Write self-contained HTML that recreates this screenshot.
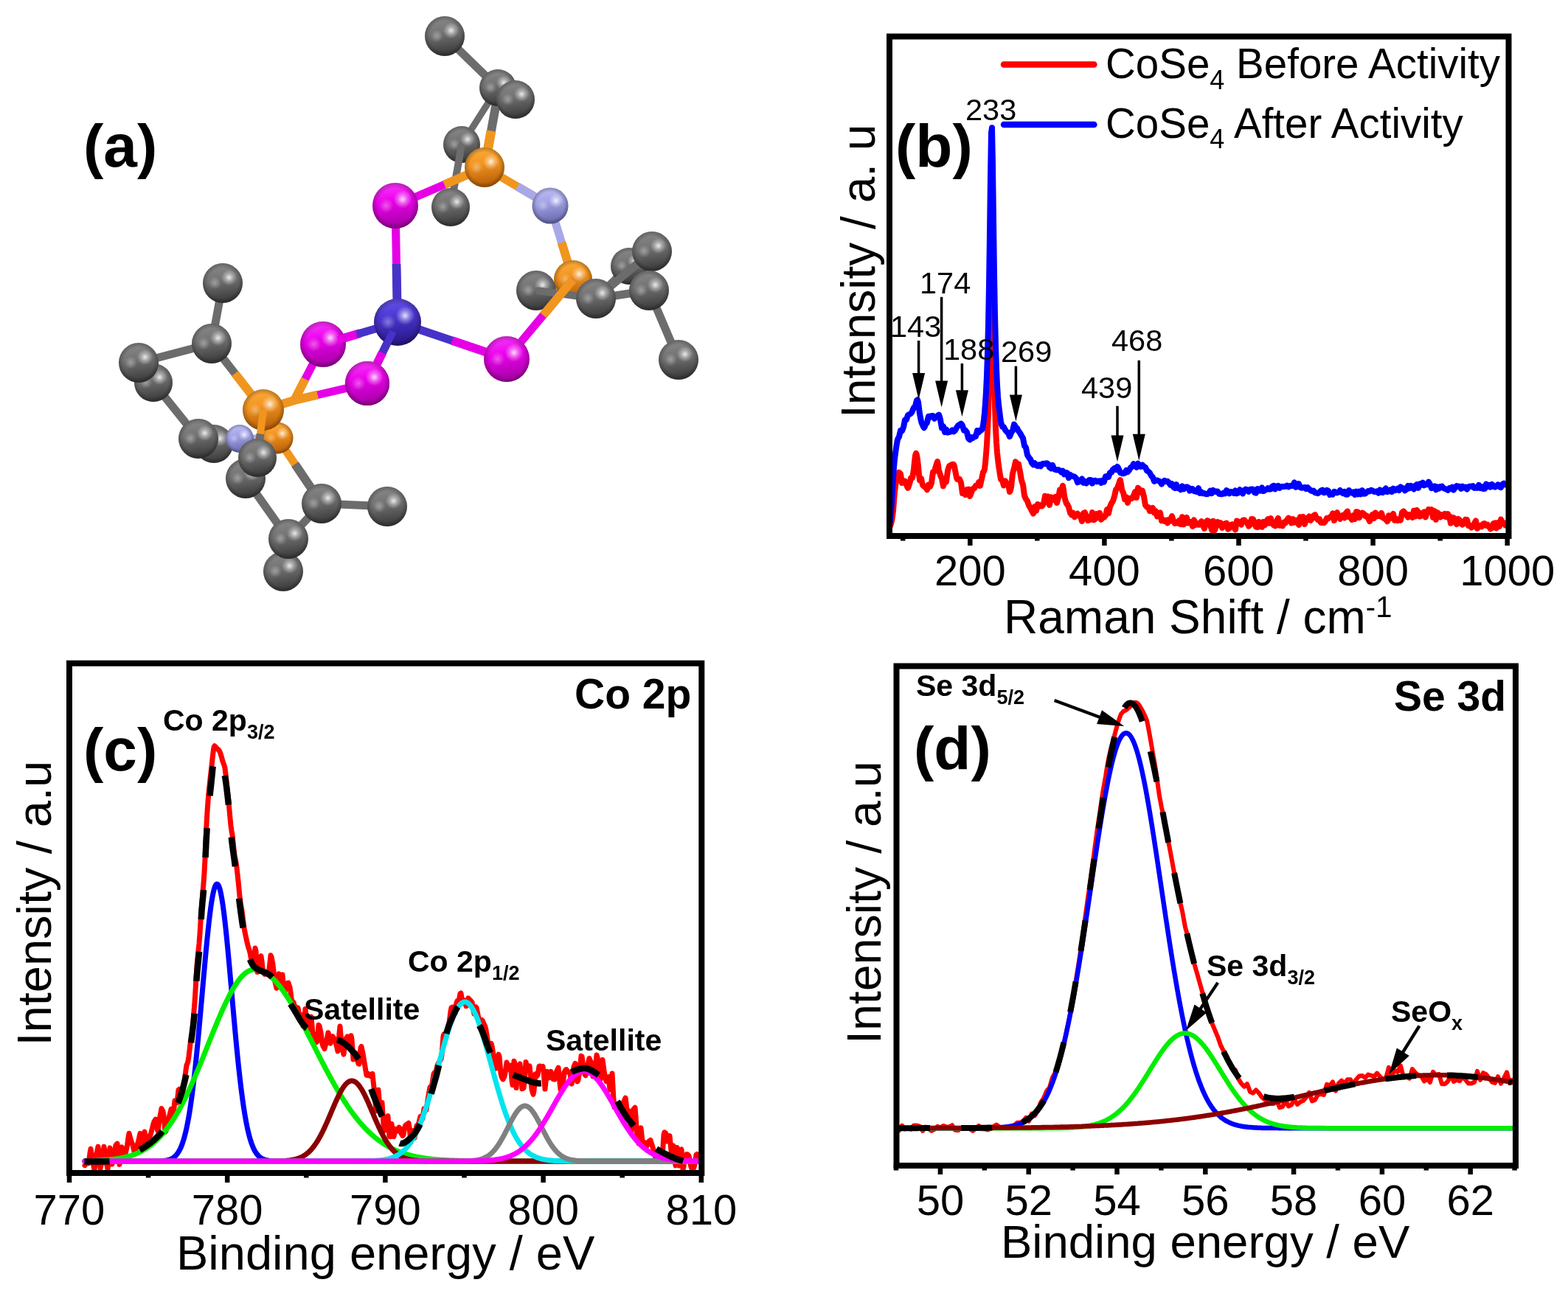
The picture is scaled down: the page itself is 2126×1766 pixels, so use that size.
<!DOCTYPE html><html><head><meta charset="utf-8"><title>Figure</title><style>html,body{margin:0;padding:0;background:#fff;}svg{display:block;}</style></head><body><svg width="2126" height="1766" viewBox="0 0 2126 1766" font-family="'Liberation Sans', Arial, Helvetica, sans-serif"><defs><linearGradient id="gC" x1="0" y1="0" x2="0.15" y2="1"><stop offset="0" stop-color="#8c8c8c"/><stop offset="0.45" stop-color="#747474"/><stop offset="1" stop-color="#3c3c3c"/></linearGradient><linearGradient id="gSe" x1="0" y1="0" x2="0.15" y2="1"><stop offset="0" stop-color="#ff40ff"/><stop offset="0.45" stop-color="#ea00ea"/><stop offset="1" stop-color="#a800a8"/></linearGradient><linearGradient id="gP" x1="0" y1="0" x2="0.15" y2="1"><stop offset="0" stop-color="#ffb040"/><stop offset="0.45" stop-color="#f29420"/><stop offset="1" stop-color="#b86008"/></linearGradient><linearGradient id="gCo" x1="0" y1="0" x2="0.15" y2="1"><stop offset="0" stop-color="#6a56f0"/><stop offset="0.45" stop-color="#4a36d0"/><stop offset="1" stop-color="#281888"/></linearGradient><linearGradient id="gN" x1="0" y1="0" x2="0.15" y2="1"><stop offset="0" stop-color="#c4c4f8"/><stop offset="0.45" stop-color="#a2a2e6"/><stop offset="1" stop-color="#6c6cb0"/></linearGradient><radialGradient id="gHL" cx="0.66" cy="0.36" r="0.2"><stop offset="0" stop-color="#fff" stop-opacity="0.85"/><stop offset="0.5" stop-color="#fff" stop-opacity="0.35"/><stop offset="1" stop-color="#fff" stop-opacity="0"/></radialGradient><radialGradient id="gHL2" cx="0.3" cy="0.5" r="0.16"><stop offset="0" stop-color="#fff" stop-opacity="0.35"/><stop offset="1" stop-color="#fff" stop-opacity="0"/></radialGradient><radialGradient id="gRim" cx="0.5" cy="0.5" r="0.5"><stop offset="0.75" stop-color="#000" stop-opacity="0"/><stop offset="1" stop-color="#000" stop-opacity="0.28"/></radialGradient></defs><rect width="100%" height="100%" fill="#fff"/><g id="pb">
<path d="M1207,713.5L1208,710.4L1209,706.7L1210,700.7L1211,693.3L1212,680.3L1213,667.1L1214,659.6L1215,652.3L1216,649.8L1217,651.6L1218,646.1L1219,640.9L1220,641.8L1221,642.8L1222,648.9L1223,655L1224,653.7L1225,652.6L1226,652.4L1227,652.4L1228,655L1229,657.5L1230,659.9L1231,661.8L1232,659.6L1233,656.2L1234,653L1235,648.6L1236,648.6L1237,648.3L1238,643L1239,636L1240,626.8L1241,618L1242,614.9L1243,617.3L1244,623.5L1245,632.4L1246,643.4L1247,651.3L1248,650.7L1249,649.2L1250,653.9L1251,657.9L1252,659L1253,660L1254,660.3L1255,660.3L1256,662.5L1257,664.2L1258,661.3L1259,657.5L1260,659L1261,660L1262,657.5L1263,655L1264,647.4L1265,640.2L1266,640L1267,639.6L1268,635.8L1269,632.1L1270,628.8L1271,626.1L1272,630.9L1273,638.5L1274,641.1L1275,644.4L1276,647.3L1277,648.6L1278,654.7L1279,659.3L1280,655.4L1281,650.4L1282,652.2L1283,653.5L1284,645.8L1285,638.5L1286,635.1L1287,632.2L1288,631.6L1289,631L1290,630.4L1291,630.1L1292,629.8L1293,629.9L1294,632.4L1295,637.9L1296,642.5L1297,647.9L1298,650.2L1299,650.4L1300,650.3L1301,649.9L1302,652.3L1303,654.8L1304,661.9L1305,669.1L1306,667.3L1307,665.4L1308,668.3L1309,671L1310,667.8L1311,664.1L1312,664.1L1313,663.6L1314,668.4L1315,673L1316,670.6L1317,668.1L1318,665.5L1319,663L1320,662.6L1321,662.3L1322,660.5L1323,658.7L1324,658.8L1325,658.8L1326,657L1327,654.1L1328,656.5L1329,658.8L1330,653.9L1331,649.5L1332,645.1L1333,640.3L1334,639.3L1335,636.6L1336,627.4L1337,616.2L1338,603L1339,584.4L1340,558.8L1341,519.7L1342,462L1343,387.3L1344,320.9L1345,313.3L1346,371.5L1347,448.4L1348,509.7L1349,551.9L1350,580.8L1351,600.3L1352,613.8L1353,623.2L1354,631.4L1355,638L1356,644.3L1357,650.1L1358,651.3L1359,651.6L1360,655.2L1361,658.5L1362,655.5L1363,652.4L1364,654.1L1365,655.7L1366,656.2L1367,656.6L1368,661.9L1369,667L1370,665L1371,660.7L1372,651.5L1373,642.2L1374,638.5L1375,635.3L1376,630.5L1377,626.4L1378,627.5L1379,631L1380,629.6L1381,629.6L1382,634.8L1383,639.4L1384,645.5L1385,651.6L1386,654.6L1387,657.5L1388,665.1L1389,672.4L1390,674.7L1391,676.9L1392,678.4L1393,679.7L1394,682.7L1395,685.5L1396,687.3L1397,688.9L1398,690.8L1399,692.7L1400,694.8L1401,696.6L1402,692.2L1403,687.4L1404,690.4L1405,692.8L1406,688.6L1407,684L1408,684.5L1409,684.8L1410,685.6L1411,686.6L1412,686.4L1413,686.5L1414,684.9L1415,683.4L1416,678.1L1417,672.8L1418,674.5L1419,676.3L1420,674.9L1421,673.6L1422,679.2L1423,684.9L1424,679.6L1425,674.3L1426,675.3L1427,676.2L1428,677.2L1429,678.1L1430,676.2L1431,673.9L1432,678.2L1433,682L1434,678.6L1435,675L1436,669.8L1437,664.6L1438,664.9L1439,665.6L1440,661.9L1441,658.8L1442,664.3L1443,672.8L1444,676.7L1445,680.3L1446,683.2L1447,683.8L1448,685.9L1449,687.7L1450,691.7L1451,695.6L1452,697L1453,698.4L1454,697.1L1455,695.7L1456,698.5L1457,701.2L1458,700L1459,698.7L1460,697.8L1461,696.8L1462,698.3L1463,699.7L1464,700.2L1465,700.6L1466,703.8L1467,707L1468,701.6L1469,696.1L1470,695.6L1471,695.2L1472,698.1L1473,701L1474,703.5L1475,706L1476,705.7L1477,705.4L1478,704.2L1479,703L1480,699.1L1481,695.1L1482,700.2L1483,705.2L1484,704.6L1485,704L1486,700.6L1487,697.2L1488,699.4L1489,701.5L1490,698.8L1491,695.8L1492,700.3L1493,704.6L1494,703.4L1495,702.1L1496,701.9L1497,701.6L1498,700.4L1499,699.2L1500,695.2L1501,691.2L1502,693.8L1503,696.3L1504,691.8L1505,687.1L1506,685L1507,682.5L1508,681.3L1509,679.4L1510,676.2L1511,673.2L1512,668.6L1513,664.2L1514,663L1515,661.8L1516,659L1517,656.7L1518,653.1L1519,651.1L1520,656.6L1521,663.7L1522,666.6L1523,668.1L1524,672.6L1525,677L1526,675.8L1527,674.2L1528,678.4L1529,681.9L1530,679.1L1531,676.1L1532,676.3L1533,676.3L1534,676.1L1535,675.9L1536,674L1537,672.2L1538,669.8L1539,667.2L1540,671.1L1541,674.9L1542,668.3L1543,661.8L1544,662.8L1545,663.9L1546,665.2L1547,667.5L1548,666.2L1549,665.7L1550,669.7L1551,673.4L1552,679.7L1553,685.3L1554,686.5L1555,687.7L1556,687.8L1557,687.9L1558,690.6L1559,693.2L1560,693.2L1561,693.1L1562,691.1L1563,689L1564,692.2L1565,695.4L1566,694.3L1567,693.2L1568,696.8L1569,700.3L1570,698.7L1571,697.1L1572,696.3L1573,695.5L1574,700.9L1575,706.2L1576,705.7L1577,705.2L1578,706.2L1579,707.1L1580,706.5L1581,705.7L1582,707.5L1583,709.2L1584,707.1L1585,705L1586,705.8L1587,706.6L1588,703.3L1589,700.1L1590,703.3L1591,706.5L1592,708.2L1593,709.9L1594,709.2L1595,708.5L1596,709.2L1597,709.8L1598,707.9L1599,705.9L1600,708.5L1601,711L1602,706.1L1603,701.2L1604,706.3L1605,711.4L1606,708.3L1607,705.2L1608,703.6L1609,702L1610,705.7L1611,709.4L1612,708.6L1613,707.8L1614,707.9L1615,708L1616,711L1617,714L1618,709.7L1619,705.3L1620,708.7L1621,712L1622,710.9L1623,709.8L1624,710.8L1625,711.7L1626,711.7L1627,711.7L1628,709.4L1629,707.2L1630,709.7L1631,712.2L1632,714.6L1633,716.9L1634,712.5L1635,708L1636,707L1637,706.1L1638,706.5L1639,706.9L1640,709.5L1641,712.1L1642,715.5L1643,718.9L1644,712.8L1645,706.8L1646,713L1647,719.2L1648,716.3L1649,713.4L1650,710.7L1651,708L1652,710L1653,711.9L1654,710.6L1655,709.2L1656,712.5L1657,715.8L1658,714.7L1659,713.5L1660,711.9L1661,710.2L1662,710L1663,709.7L1664,713.7L1665,717.6L1666,716.9L1667,716.2L1668,714L1669,711.8L1670,711.5L1671,711.2L1672,713.3L1673,715.4L1674,716.9L1675,718.3L1676,712.4L1677,706.5L1678,707L1679,707.4L1680,708.6L1681,709.9L1682,710.7L1683,711.6L1684,708.6L1685,705.7L1686,705.5L1687,705.3L1688,706.3L1689,707.3L1690,708.3L1691,709.2L1692,711.5L1693,713.7L1694,712.7L1695,711.8L1696,708L1697,704.1L1698,704.1L1699,704.2L1700,706.7L1701,709.3L1702,712L1703,714.7L1704,714.9L1705,715L1706,711.4L1707,707.8L1708,711.1L1709,714.4L1710,714.6L1711,714.8L1712,711.4L1713,707.9L1714,710L1715,712.2L1716,709.6L1717,707.1L1718,705.6L1719,704.2L1720,706.9L1721,709.5L1722,706.3L1723,703L1724,706.7L1725,710.4L1726,711.3L1727,712.2L1728,712.8L1729,713.4L1730,710.3L1731,707.2L1732,705L1733,702.8L1734,707.8L1735,712.8L1736,712.5L1737,712.3L1738,712.8L1739,713.4L1740,710.9L1741,708.4L1742,708.9L1743,709.3L1744,707.3L1745,705.3L1746,704L1747,702.6L1748,703.3L1749,703.9L1750,706.6L1751,709.4L1752,706.7L1753,704.1L1754,706.4L1755,708.7L1756,707.4L1757,706.1L1758,705.7L1759,705.3L1760,708.6L1761,711.9L1762,706.6L1763,701.3L1764,703.3L1765,705.4L1766,703.2L1767,701L1768,705.9L1769,710.9L1770,708L1771,705L1772,703.9L1773,702.8L1774,701.7L1775,700.5L1776,703.2L1777,705.9L1778,704.6L1779,703.3L1780,701.4L1781,699.6L1782,698.9L1783,698.2L1784,700.5L1785,702.7L1786,703.9L1787,705.1L1788,704.6L1789,704.1L1790,706.5L1791,708.9L1792,708.9L1793,708.9L1794,709L1795,709.1L1796,708.1L1797,707.1L1798,705L1799,702.8L1800,703L1801,703.2L1802,702.3L1803,701.4L1804,701.3L1805,701.2L1806,698.7L1807,696.3L1808,701.1L1809,705.9L1810,702.1L1811,698.4L1812,696.9L1813,695.3L1814,698L1815,700.7L1816,702.3L1817,703.8L1818,701.8L1819,699.9L1820,699.3L1821,698.7L1822,700.5L1823,702.4L1824,699.1L1825,695.8L1826,694.7L1827,693.7L1828,697.5L1829,701.2L1830,700.8L1831,700.4L1832,702.6L1833,704.8L1834,701.9L1835,699.1L1836,701.5L1837,704L1838,699.1L1839,694.2L1840,694.3L1841,694.5L1842,698.3L1843,702.1L1844,699.8L1845,697.5L1846,696.5L1847,695.6L1848,696.1L1849,696.6L1850,698.3L1851,700L1852,699.8L1853,699.6L1854,701.2L1855,702.7L1856,704.9L1857,707L1858,703.6L1859,700.3L1860,699.1L1861,697.9L1862,700.4L1863,703L1864,699.2L1865,695.5L1866,697.9L1867,700.4L1868,699.9L1869,699.5L1870,699.9L1871,700.3L1872,698.1L1873,695.8L1874,699.1L1875,702.3L1876,702.7L1877,703.1L1878,703.8L1879,704.6L1880,705.9L1881,707.2L1882,703.2L1883,699.2L1884,701.1L1885,703L1886,701.6L1887,700.1L1888,698.6L1889,697L1890,701.3L1891,705.7L1892,704.7L1893,703.7L1894,704.9L1895,706.1L1896,705.2L1897,704.4L1898,704.9L1899,705.5L1900,700.3L1901,695.1L1902,694.3L1903,693.5L1904,694.6L1905,695.7L1906,697L1907,698.3L1908,700L1909,701.6L1910,699.9L1911,698.2L1912,698.6L1913,698.9L1914,700.4L1915,701.9L1916,697.3L1917,692.7L1918,696.6L1919,700.4L1920,696.2L1921,692L1922,693.2L1923,694.4L1924,697.4L1925,700.4L1926,700.1L1927,699.7L1928,697.8L1929,696L1930,695.2L1931,694.4L1932,697.9L1933,701.3L1934,697.7L1935,694.1L1936,692.5L1937,690.9L1938,692.4L1939,693.9L1940,692.5L1941,691.2L1942,696.4L1943,701.7L1944,697.5L1945,693.2L1946,698.9L1947,704.7L1948,700L1949,695.3L1950,696.2L1951,697.1L1952,699.2L1953,701.3L1954,699.8L1955,698.3L1956,699.1L1957,699.9L1958,698.4L1959,696.9L1960,699.1L1961,701.2L1962,699.2L1963,697.1L1964,698.7L1965,700.2L1966,705L1967,709.7L1968,705.8L1969,701.9L1970,702.1L1971,702.2L1972,705.1L1973,707.9L1974,709.5L1975,711L1976,707.4L1977,703.8L1978,704.6L1979,705.3L1980,707.7L1981,710.2L1982,710.9L1983,711.6L1984,710.7L1985,709.8L1986,707.2L1987,704.6L1988,704.8L1989,705L1990,709L1991,712.9L1992,712.8L1993,712.7L1994,714.1L1995,715.5L1996,714.9L1997,714.3L1998,712.1L1999,710L2000,708.2L2001,706.5L2002,711.6L2003,716.6L2004,715.4L2005,714.2L2006,713.6L2007,712.8L2008,713.6L2009,714.3L2010,712.4L2011,710.5L2012,710.2L2013,710L2014,711.4L2015,712.9L2016,712.3L2017,711.7L2018,713.1L2019,714.5L2020,715.9L2021,717.3L2022,716.6L2023,716L2024,712.9L2025,709.8L2026,709.6L2027,709.4L2028,712.9L2029,716.3L2030,712.7L2031,709.1L2032,711.6L2033,714L2034,709.3L2035,704.5L2036,706.6L2037,708.7L2038,709L2039,709.2L2040,710.8L2041,712.5L2042,712.7" fill="none" stroke="#ff0000" stroke-width="8" stroke-linejoin="round" stroke-linecap="round"/>
<path d="M1207,706.9L1208,694.8L1209,682.9L1210,665.6L1211,648L1212,634L1213,622.9L1214,614.9L1215,608L1216,601.4L1217,596.3L1218,594.1L1219,592.5L1220,588.1L1221,584L1222,584.2L1223,584.4L1224,581.9L1225,579.5L1226,574.5L1227,569.6L1228,569.3L1229,569.2L1230,566.1L1231,563.2L1232,562.5L1233,561.9L1234,561.5L1235,560.9L1236,559.6L1237,557.6L1238,555.1L1239,552.8L1240,552L1241,551L1242,546.7L1243,543L1244,542.3L1245,545.5L1246,553.6L1247,561.1L1248,566.4L1249,571.4L1250,574.4L1251,576.7L1252,578.7L1253,580.2L1254,578.3L1255,574.8L1256,574.6L1257,573.3L1258,568.4L1259,564.7L1260,564.7L1261,565.7L1262,564.8L1263,564L1264,564.1L1265,564L1266,566L1267,567.7L1268,566.7L1269,565.7L1270,565.4L1271,565.3L1272,563.2L1273,562.6L1274,565.4L1275,569.2L1276,575.3L1277,580.4L1278,579.6L1279,578.3L1280,582.2L1281,586.1L1282,584.4L1283,582.5L1284,584.6L1285,586.6L1286,586.4L1287,586.1L1288,585.9L1289,585.5L1290,584.7L1291,583.5L1292,584.6L1293,585.5L1294,584.8L1295,583.9L1296,582.1L1297,580.2L1298,578.6L1299,577.1L1300,576.5L1301,576.2L1302,575.2L1303,574.6L1304,575.6L1305,577.3L1306,580.5L1307,583.8L1308,583.9L1309,583.6L1310,585L1311,586.5L1312,590.5L1313,594.4L1314,595.6L1315,596.4L1316,594.9L1317,593.1L1318,593.7L1319,594.1L1320,593.3L1321,592.4L1322,592.2L1323,592L1324,588.1L1325,584.2L1326,585.5L1327,586.5L1328,584.5L1329,583.5L1330,583.7L1331,583.1L1332,581.3L1333,576.5L1334,568.9L1335,559.4L1336,546.9L1337,530.7L1338,509.1L1339,479.9L1340,440.7L1341,387L1342,317L1343,239.4L1344,180.1L1345,173.3L1346,223.3L1347,298.8L1348,370.5L1349,427.2L1350,469.1L1351,499.5L1352,521.7L1353,538.1L1354,548.8L1355,556.4L1356,564.8L1357,572L1358,575.9L1359,578.8L1360,579.4L1361,579.2L1362,581.2L1363,583.1L1364,584.5L1365,585.7L1366,586.5L1367,587.1L1368,589.8L1369,592.1L1370,589.9L1371,586.8L1372,585.6L1373,584.1L1374,579.6L1375,575.6L1376,576.9L1377,579.5L1378,579.9L1379,580.8L1380,582.8L1381,584.8L1382,586L1383,587.4L1384,589.1L1385,591L1386,592.6L1387,594.2L1388,599.2L1389,604.7L1390,605.8L1391,607.1L1392,612.2L1393,617.1L1394,619L1395,620.3L1396,621.9L1397,622.7L1398,625.3L1399,627.9L1400,629.1L1401,630.2L1402,629.3L1403,628.3L1404,629.8L1405,631.1L1406,631.6L1407,632.1L1408,631.3L1409,630.4L1410,631.3L1411,632.3L1412,630.8L1413,629.4L1414,629.1L1415,628.7L1416,628.9L1417,629.2L1418,628.7L1419,628.3L1420,628.7L1421,629.1L1422,631.5L1423,633.9L1424,634.7L1425,635.5L1426,633.1L1427,630.8L1428,633.3L1429,635.9L1430,636.5L1431,637.1L1432,637.3L1433,637.4L1434,637.3L1435,637.2L1436,637.7L1437,638.1L1438,639.3L1439,640.5L1440,639.6L1441,638.8L1442,641L1443,643.3L1444,642.1L1445,641L1446,641.1L1447,641.3L1448,644.8L1449,648.2L1450,646.1L1451,643.9L1452,644.8L1453,645.7L1454,645.9L1455,646L1456,646.4L1457,646.8L1458,647.7L1459,648.5L1460,651.4L1461,654.3L1462,653.9L1463,653.4L1464,652.6L1465,651.8L1466,650.6L1467,649.5L1468,652.2L1469,655L1470,654L1471,653L1472,654.2L1473,655.5L1474,654.5L1475,653.4L1476,652.1L1477,650.9L1478,650.9L1479,651L1480,653.3L1481,655.6L1482,653.9L1483,652.1L1484,651.9L1485,651.7L1486,652.5L1487,653.4L1488,652.9L1489,652.5L1490,652.5L1491,652.3L1492,653.7L1493,654.9L1494,653.3L1495,651.6L1496,652.6L1497,653.5L1498,649.9L1499,646.2L1500,646.1L1501,645.7L1502,646.4L1503,646.9L1504,644L1505,641.1L1506,640.8L1507,640.6L1508,638.6L1509,636.8L1510,636L1511,635.2L1512,636.1L1513,637.1L1514,635L1515,633L1516,634.4L1517,636.6L1518,638.8L1519,641.2L1520,641.6L1521,641.5L1522,642.3L1523,642.2L1524,642.1L1525,641.7L1526,639.9L1527,638L1528,639L1529,640.1L1530,638.8L1531,637.6L1532,635.9L1533,634.2L1534,633.5L1535,632.9L1536,631L1537,629.3L1538,630.2L1539,631.3L1540,632.6L1541,633.9L1542,631.3L1543,628.7L1544,630.6L1545,632.6L1546,632.7L1547,633L1548,631.8L1549,630.8L1550,631.8L1551,632.9L1552,633.4L1553,634L1554,636.2L1555,638.4L1556,638.9L1557,639.7L1558,640.5L1559,641.4L1560,643.5L1561,645.4L1562,646.5L1563,647.2L1564,650.1L1565,653L1566,652.3L1567,651.6L1568,651.6L1569,651.5L1570,651.9L1571,652.3L1572,652.9L1573,653.5L1574,655L1575,656.6L1576,655L1577,653.4L1578,652.6L1579,651.9L1580,652.6L1581,653.3L1582,653.1L1583,652.8L1584,653.8L1585,654.7L1586,656.3L1587,657.9L1588,657.1L1589,656.3L1590,658.5L1591,660.6L1592,661.3L1593,662L1594,659.6L1595,657.2L1596,659.6L1597,662.1L1598,661.9L1599,661.6L1600,662.9L1601,664.2L1602,661.8L1603,659.4L1604,661.4L1605,663.4L1606,662.2L1607,661L1608,660.7L1609,660.4L1610,660.7L1611,661.1L1612,663.4L1613,665.7L1614,664.4L1615,663.1L1616,663.1L1617,663.1L1618,664.6L1619,666.2L1620,666.3L1621,666.5L1622,666.8L1623,667.2L1624,664.6L1625,662.1L1626,665.4L1627,668.8L1628,668.1L1629,667.4L1630,668.3L1631,669.3L1632,669.2L1633,669.1L1634,669.6L1635,670.1L1636,670.2L1637,670.3L1638,669.6L1639,668.9L1640,667.3L1641,665.6L1642,667.4L1643,669.1L1644,667.1L1645,665L1646,666L1647,667L1648,666.8L1649,666.5L1650,666.6L1651,666.6L1652,668.2L1653,669.8L1654,670L1655,670.2L1656,670.3L1657,670.3L1658,669.4L1659,668.5L1660,668.9L1661,669.4L1662,667.3L1663,665.2L1664,665.8L1665,666.5L1666,667.9L1667,669.3L1668,668.2L1669,667.1L1670,667.2L1671,667.2L1672,668.1L1673,669L1674,667.2L1675,665.4L1676,667.4L1677,669.4L1678,669L1679,668.5L1680,666.4L1681,664.2L1682,665.3L1683,666.4L1684,667.9L1685,669.5L1686,667.3L1687,665.2L1688,664.4L1689,663.5L1690,664L1691,664.4L1692,665.6L1693,666.7L1694,665.2L1695,663.8L1696,663.6L1697,663.4L1698,663.6L1699,663.7L1700,665.9L1701,668L1702,668.4L1703,668.7L1704,665.9L1705,663.1L1706,664.3L1707,665.4L1708,665.6L1709,665.8L1710,663.7L1711,661.5L1712,663.9L1713,666.2L1714,665.6L1715,664.9L1716,664.5L1717,664L1718,663.1L1719,662.2L1720,663L1721,663.7L1722,663.6L1723,663.5L1724,661.5L1725,659.6L1726,659.2L1727,658.9L1728,661.1L1729,663.3L1730,661.5L1731,659.7L1732,659.3L1733,658.9L1734,660.4L1735,661.9L1736,661L1737,660.2L1738,660.1L1739,660L1740,660L1741,660L1742,659.9L1743,659.9L1744,659.3L1745,658.6L1746,659.5L1747,660.4L1748,659.7L1749,659L1750,659L1751,659.1L1752,659.1L1753,659.1L1754,656.7L1755,654.4L1756,657.6L1757,660.8L1758,660.4L1759,659.9L1760,658.1L1761,656.3L1762,658.7L1763,661.1L1764,661.5L1765,661.8L1766,661.6L1767,661.3L1768,661.1L1769,660.9L1770,662L1771,663.1L1772,662.2L1773,661.3L1774,662.3L1775,663.3L1776,664.3L1777,665.2L1778,665.7L1779,666.2L1780,665.9L1781,665.6L1782,666.9L1783,668.2L1784,668.5L1785,668.7L1786,668.9L1787,669.2L1788,668.4L1789,667.5L1790,666.6L1791,665.6L1792,665.1L1793,664.6L1794,666.5L1795,668.3L1796,668.1L1797,668L1798,666.4L1799,664.8L1800,665.3L1801,665.7L1802,668.4L1803,671L1804,670.3L1805,669.6L1806,670.1L1807,670.6L1808,668.7L1809,666.9L1810,667.2L1811,667.6L1812,668.1L1813,668.5L1814,668L1815,667.4L1816,666.2L1817,665L1818,666.4L1819,667.8L1820,668.4L1821,669.1L1822,668.1L1823,667.1L1824,668.9L1825,670.7L1826,670.7L1827,670.8L1828,667.9L1829,665L1830,666.2L1831,667.5L1832,668.1L1833,668.6L1834,668L1835,667.4L1836,669.2L1837,671L1838,668.8L1839,666.6L1840,668.5L1841,670.4L1842,668.6L1843,666.8L1844,668.5L1845,670.2L1846,667.6L1847,665.1L1848,667.4L1849,669.8L1850,669.7L1851,669.6L1852,668.7L1853,667.8L1854,666.9L1855,666L1856,666.2L1857,666.4L1858,665.6L1859,664.7L1860,665.1L1861,665.5L1862,666.2L1863,666.9L1864,666.9L1865,666.8L1866,666.6L1867,666.3L1868,667.5L1869,668.7L1870,666.5L1871,664.3L1872,666L1873,667.8L1874,667.9L1875,668.1L1876,666.3L1877,664.6L1878,663.5L1879,662.5L1880,664.8L1881,667.1L1882,666.7L1883,666.3L1884,665.4L1885,664.5L1886,665.8L1887,667.1L1888,664.8L1889,662.6L1890,664L1891,665.3L1892,665L1893,664.6L1894,663.7L1895,662.7L1896,663.9L1897,665L1898,662.8L1899,660.5L1900,661L1901,661.6L1902,662.1L1903,662.5L1904,663.9L1905,665.3L1906,664.5L1907,663.8L1908,661.4L1909,659L1910,660.7L1911,662.4L1912,660.7L1913,658.9L1914,659.6L1915,660.2L1916,661.9L1917,663.5L1918,661.2L1919,658.8L1920,658L1921,657.2L1922,659.5L1923,661.8L1924,659L1925,656.3L1926,657L1927,657.7L1928,656.2L1929,654.7L1930,656.5L1931,658.3L1932,657.5L1933,656.7L1934,656.8L1935,657.1L1936,655.3L1937,653.7L1938,655.4L1939,657.1L1940,659.7L1941,662.2L1942,661.2L1943,660.1L1944,659.9L1945,659.5L1946,661.9L1947,664.3L1948,662.4L1949,660.5L1950,661.6L1951,662.6L1952,661.3L1953,660L1954,659.8L1955,659.6L1956,660.8L1957,662L1958,662.4L1959,662.9L1960,663.3L1961,663.7L1962,664.2L1963,664.8L1964,663.4L1965,662.1L1966,662.7L1967,663.2L1968,662L1969,660.8L1970,662.7L1971,664.5L1972,662.8L1973,661L1974,660L1975,659L1976,659.6L1977,660.1L1978,659.9L1979,659.7L1980,661.3L1981,662.9L1982,661.3L1983,659.8L1984,660.7L1985,661.6L1986,661.2L1987,660.7L1988,662.1L1989,663.6L1990,661.9L1991,660.2L1992,660L1993,659.7L1994,659.8L1995,659.9L1996,659.5L1997,659.1L1998,660.5L1999,661.9L2000,661.4L2001,660.9L2002,661.3L2003,661.8L2004,659.8L2005,657.9L2006,660L2007,662.1L2008,661.2L2009,660.3L2010,661.7L2011,663L2012,663L2013,662.9L2014,659.8L2015,656.6L2016,658.4L2017,660.2L2018,659L2019,657.9L2020,659.2L2021,660.6L2022,658.7L2023,656.9L2024,658.2L2025,659.5L2026,660.1L2027,660.6L2028,659.9L2029,659.3L2030,658.4L2031,657.4L2032,658.8L2033,660.2L2034,660.7L2035,661.2L2036,659.1L2037,656.9L2038,656.3L2039,655.7L2040,656.6L2041,657.4L2042,657.4" fill="none" stroke="#0000ff" stroke-width="8" stroke-linejoin="round" stroke-linecap="round"/>
<rect x="1206" y="49.5" width="839.5" height="677.5" fill="none" stroke="#000" stroke-width="8"/>
<line x1="1315.3" y1="723" x2="1315.3" y2="740" stroke="#000" stroke-width="6.5"/><line x1="1497.4" y1="723" x2="1497.4" y2="740" stroke="#000" stroke-width="6.5"/><line x1="1679.5" y1="723" x2="1679.5" y2="740" stroke="#000" stroke-width="6.5"/><line x1="1861.6" y1="723" x2="1861.6" y2="740" stroke="#000" stroke-width="6.5"/><line x1="2043.7" y1="723" x2="2043.7" y2="740" stroke="#000" stroke-width="6.5"/><line x1="1224.2" y1="725" x2="1224.2" y2="733.5" stroke="#000" stroke-width="6.5"/><line x1="1406.3" y1="725" x2="1406.3" y2="733.5" stroke="#000" stroke-width="6.5"/><line x1="1588.4" y1="725" x2="1588.4" y2="733.5" stroke="#000" stroke-width="6.5"/><line x1="1770.5" y1="725" x2="1770.5" y2="733.5" stroke="#000" stroke-width="6.5"/><line x1="1952.7" y1="725" x2="1952.7" y2="733.5" stroke="#000" stroke-width="6.5"/>
<text x="1315.3" y="793.6" font-size="58" font-weight="normal" text-anchor="middle">200</text>
<text x="1497.4" y="793.6" font-size="58" font-weight="normal" text-anchor="middle">400</text>
<text x="1679.5" y="793.6" font-size="58" font-weight="normal" text-anchor="middle">600</text>
<text x="1861.6" y="793.6" font-size="58" font-weight="normal" text-anchor="middle">800</text>
<text x="2043.7" y="793.6" font-size="58" font-weight="normal" text-anchor="middle">1000</text>
<text x="1361" y="859.3" font-size="64" font-weight="normal" text-anchor="start">Raman Shift / cm<tspan font-size="40" dy="-22">-1</tspan></text>
<text transform="translate(1185.5,567) rotate(-90)" x="0" y="0" font-size="64">Intensity / a. u</text>
<text x="1214" y="225.5" font-size="82" font-weight="bold" text-anchor="start">(b)</text>
<line x1="1361" y1="87.5" x2="1483.4" y2="87.5" stroke="#ff0000" stroke-width="8.5" stroke-linecap="round"/>
<line x1="1361" y1="169" x2="1483.4" y2="169" stroke="#0000ff" stroke-width="8.5" stroke-linecap="round"/>
<text x="1499" y="106.2" font-size="56.5" font-weight="normal" text-anchor="start">CoSe<tspan font-size="36" dy="14.3">4</tspan><tspan dy="-14.3"> Before Activity</tspan></text>
<text x="1499" y="187.1" font-size="56.5" font-weight="normal" text-anchor="start">CoSe<tspan font-size="36" dy="14.3">4</tspan><tspan dy="-14.3"> After Activity</tspan></text>
<text x="1309" y="162.8" font-size="41.5" font-weight="normal" text-anchor="start">233</text>
<text x="1247" y="397.6" font-size="41.5" font-weight="normal" text-anchor="start">174</text>
<line x1="1276.6" y1="402.8" x2="1276.6" y2="518.4" stroke="#000" stroke-width="3.5"/><path d="M1268.1,516.4L1285.1,516.4L1276.6,552.4Z" fill="#000"/>
<text x="1207" y="457" font-size="41.5" font-weight="normal" text-anchor="start">143</text>
<line x1="1245.6" y1="462" x2="1245.6" y2="508" stroke="#000" stroke-width="3.5"/><path d="M1237.1,506L1254.1,506L1245.6,542Z" fill="#000"/>
<text x="1279" y="488" font-size="41.5" font-weight="normal" text-anchor="start">188</text>
<line x1="1304.4" y1="493" x2="1304.4" y2="531.3" stroke="#000" stroke-width="3.5"/><path d="M1295.9,529.3L1312.9,529.3L1304.4,565.3Z" fill="#000"/>
<text x="1357" y="490.5" font-size="41.5" font-weight="normal" text-anchor="start">269</text>
<line x1="1377.4" y1="496.6" x2="1377.4" y2="537.4" stroke="#000" stroke-width="3.5"/><path d="M1368.9,535.4L1385.9,535.4L1377.4,571.4Z" fill="#000"/>
<text x="1466" y="540.4" font-size="41.5" font-weight="normal" text-anchor="start">439</text>
<line x1="1515" y1="550.7" x2="1515" y2="592.4" stroke="#000" stroke-width="3.5"/><path d="M1506.5,590.4L1523.5,590.4L1515,626.4Z" fill="#000"/>
<text x="1507" y="476" font-size="41.5" font-weight="normal" text-anchor="start">468</text>
<line x1="1544.3" y1="488.8" x2="1544.3" y2="590.7" stroke="#000" stroke-width="3.5"/><path d="M1535.8,588.7L1552.8,588.7L1544.3,624.7Z" fill="#000"/>
</g>
<g id="pc">
<path d="M115,1580.8L116,1578.7L117,1576.4L118,1575.5L119,1576.7L120,1577.8L121,1571.7L122,1563.6L123,1558.3L124,1565.1L125,1572L126,1577.5L127,1582.1L128,1586.8L129,1579.1L130,1571.2L131,1564.6L132,1559.9L133,1555.2L134,1563.8L135,1575.9L136,1585L137,1580.7L138,1576.4L139,1570.2L140,1562.6L141,1555.2L142,1562.4L143,1569.7L144,1576L145,1580.9L146,1585.8L147,1577.1L148,1564.8L149,1557L150,1566.8L151,1576.7L152,1579.1L153,1576.4L154,1573.7L155,1566L156,1558.2L157,1553.1L158,1552.1L159,1551.2L160,1560.3L161,1572.1L162,1579.4L163,1569.3L164,1559.2L165,1555.9L166,1557L167,1558.2L168,1561.2L169,1564.2L170,1564.5L171,1560.6L172,1556.8L173,1550L174,1542.5L175,1537.2L176,1540.9L177,1544.6L178,1547.8L179,1550.7L180,1553.6L181,1557.7L182,1561.8L183,1563L184,1560L185,1556.9L186,1553.5L187,1550L188,1546.4L189,1541.8L190,1537.3L191,1540.9L192,1549.9L193,1559L194,1548.6L195,1538.1L196,1535L197,1543.1L198,1551.2L199,1549.3L200,1544.8L201,1541.2L202,1541.4L203,1541.5L204,1539.3L205,1535.7L206,1532.1L207,1528.2L208,1524.2L209,1521.3L210,1519.8L211,1518.2L212,1523.4L213,1530.3L214,1534.3L215,1527.1L216,1520.2L217,1514.2L218,1508.9L219,1503.5L220,1505.5L221,1507.5L222,1513.1L223,1524.3L224,1535.4L225,1533.8L226,1528.7L227,1524L228,1520.3L229,1516.7L230,1512.7L231,1508.5L232,1504.4L233,1508.6L234,1512.5L235,1510.8L236,1501.8L237,1493.1L238,1493.5L239,1495.9L240,1495.8L241,1486.8L242,1478.2L243,1477.4L244,1481.1L245,1484.2L246,1483.8L247,1482.9L248,1479.7L249,1473.6L250,1467.4L251,1459.5L252,1451.3L253,1444.8L254,1442.7L255,1439.2L256,1432.7L257,1424.2L258,1415.5L259,1410.6L260,1405.8L261,1397.7L262,1385L263,1371.3L264,1359.3L265,1343.6L266,1325L267,1309.8L268,1298.7L269,1289.4L270,1279.5L271,1266.4L272,1250.3L273,1234.9L274,1222.5L275,1210.2L276,1197.7L277,1184.2L278,1165L279,1141.8L280,1118.7L281,1101.1L282,1087.1L283,1075.8L284,1065.5L285,1056.4L286,1047.7L287,1038.8L288,1029.3L289,1020.5L290,1013.5L291,1011.7L292,1013L293,1013.8L294,1014.9L295,1015.9L296,1016.7L297,1017.7L298,1019.8L299,1022.2L300,1025.6L301,1029L302,1032.8L303,1035.5L304,1038L305,1042L306,1050.2L307,1059.7L308,1069.2L309,1078.3L310,1088L311,1098.5L312,1109.8L313,1119.9L314,1127.1L315,1132.4L316,1141.6L317,1151.6L318,1160.5L319,1164.8L320,1169.5L321,1176.8L322,1185.9L323,1194.8L324,1205.4L325,1215.6L326,1224.1L327,1229.8L328,1235L329,1242.9L330,1250.9L331,1258.8L332,1264L333,1268.9L334,1273.6L335,1278.2L336,1282.2L337,1285.7L338,1288.6L339,1292.2L340,1298L341,1304L342,1306.3L343,1307.3L344,1306L345,1296.2L346,1286L347,1290.3L348,1304.4L349,1318.4L350,1311.4L351,1304.3L352,1299.5L353,1298.2L354,1296.8L355,1303.4L356,1311.9L357,1319L358,1320.2L359,1321.5L360,1321.1L361,1319.6L362,1318.1L363,1318L364,1318L365,1314.3L366,1305L367,1295.8L368,1297.8L369,1302.6L370,1308.3L371,1317.2L372,1326.1L373,1332.1L374,1336.2L375,1340.4L376,1331.6L377,1322.8L378,1320.9L379,1329.5L380,1338.1L381,1333.7L382,1326L383,1322L384,1333L385,1343.9L386,1346L387,1342L388,1338L389,1335.7L390,1333.3L391,1333.1L392,1336.2L393,1339.2L394,1345.7L395,1353L396,1359L397,1359.2L398,1359.6L399,1362.7L400,1367.7L401,1372.8L402,1369.7L403,1366.5L404,1366.9L405,1372.5L406,1378.1L407,1378L408,1376.5L409,1376.7L410,1384.2L411,1391.7L412,1388.7L413,1378.6L414,1368.4L415,1378.3L416,1388.1L417,1394.2L418,1395L419,1395.8L420,1390.1L421,1382.8L422,1379.1L423,1390.5L424,1401.9L425,1405.7L426,1404.3L427,1402.9L428,1408.3L429,1413.7L430,1412.5L431,1401.4L432,1390.2L433,1391.4L434,1395.6L435,1400.4L436,1407.8L437,1415.1L438,1419.1L439,1420.8L440,1422.5L441,1418.7L442,1414.9L443,1410.7L444,1405.7L445,1400.7L446,1404.7L447,1411L448,1415.3L449,1410.9L450,1406.6L451,1405.8L452,1407.3L453,1408.8L454,1411.4L455,1413.9L456,1417.2L457,1421.5L458,1425.9L459,1415.4L460,1401.2L461,1392.1L462,1403.5L463,1415L464,1422L465,1426L466,1430.1L467,1422.1L468,1414.2L469,1408.8L470,1407.4L471,1405.9L472,1410.6L473,1416.8L474,1420.3L475,1412.5L476,1404.7L477,1409.7L478,1423.3L479,1436.9L480,1432.9L481,1428.9L482,1428.1L483,1432.2L484,1436.3L485,1439.7L486,1442.9L487,1443.2L488,1432.2L489,1421.2L490,1419.4L491,1424L492,1428.8L493,1434.7L494,1440.8L495,1446.8L496,1452.6L497,1458.4L498,1458.6L499,1457.5L500,1456.8L501,1458.2L502,1459.6L503,1459.4L504,1458L505,1456.5L506,1465.8L507,1475.1L508,1485L509,1495.9L510,1506.9L511,1498.9L512,1486.1L513,1478.2L514,1490.1L515,1502.1L516,1504.2L517,1499.8L518,1495.3L519,1510.3L520,1525.3L521,1533.7L522,1532.6L523,1531.5L524,1524.8L525,1516.9L526,1513.6L527,1527.6L528,1541.5L529,1541.7L530,1532.9L531,1524.3L532,1531.9L533,1539.3L534,1541.7L535,1536.5L536,1531.4L537,1531.8L538,1533.4L539,1534.1L540,1531.6L541,1529L542,1530.3L543,1534L544,1537.4L545,1539L546,1540.5L547,1539.1L548,1533.5L549,1527.9L550,1526.2L551,1525.5L552,1524.7L553,1524L554,1523.3L555,1529.2L556,1539.5L557,1549.5L558,1542.6L559,1535.7L560,1533.7L561,1538.8L562,1543.5L563,1539.1L564,1532.4L565,1526.9L566,1526.1L567,1525.2L568,1522.4L569,1518.4L570,1514.4L571,1516.7L572,1518.8L573,1517.3L574,1510.5L575,1503.7L576,1504L577,1505.8L578,1505.7L579,1498.7L580,1491.8L581,1485.7L582,1480.1L583,1474.6L584,1473.9L585,1473L586,1469.8L587,1463.2L588,1456.8L589,1455.1L590,1454.5L591,1453.1L592,1449.3L593,1445.2L594,1442.7L595,1441.2L596,1439.7L597,1438L598,1436.4L599,1430.6L600,1418.3L601,1405.5L602,1402.8L603,1402.9L604,1402.9L605,1401.3L606,1400L607,1396.5L608,1391.7L609,1387.1L610,1379.4L611,1371.7L612,1366.7L613,1366.3L614,1365.9L615,1368.9L616,1372.8L617,1374.5L618,1367.3L619,1360.3L620,1357.6L621,1357.9L622,1358.5L623,1353L624,1347.7L625,1347L626,1353.4L627,1360L628,1359.6L629,1357.7L630,1356.9L631,1360.8L632,1364.8L633,1363.5L634,1358.6L635,1353.9L636,1354.9L637,1355.9L638,1357.1L639,1358.2L640,1359.4L641,1364.7L642,1371.3L643,1375.5L644,1370.7L645,1365.8L646,1366.8L647,1371.6L648,1376.4L649,1381.8L650,1387.3L651,1389.3L652,1386.3L653,1383.3L654,1384.2L655,1386.3L656,1388.5L657,1390.6L658,1392.9L659,1397.3L660,1403.4L661,1409.7L662,1416.7L663,1423.7L664,1425.9L665,1420.8L666,1415.2L667,1418.7L668,1424.6L669,1431.2L670,1440.3L671,1449.6L672,1449.4L673,1442.7L674,1435.8L675,1433.1L676,1430.2L677,1433L678,1444.4L679,1455.9L680,1460.3L681,1462.5L682,1463.9L683,1461.9L684,1459.9L685,1454.9L686,1447.9L687,1441L688,1444.9L689,1448.9L690,1450.2L691,1447.6L692,1445L693,1453.8L694,1465.6L695,1471.7L696,1455.5L697,1439.2L698,1442.6L699,1459.1L700,1475.6L701,1464.7L702,1453.7L703,1446.5L704,1444.7L705,1443L706,1453.2L707,1466.3L708,1476.8L709,1476.3L710,1475.8L711,1467.5L712,1454L713,1440.5L714,1445.6L715,1450.7L716,1452.4L717,1449.1L718,1445.8L719,1455L720,1467.4L721,1477.9L722,1481.2L723,1484.3L724,1479L725,1467.9L726,1456.8L727,1458.2L728,1459.5L729,1458L730,1452.1L731,1446.2L732,1446L733,1447.2L734,1448L735,1447.2L736,1446.4L737,1453.2L738,1465.2L739,1477.1L740,1467.3L741,1457.5L742,1453.4L743,1457.8L744,1462.2L745,1459.9L746,1455.9L747,1453.5L748,1457.7L749,1461.9L750,1463.7L751,1463.9L752,1464.1L753,1459.8L754,1455.5L755,1452.2L756,1450.2L757,1448.2L758,1457L759,1468.5L760,1477.8L761,1477.9L762,1478L763,1472.6L764,1463.5L765,1454.5L766,1452.7L767,1451L768,1450.6L769,1452.4L770,1454.1L771,1454.4L772,1454.3L773,1455.7L774,1462.9L775,1470.1L776,1466.9L777,1456.7L778,1446.6L779,1444.4L780,1442.3L781,1445.4L782,1456.2L783,1467L784,1464.4L785,1458.5L786,1451.8L787,1442L788,1432.3L789,1432.8L790,1440.3L791,1447.8L792,1452.7L793,1457.6L794,1458.8L795,1454.2L796,1449.6L797,1444.5L798,1439.2L799,1435.5L800,1437.7L801,1440L802,1445.3L803,1452.6L804,1460L805,1457.4L806,1454.8L807,1449.6L808,1440.3L809,1431L810,1434.2L811,1440.5L812,1447.3L813,1455.7L814,1464.2L815,1460.6L816,1449L817,1437.5L818,1444.8L819,1452.3L820,1458.4L821,1462.6L822,1466.8L823,1465L824,1461.7L825,1460.8L826,1469.4L827,1478.1L828,1475.7L829,1465.8L830,1456L831,1473.8L832,1491.6L833,1501.6L834,1500.1L835,1498.5L836,1501.4L837,1505.4L838,1507.6L839,1502.8L840,1498.1L841,1496.6L842,1497.2L843,1497.9L844,1496.6L845,1495.4L846,1493.7L847,1491.4L848,1489.1L849,1496L850,1505.1L851,1511.9L852,1509.4L853,1506.8L854,1512.6L855,1524L856,1535.4L857,1523.7L858,1511.9L859,1504.5L860,1503.4L861,1502.3L862,1514L863,1529L864,1541.9L865,1546.6L866,1551.3L867,1547.8L868,1538.8L869,1529.8L870,1539L871,1548.2L872,1553L873,1551.3L874,1549.5L875,1551L876,1553.3L877,1554.5L878,1551.9L879,1549.2L880,1547.8L881,1547.2L882,1546.5L883,1549.7L884,1552.8L885,1556.2L886,1560.1L887,1564L888,1567.6L889,1571.1L890,1573.8L891,1573.4L892,1572.9L893,1571.3L894,1568.9L895,1566.6L896,1570.7L897,1574.9L898,1570.9L899,1554.7L900,1538.6L901,1535.8L902,1536.3L903,1537.8L904,1542.9L905,1548L906,1547.8L907,1544.2L908,1540.6L909,1550.9L910,1561.1L911,1564.9L912,1559.4L913,1553.9L914,1562.4L915,1574.2L916,1581L917,1568.7L918,1556.5L919,1558.6L920,1569.9L921,1581.1L922,1570.3L923,1559.6L924,1559L925,1572.8L926,1586.5L927,1582.5L928,1574.2L929,1567.4L930,1566.5L931,1565.6L932,1565.8L933,1566.7L934,1567.6L935,1573.2L936,1578.7L937,1582.8L938,1585L939,1587.2L940,1585.6L941,1583L942,1579.6L943,1572.9L944,1566.2L945,1565.5L946,1568.7L947,1571.8L948,1573.4" fill="none" stroke="#ff0000" stroke-width="7" stroke-linejoin="round" stroke-linecap="round"/>
<path d="M115,1575L116,1575L117,1575L118,1575L119,1575L120,1575L121,1575L122,1575L123,1575L124,1575L125,1575L126,1575L127,1575L128,1575L129,1575L130,1575L131,1575L132,1575L133,1575L134,1575L135,1575L136,1575L137,1575L138,1575L139,1575L140,1575L141,1575L142,1575L143,1575L144,1575L145,1575L146,1575L147,1575L148,1575L149,1575L150,1575L151,1575L152,1575L153,1575L154,1575L155,1575L156,1575L157,1575L158,1575L159,1575L160,1575L161,1575L162,1575L163,1575L164,1575L165,1575L166,1575L167,1575L168,1575L169,1575L170,1575L171,1575L172,1575L173,1575L174,1575L175,1575L176,1575L177,1575L178,1575L179,1575L180,1575L181,1575L182,1575L183,1575L184,1575L185,1575L186,1575L187,1575L188,1575L189,1575L190,1575L191,1575L192,1575L193,1575L194,1575L195,1575L196,1575L197,1575L198,1575L199,1575L200,1575L201,1575L202,1575L203,1575L204,1575L205,1575L206,1575L207,1575L208,1575L209,1575L210,1574.9L211,1574.9L212,1574.9L213,1574.9L214,1574.9L215,1574.9L216,1574.8L217,1574.8L218,1574.7L219,1574.7L220,1574.6L221,1574.5L222,1574.4L223,1574.3L224,1574.2L225,1574.1L226,1573.9L227,1573.7L228,1573.4L229,1573.1L230,1572.8L231,1572.4L232,1572L233,1571.5L234,1570.9L235,1570.3L236,1569.6L237,1568.7L238,1567.7L239,1566.7L240,1565.4L241,1564.1L242,1562.5L243,1560.8L244,1558.9L245,1556.8L246,1554.4L247,1551.8L248,1548.9L249,1545.8L250,1542.3L251,1538.5L252,1534.4L253,1529.9L254,1525.1L255,1519.9L256,1514.3L257,1508.3L258,1501.9L259,1495.1L260,1487.9L261,1480.2L262,1472.1L263,1463.6L264,1454.8L265,1445.5L266,1435.9L267,1425.9L268,1415.6L269,1405L270,1394.2L271,1383.1L272,1371.9L273,1360.6L274,1349.2L275,1337.8L276,1326.5L277,1315.2L278,1304.2L279,1293.3L280,1282.8L281,1272.6L282,1262.8L283,1253.6L284,1244.9L285,1236.7L286,1229.3L287,1222.6L288,1216.6L289,1211.5L290,1207.2L291,1203.8L292,1201.3L293,1199.7L294,1199L295,1199.3L296,1200.5L297,1202.7L298,1205.7L299,1209.7L300,1214.5L301,1220.1L302,1226.5L303,1233.7L304,1241.5L305,1250L306,1259.1L307,1268.6L308,1278.7L309,1289.1L310,1299.8L311,1310.8L312,1322L313,1333.3L314,1344.7L315,1356.1L316,1367.4L317,1378.7L318,1389.8L319,1400.7L320,1411.4L321,1421.8L322,1431.9L323,1441.7L324,1451.1L325,1460.1L326,1468.8L327,1477L328,1484.8L329,1492.3L330,1499.2L331,1505.8L332,1512L333,1517.7L334,1523.1L335,1528.1L336,1532.7L337,1536.9L338,1540.8L339,1544.4L340,1547.7L341,1550.7L342,1553.4L343,1555.8L344,1558.1L345,1560.1L346,1561.9L347,1563.5L348,1564.9L349,1566.2L350,1567.3L351,1568.3L352,1569.2L353,1570L354,1570.7L355,1571.3L356,1571.8L357,1572.3L358,1572.7L359,1573L360,1573.3L361,1573.6L362,1573.8L363,1574L364,1574.1L365,1574.3L366,1574.4L367,1574.5L368,1574.6L369,1574.7L370,1574.7L371,1574.8L372,1574.8L373,1574.8L374,1574.9L375,1574.9L376,1574.9L377,1574.9L378,1574.9L379,1575L380,1575L381,1575L382,1575L383,1575L384,1575L385,1575L386,1575L387,1575L388,1575L389,1575L390,1575L391,1575L392,1575L393,1575L394,1575L395,1575L396,1575L397,1575L398,1575L399,1575L400,1575L401,1575L402,1575L403,1575L404,1575L405,1575L406,1575L407,1575L408,1575L409,1575L410,1575L411,1575L412,1575L413,1575L414,1575L415,1575L416,1575L417,1575L418,1575L419,1575L420,1575L421,1575L422,1575L423,1575L424,1575L425,1575L426,1575L427,1575L428,1575L429,1575L430,1575L431,1575L432,1575L433,1575L434,1575L435,1575L436,1575L437,1575L438,1575L439,1575L440,1575L441,1575L442,1575L443,1575L444,1575L445,1575L446,1575L447,1575L448,1575L449,1575L450,1575L451,1575L452,1575L453,1575L454,1575L455,1575L456,1575L457,1575L458,1575L459,1575L460,1575L461,1575L462,1575L463,1575L464,1575L465,1575L466,1575L467,1575L468,1575L469,1575L470,1575L471,1575L472,1575L473,1575L474,1575L475,1575L476,1575L477,1575L478,1575L479,1575L480,1575L481,1575L482,1575L483,1575L484,1575L485,1575L486,1575L487,1575L488,1575L489,1575L490,1575L491,1575L492,1575L493,1575L494,1575L495,1575L496,1575L497,1575L498,1575L499,1575L500,1575L501,1575L502,1575L503,1575L504,1575L505,1575L506,1575L507,1575L508,1575L509,1575L510,1575L511,1575L512,1575L513,1575L514,1575L515,1575L516,1575L517,1575L518,1575L519,1575L520,1575L521,1575L522,1575L523,1575L524,1575L525,1575L526,1575L527,1575L528,1575L529,1575L530,1575L531,1575L532,1575L533,1575L534,1575L535,1575L536,1575L537,1575L538,1575L539,1575L540,1575L541,1575L542,1575L543,1575L544,1575L545,1575L546,1575L547,1575L548,1575L549,1575L550,1575L551,1575L552,1575L553,1575L554,1575L555,1575L556,1575L557,1575L558,1575L559,1575L560,1575L561,1575L562,1575L563,1575L564,1575L565,1575L566,1575L567,1575L568,1575L569,1575L570,1575L571,1575L572,1575L573,1575L574,1575L575,1575L576,1575L577,1575L578,1575L579,1575L580,1575L581,1575L582,1575L583,1575L584,1575L585,1575L586,1575L587,1575L588,1575L589,1575L590,1575L591,1575L592,1575L593,1575L594,1575L595,1575L596,1575L597,1575L598,1575L599,1575L600,1575L601,1575L602,1575L603,1575L604,1575L605,1575L606,1575L607,1575L608,1575L609,1575L610,1575L611,1575L612,1575L613,1575L614,1575L615,1575L616,1575L617,1575L618,1575L619,1575L620,1575L621,1575L622,1575L623,1575L624,1575L625,1575L626,1575L627,1575L628,1575L629,1575L630,1575L631,1575L632,1575L633,1575L634,1575L635,1575L636,1575L637,1575L638,1575L639,1575L640,1575L641,1575L642,1575L643,1575L644,1575L645,1575L646,1575L647,1575L648,1575L649,1575L650,1575L651,1575L652,1575L653,1575L654,1575L655,1575L656,1575L657,1575L658,1575L659,1575L660,1575L661,1575L662,1575L663,1575L664,1575L665,1575L666,1575L667,1575L668,1575L669,1575L670,1575L671,1575L672,1575L673,1575L674,1575L675,1575L676,1575L677,1575L678,1575L679,1575L680,1575L681,1575L682,1575L683,1575L684,1575L685,1575L686,1575L687,1575L688,1575L689,1575L690,1575L691,1575L692,1575L693,1575L694,1575L695,1575L696,1575L697,1575L698,1575L699,1575L700,1575L701,1575L702,1575L703,1575L704,1575L705,1575L706,1575L707,1575L708,1575L709,1575L710,1575L711,1575L712,1575L713,1575L714,1575L715,1575L716,1575L717,1575L718,1575L719,1575L720,1575L721,1575L722,1575L723,1575L724,1575L725,1575L726,1575L727,1575L728,1575L729,1575L730,1575L731,1575L732,1575L733,1575L734,1575L735,1575L736,1575L737,1575L738,1575L739,1575L740,1575L741,1575L742,1575L743,1575L744,1575L745,1575L746,1575L747,1575L748,1575L749,1575L750,1575L751,1575L752,1575L753,1575L754,1575L755,1575L756,1575L757,1575L758,1575L759,1575L760,1575L761,1575L762,1575L763,1575L764,1575L765,1575L766,1575L767,1575L768,1575L769,1575L770,1575L771,1575L772,1575L773,1575L774,1575L775,1575L776,1575L777,1575L778,1575L779,1575L780,1575L781,1575L782,1575L783,1575L784,1575L785,1575L786,1575L787,1575L788,1575L789,1575L790,1575L791,1575L792,1575L793,1575L794,1575L795,1575L796,1575L797,1575L798,1575L799,1575L800,1575L801,1575L802,1575L803,1575L804,1575L805,1575L806,1575L807,1575L808,1575L809,1575L810,1575L811,1575L812,1575L813,1575L814,1575L815,1575L816,1575L817,1575L818,1575L819,1575L820,1575L821,1575L822,1575L823,1575L824,1575L825,1575L826,1575L827,1575L828,1575L829,1575L830,1575L831,1575L832,1575L833,1575L834,1575L835,1575L836,1575L837,1575L838,1575L839,1575L840,1575L841,1575L842,1575L843,1575L844,1575L845,1575L846,1575L847,1575L848,1575L849,1575L850,1575L851,1575L852,1575L853,1575L854,1575L855,1575L856,1575L857,1575L858,1575L859,1575L860,1575L861,1575L862,1575L863,1575L864,1575L865,1575L866,1575L867,1575L868,1575L869,1575L870,1575L871,1575L872,1575L873,1575L874,1575L875,1575L876,1575L877,1575L878,1575L879,1575L880,1575L881,1575L882,1575L883,1575L884,1575L885,1575L886,1575L887,1575L888,1575L889,1575L890,1575L891,1575L892,1575L893,1575L894,1575L895,1575L896,1575L897,1575L898,1575L899,1575L900,1575L901,1575L902,1575L903,1575L904,1575L905,1575L906,1575L907,1575L908,1575L909,1575L910,1575L911,1575L912,1575L913,1575L914,1575L915,1575L916,1575L917,1575L918,1575L919,1575L920,1575L921,1575L922,1575L923,1575L924,1575L925,1575L926,1575L927,1575L928,1575L929,1575L930,1575L931,1575L932,1575L933,1575L934,1575L935,1575L936,1575L937,1575L938,1575L939,1575L940,1575L941,1575L942,1575L943,1575L944,1575L945,1575L946,1575L947,1575L948,1575" fill="none" stroke="#0000ff" stroke-width="7" stroke-linejoin="round" stroke-linecap="round"/>
<path d="M115,1574.7L116,1574.6L117,1574.6L118,1574.6L119,1574.6L120,1574.6L121,1574.5L122,1574.5L123,1574.5L124,1574.4L125,1574.4L126,1574.4L127,1574.3L128,1574.3L129,1574.3L130,1574.2L131,1574.2L132,1574.1L133,1574.1L134,1574L135,1574L136,1573.9L137,1573.9L138,1573.8L139,1573.8L140,1573.7L141,1573.6L142,1573.6L143,1573.5L144,1573.4L145,1573.3L146,1573.2L147,1573.1L148,1573L149,1572.9L150,1572.8L151,1572.7L152,1572.6L153,1572.5L154,1572.4L155,1572.2L156,1572.1L157,1572L158,1571.8L159,1571.7L160,1571.5L161,1571.3L162,1571.2L163,1571L164,1570.8L165,1570.6L166,1570.4L167,1570.2L168,1570L169,1569.7L170,1569.5L171,1569.3L172,1569L173,1568.7L174,1568.5L175,1568.2L176,1567.9L177,1567.6L178,1567.3L179,1566.9L180,1566.6L181,1566.2L182,1565.9L183,1565.5L184,1565.1L185,1564.7L186,1564.2L187,1563.8L188,1563.3L189,1562.9L190,1562.4L191,1561.9L192,1561.4L193,1560.8L194,1560.3L195,1559.7L196,1559.1L197,1558.5L198,1557.9L199,1557.3L200,1556.6L201,1555.9L202,1555.2L203,1554.5L204,1553.8L205,1553L206,1552.2L207,1551.4L208,1550.6L209,1549.7L210,1548.8L211,1547.9L212,1547L213,1546L214,1545.1L215,1544.1L216,1543L217,1542L218,1540.9L219,1539.8L220,1538.7L221,1537.5L222,1536.3L223,1535.1L224,1533.9L225,1532.6L226,1531.3L227,1530L228,1528.7L229,1527.3L230,1525.9L231,1524.4L232,1523L233,1521.5L234,1519.9L235,1518.4L236,1516.8L237,1515.2L238,1513.5L239,1511.9L240,1510.2L241,1508.4L242,1506.7L243,1504.9L244,1503.1L245,1501.2L246,1499.4L247,1497.5L248,1495.5L249,1493.6L250,1491.6L251,1489.6L252,1487.5L253,1485.5L254,1483.4L255,1481.3L256,1479.1L257,1477L258,1474.8L259,1472.6L260,1470.4L261,1468.1L262,1465.8L263,1463.5L264,1461.2L265,1458.9L266,1456.6L267,1454.2L268,1451.8L269,1449.4L270,1447L271,1444.6L272,1442.1L273,1439.7L274,1437.2L275,1434.8L276,1432.3L277,1429.8L278,1427.3L279,1424.8L280,1422.3L281,1419.8L282,1417.3L283,1414.8L284,1412.3L285,1409.8L286,1407.3L287,1404.8L288,1402.3L289,1399.9L290,1397.4L291,1394.9L292,1392.5L293,1390.1L294,1387.6L295,1385.2L296,1382.9L297,1380.5L298,1378.2L299,1375.8L300,1373.5L301,1371.3L302,1369L303,1366.8L304,1364.6L305,1362.5L306,1360.3L307,1358.2L308,1356.2L309,1354.2L310,1352.2L311,1350.2L312,1348.3L313,1346.5L314,1344.6L315,1342.9L316,1341.1L317,1339.5L318,1337.8L319,1336.2L320,1334.7L321,1333.2L322,1331.8L323,1330.4L324,1329.1L325,1327.8L326,1326.6L327,1325.4L328,1324.3L329,1323.3L330,1322.3L331,1321.3L332,1320.5L333,1319.7L334,1318.9L335,1318.3L336,1317.6L337,1317.1L338,1316.6L339,1316.2L340,1315.8L341,1315.5L342,1315.3L343,1315.1L344,1315L345,1315L346,1315L347,1315.1L348,1315.2L349,1315.3L350,1315.5L351,1315.7L352,1316L353,1316.3L354,1316.6L355,1317L356,1317.4L357,1317.9L358,1318.4L359,1319L360,1319.5L361,1320.1L362,1320.8L363,1321.5L364,1322.2L365,1323L366,1323.8L367,1324.6L368,1325.5L369,1326.4L370,1327.4L371,1328.4L372,1329.4L373,1330.4L374,1331.5L375,1332.7L376,1333.8L377,1335L378,1336.2L379,1337.5L380,1338.7L381,1340L382,1341.4L383,1342.7L384,1344.1L385,1345.6L386,1347L387,1348.5L388,1350L389,1351.5L390,1353L391,1354.6L392,1356.2L393,1357.8L394,1359.5L395,1361.1L396,1362.8L397,1364.5L398,1366.2L399,1368L400,1369.7L401,1371.5L402,1373.3L403,1375.1L404,1376.9L405,1378.7L406,1380.6L407,1382.4L408,1384.3L409,1386.2L410,1388.1L411,1390L412,1391.9L413,1393.8L414,1395.8L415,1397.7L416,1399.6L417,1401.6L418,1403.5L419,1405.5L420,1407.5L421,1409.4L422,1411.4L423,1413.4L424,1415.3L425,1417.3L426,1419.3L427,1421.2L428,1423.2L429,1425.2L430,1427.1L431,1429.1L432,1431.1L433,1433L434,1435L435,1436.9L436,1438.9L437,1440.8L438,1442.7L439,1444.6L440,1446.5L441,1448.4L442,1450.3L443,1452.2L444,1454.1L445,1456L446,1457.8L447,1459.7L448,1461.5L449,1463.3L450,1465.1L451,1466.9L452,1468.7L453,1470.5L454,1472.2L455,1474L456,1475.7L457,1477.4L458,1479.1L459,1480.8L460,1482.5L461,1484.1L462,1485.8L463,1487.4L464,1489L465,1490.6L466,1492.2L467,1493.7L468,1495.3L469,1496.8L470,1498.3L471,1499.8L472,1501.3L473,1502.7L474,1504.1L475,1505.6L476,1507L477,1508.4L478,1509.7L479,1511.1L480,1512.4L481,1513.7L482,1515L483,1516.3L484,1517.5L485,1518.8L486,1520L487,1521.2L488,1522.4L489,1523.5L490,1524.7L491,1525.8L492,1526.9L493,1528L494,1529.1L495,1530.2L496,1531.2L497,1532.2L498,1533.2L499,1534.2L500,1535.2L501,1536.2L502,1537.1L503,1538L504,1538.9L505,1539.8L506,1540.7L507,1541.5L508,1542.4L509,1543.2L510,1544L511,1544.8L512,1545.6L513,1546.3L514,1547.1L515,1547.8L516,1548.5L517,1549.2L518,1549.9L519,1550.6L520,1551.2L521,1551.9L522,1552.5L523,1553.1L524,1553.7L525,1554.3L526,1554.9L527,1555.5L528,1556L529,1556.5L530,1557.1L531,1557.6L532,1558.1L533,1558.6L534,1559L535,1559.5L536,1560L537,1560.4L538,1560.8L539,1561.3L540,1561.7L541,1562.1L542,1562.5L543,1562.8L544,1563.2L545,1563.6L546,1563.9L547,1564.3L548,1564.6L549,1564.9L550,1565.2L551,1565.6L552,1565.9L553,1566.1L554,1566.4L555,1566.7L556,1567L557,1567.2L558,1567.5L559,1567.7L560,1568L561,1568.2L562,1568.4L563,1568.7L564,1568.9L565,1569.1L566,1569.3L567,1569.5L568,1569.7L569,1569.8L570,1570L571,1570.2L572,1570.4L573,1570.5L574,1570.7L575,1570.8L576,1571L577,1571.1L578,1571.3L579,1571.4L580,1571.5L581,1571.6L582,1571.8L583,1571.9L584,1572L585,1572.1L586,1572.2L587,1572.3L588,1572.4L589,1572.5L590,1572.6L591,1572.7L592,1572.8L593,1572.9L594,1573L595,1573L596,1573.1L597,1573.2L598,1573.2L599,1573.3L600,1573.4L601,1573.4L602,1573.5L603,1573.6L604,1573.6L605,1573.7L606,1573.7L607,1573.8L608,1573.8L609,1573.9L610,1573.9L611,1574L612,1574L613,1574L614,1574.1L615,1574.1L616,1574.2L617,1574.2L618,1574.2L619,1574.3L620,1574.3L621,1574.3L622,1574.4L623,1574.4L624,1574.4L625,1574.4L626,1574.5L627,1574.5L628,1574.5L629,1574.5L630,1574.5L631,1574.6L632,1574.6L633,1574.6L634,1574.6L635,1574.6L636,1574.7L637,1574.7L638,1574.7L639,1574.7L640,1574.7L641,1574.7L642,1574.7L643,1574.7L644,1574.8L645,1574.8L646,1574.8L647,1574.8L648,1574.8L649,1574.8L650,1574.8L651,1574.8L652,1574.8L653,1574.8L654,1574.9L655,1574.9L656,1574.9L657,1574.9L658,1574.9L659,1574.9L660,1574.9L661,1574.9L662,1574.9L663,1574.9L664,1574.9L665,1574.9L666,1574.9L667,1574.9L668,1574.9L669,1574.9L670,1574.9L671,1574.9L672,1574.9L673,1574.9L674,1574.9L675,1574.9L676,1575L677,1575L678,1575L679,1575L680,1575L681,1575L682,1575L683,1575L684,1575L685,1575L686,1575L687,1575L688,1575L689,1575L690,1575L691,1575L692,1575L693,1575L694,1575L695,1575L696,1575L697,1575L698,1575L699,1575L700,1575L701,1575L702,1575L703,1575L704,1575L705,1575L706,1575L707,1575L708,1575L709,1575L710,1575L711,1575L712,1575L713,1575L714,1575L715,1575L716,1575L717,1575L718,1575L719,1575L720,1575L721,1575L722,1575L723,1575L724,1575L725,1575L726,1575L727,1575L728,1575L729,1575L730,1575L731,1575L732,1575L733,1575L734,1575L735,1575L736,1575L737,1575L738,1575L739,1575L740,1575L741,1575L742,1575L743,1575L744,1575L745,1575L746,1575L747,1575L748,1575L749,1575L750,1575L751,1575L752,1575L753,1575L754,1575L755,1575L756,1575L757,1575L758,1575L759,1575L760,1575L761,1575L762,1575L763,1575L764,1575L765,1575L766,1575L767,1575L768,1575L769,1575L770,1575L771,1575L772,1575L773,1575L774,1575L775,1575L776,1575L777,1575L778,1575L779,1575L780,1575L781,1575L782,1575L783,1575L784,1575L785,1575L786,1575L787,1575L788,1575L789,1575L790,1575L791,1575L792,1575L793,1575L794,1575L795,1575L796,1575L797,1575L798,1575L799,1575L800,1575L801,1575L802,1575L803,1575L804,1575L805,1575L806,1575L807,1575L808,1575L809,1575L810,1575L811,1575L812,1575L813,1575L814,1575L815,1575L816,1575L817,1575L818,1575L819,1575L820,1575L821,1575L822,1575L823,1575L824,1575L825,1575L826,1575L827,1575L828,1575L829,1575L830,1575L831,1575L832,1575L833,1575L834,1575L835,1575L836,1575L837,1575L838,1575L839,1575L840,1575L841,1575L842,1575L843,1575L844,1575L845,1575L846,1575L847,1575L848,1575L849,1575L850,1575L851,1575L852,1575L853,1575L854,1575L855,1575L856,1575L857,1575L858,1575L859,1575L860,1575L861,1575L862,1575L863,1575L864,1575L865,1575L866,1575L867,1575L868,1575L869,1575L870,1575L871,1575L872,1575L873,1575L874,1575L875,1575L876,1575L877,1575L878,1575L879,1575L880,1575L881,1575L882,1575L883,1575L884,1575L885,1575L886,1575L887,1575L888,1575L889,1575L890,1575L891,1575L892,1575L893,1575L894,1575L895,1575L896,1575L897,1575L898,1575L899,1575L900,1575L901,1575L902,1575L903,1575L904,1575L905,1575L906,1575L907,1575L908,1575L909,1575L910,1575L911,1575L912,1575L913,1575L914,1575L915,1575L916,1575L917,1575L918,1575L919,1575L920,1575L921,1575L922,1575L923,1575L924,1575L925,1575L926,1575L927,1575L928,1575L929,1575L930,1575L931,1575L932,1575L933,1575L934,1575L935,1575L936,1575L937,1575L938,1575L939,1575L940,1575L941,1575L942,1575L943,1575L944,1575L945,1575L946,1575L947,1575L948,1575" fill="none" stroke="#00ee00" stroke-width="7" stroke-linejoin="round" stroke-linecap="round"/>
<path d="M115,1575L116,1575L117,1575L118,1575L119,1575L120,1575L121,1575L122,1575L123,1575L124,1575L125,1575L126,1575L127,1575L128,1575L129,1575L130,1575L131,1575L132,1575L133,1575L134,1575L135,1575L136,1575L137,1575L138,1575L139,1575L140,1575L141,1575L142,1575L143,1575L144,1575L145,1575L146,1575L147,1575L148,1575L149,1575L150,1575L151,1575L152,1575L153,1575L154,1575L155,1575L156,1575L157,1575L158,1575L159,1575L160,1575L161,1575L162,1575L163,1575L164,1575L165,1575L166,1575L167,1575L168,1575L169,1575L170,1575L171,1575L172,1575L173,1575L174,1575L175,1575L176,1575L177,1575L178,1575L179,1575L180,1575L181,1575L182,1575L183,1575L184,1575L185,1575L186,1575L187,1575L188,1575L189,1575L190,1575L191,1575L192,1575L193,1575L194,1575L195,1575L196,1575L197,1575L198,1575L199,1575L200,1575L201,1575L202,1575L203,1575L204,1575L205,1575L206,1575L207,1575L208,1575L209,1575L210,1575L211,1575L212,1575L213,1575L214,1575L215,1575L216,1575L217,1575L218,1575L219,1575L220,1575L221,1575L222,1575L223,1575L224,1575L225,1575L226,1575L227,1575L228,1575L229,1575L230,1575L231,1575L232,1575L233,1575L234,1575L235,1575L236,1575L237,1575L238,1575L239,1575L240,1575L241,1575L242,1575L243,1575L244,1575L245,1575L246,1575L247,1575L248,1575L249,1575L250,1575L251,1575L252,1575L253,1575L254,1575L255,1575L256,1575L257,1575L258,1575L259,1575L260,1575L261,1575L262,1575L263,1575L264,1575L265,1575L266,1575L267,1575L268,1575L269,1575L270,1575L271,1575L272,1575L273,1575L274,1575L275,1575L276,1575L277,1575L278,1575L279,1575L280,1575L281,1575L282,1575L283,1575L284,1575L285,1575L286,1575L287,1575L288,1575L289,1575L290,1575L291,1575L292,1575L293,1575L294,1575L295,1575L296,1575L297,1575L298,1575L299,1575L300,1575L301,1575L302,1575L303,1575L304,1575L305,1575L306,1575L307,1575L308,1575L309,1575L310,1575L311,1575L312,1575L313,1575L314,1575L315,1575L316,1575L317,1575L318,1575L319,1575L320,1575L321,1575L322,1575L323,1575L324,1575L325,1575L326,1575L327,1575L328,1575L329,1575L330,1575L331,1575L332,1575L333,1575L334,1575L335,1575L336,1575L337,1575L338,1575L339,1575L340,1575L341,1575L342,1575L343,1575L344,1575L345,1575L346,1575L347,1575L348,1575L349,1575L350,1575L351,1575L352,1575L353,1575L354,1575L355,1575L356,1575L357,1575L358,1575L359,1575L360,1575L361,1575L362,1575L363,1575L364,1575L365,1575L366,1575L367,1575L368,1574.9L369,1574.9L370,1574.9L371,1574.9L372,1574.9L373,1574.9L374,1574.9L375,1574.9L376,1574.8L377,1574.8L378,1574.8L379,1574.8L380,1574.7L381,1574.7L382,1574.7L383,1574.6L384,1574.6L385,1574.5L386,1574.4L387,1574.4L388,1574.3L389,1574.2L390,1574.1L391,1574L392,1573.9L393,1573.8L394,1573.7L395,1573.5L396,1573.3L397,1573.2L398,1573L399,1572.7L400,1572.5L401,1572.3L402,1572L403,1571.7L404,1571.4L405,1571L406,1570.6L407,1570.2L408,1569.8L409,1569.3L410,1568.8L411,1568.2L412,1567.6L413,1567L414,1566.3L415,1565.6L416,1564.8L417,1564L418,1563.2L419,1562.2L420,1561.3L421,1560.2L422,1559.2L423,1558L424,1556.8L425,1555.6L426,1554.2L427,1552.9L428,1551.4L429,1549.9L430,1548.4L431,1546.7L432,1545L433,1543.3L434,1541.5L435,1539.6L436,1537.7L437,1535.7L438,1533.7L439,1531.6L440,1529.5L441,1527.3L442,1525.1L443,1522.9L444,1520.6L445,1518.3L446,1515.9L447,1513.6L448,1511.2L449,1508.9L450,1506.5L451,1504.2L452,1501.8L453,1499.5L454,1497.2L455,1494.9L456,1492.7L457,1490.5L458,1488.4L459,1486.3L460,1484.3L461,1482.4L462,1480.6L463,1478.8L464,1477.1L465,1475.6L466,1474.1L467,1472.7L468,1471.5L469,1470.4L470,1469.4L471,1468.5L472,1467.7L473,1467.1L474,1466.6L475,1466.3L476,1466.1L477,1466L478,1466.1L479,1466.3L480,1466.6L481,1467.1L482,1467.7L483,1468.5L484,1469.4L485,1470.4L486,1471.5L487,1472.7L488,1474.1L489,1475.6L490,1477.1L491,1478.8L492,1480.6L493,1482.4L494,1484.3L495,1486.3L496,1488.4L497,1490.5L498,1492.7L499,1494.9L500,1497.2L501,1499.5L502,1501.8L503,1504.2L504,1506.5L505,1508.9L506,1511.2L507,1513.6L508,1515.9L509,1518.3L510,1520.6L511,1522.9L512,1525.1L513,1527.3L514,1529.5L515,1531.6L516,1533.7L517,1535.7L518,1537.7L519,1539.6L520,1541.5L521,1543.3L522,1545L523,1546.7L524,1548.4L525,1549.9L526,1551.4L527,1552.9L528,1554.2L529,1555.6L530,1556.8L531,1558L532,1559.2L533,1560.2L534,1561.3L535,1562.2L536,1563.2L537,1564L538,1564.8L539,1565.6L540,1566.3L541,1567L542,1567.6L543,1568.2L544,1568.8L545,1569.3L546,1569.8L547,1570.2L548,1570.6L549,1571L550,1571.4L551,1571.7L552,1572L553,1572.3L554,1572.5L555,1572.7L556,1573L557,1573.2L558,1573.3L559,1573.5L560,1573.7L561,1573.8L562,1573.9L563,1574L564,1574.1L565,1574.2L566,1574.3L567,1574.4L568,1574.4L569,1574.5L570,1574.6L571,1574.6L572,1574.7L573,1574.7L574,1574.7L575,1574.8L576,1574.8L577,1574.8L578,1574.8L579,1574.9L580,1574.9L581,1574.9L582,1574.9L583,1574.9L584,1574.9L585,1574.9L586,1574.9L587,1575L588,1575L589,1575L590,1575L591,1575L592,1575L593,1575L594,1575L595,1575L596,1575L597,1575L598,1575L599,1575L600,1575L601,1575L602,1575L603,1575L604,1575L605,1575L606,1575L607,1575L608,1575L609,1575L610,1575L611,1575L612,1575L613,1575L614,1575L615,1575L616,1575L617,1575L618,1575L619,1575L620,1575L621,1575L622,1575L623,1575L624,1575L625,1575L626,1575L627,1575L628,1575L629,1575L630,1575L631,1575L632,1575L633,1575L634,1575L635,1575L636,1575L637,1575L638,1575L639,1575L640,1575L641,1575L642,1575L643,1575L644,1575L645,1575L646,1575L647,1575L648,1575L649,1575L650,1575L651,1575L652,1575L653,1575L654,1575L655,1575L656,1575L657,1575L658,1575L659,1575L660,1575L661,1575L662,1575L663,1575L664,1575L665,1575L666,1575L667,1575L668,1575L669,1575L670,1575L671,1575L672,1575L673,1575L674,1575L675,1575L676,1575L677,1575L678,1575L679,1575L680,1575L681,1575L682,1575L683,1575L684,1575L685,1575L686,1575L687,1575L688,1575L689,1575L690,1575L691,1575L692,1575L693,1575L694,1575L695,1575L696,1575L697,1575L698,1575L699,1575L700,1575L701,1575L702,1575L703,1575L704,1575L705,1575L706,1575L707,1575L708,1575L709,1575L710,1575L711,1575L712,1575L713,1575L714,1575L715,1575L716,1575L717,1575L718,1575L719,1575L720,1575L721,1575L722,1575L723,1575L724,1575L725,1575L726,1575L727,1575L728,1575L729,1575L730,1575L731,1575L732,1575L733,1575L734,1575L735,1575L736,1575L737,1575L738,1575L739,1575L740,1575L741,1575L742,1575L743,1575L744,1575L745,1575L746,1575L747,1575L748,1575L749,1575L750,1575L751,1575L752,1575L753,1575L754,1575L755,1575L756,1575L757,1575L758,1575L759,1575L760,1575L761,1575L762,1575L763,1575L764,1575L765,1575L766,1575L767,1575L768,1575L769,1575L770,1575L771,1575L772,1575L773,1575L774,1575L775,1575L776,1575L777,1575L778,1575L779,1575L780,1575L781,1575L782,1575L783,1575L784,1575L785,1575L786,1575L787,1575L788,1575L789,1575L790,1575L791,1575L792,1575L793,1575L794,1575L795,1575L796,1575L797,1575L798,1575L799,1575L800,1575L801,1575L802,1575L803,1575L804,1575L805,1575L806,1575L807,1575L808,1575L809,1575L810,1575L811,1575L812,1575L813,1575L814,1575L815,1575L816,1575L817,1575L818,1575L819,1575L820,1575L821,1575L822,1575L823,1575L824,1575L825,1575L826,1575L827,1575L828,1575L829,1575L830,1575L831,1575L832,1575L833,1575L834,1575L835,1575L836,1575L837,1575L838,1575L839,1575L840,1575L841,1575L842,1575L843,1575L844,1575L845,1575L846,1575L847,1575L848,1575L849,1575L850,1575L851,1575L852,1575L853,1575L854,1575L855,1575L856,1575L857,1575L858,1575L859,1575L860,1575L861,1575L862,1575L863,1575L864,1575L865,1575L866,1575L867,1575L868,1575L869,1575L870,1575L871,1575L872,1575L873,1575L874,1575L875,1575L876,1575L877,1575L878,1575L879,1575L880,1575L881,1575L882,1575L883,1575L884,1575L885,1575L886,1575L887,1575L888,1575L889,1575L890,1575L891,1575L892,1575L893,1575L894,1575L895,1575L896,1575L897,1575L898,1575L899,1575L900,1575L901,1575L902,1575L903,1575L904,1575L905,1575L906,1575L907,1575L908,1575L909,1575L910,1575L911,1575L912,1575L913,1575L914,1575L915,1575L916,1575L917,1575L918,1575L919,1575L920,1575L921,1575L922,1575L923,1575L924,1575L925,1575L926,1575L927,1575L928,1575L929,1575L930,1575L931,1575L932,1575L933,1575L934,1575L935,1575L936,1575L937,1575L938,1575L939,1575L940,1575L941,1575L942,1575L943,1575L944,1575L945,1575L946,1575L947,1575L948,1575" fill="none" stroke="#8b0000" stroke-width="7" stroke-linejoin="round" stroke-linecap="round"/>
<path d="M115,1575L116,1575L117,1575L118,1575L119,1575L120,1575L121,1575L122,1575L123,1575L124,1575L125,1575L126,1575L127,1575L128,1575L129,1575L130,1575L131,1575L132,1575L133,1575L134,1575L135,1575L136,1575L137,1575L138,1575L139,1575L140,1575L141,1575L142,1575L143,1575L144,1575L145,1575L146,1575L147,1575L148,1575L149,1575L150,1575L151,1575L152,1575L153,1575L154,1575L155,1575L156,1575L157,1575L158,1575L159,1575L160,1575L161,1575L162,1575L163,1575L164,1575L165,1575L166,1575L167,1575L168,1575L169,1575L170,1575L171,1575L172,1575L173,1575L174,1575L175,1575L176,1575L177,1575L178,1575L179,1575L180,1575L181,1575L182,1575L183,1575L184,1575L185,1575L186,1575L187,1575L188,1575L189,1575L190,1575L191,1575L192,1575L193,1575L194,1575L195,1575L196,1575L197,1575L198,1575L199,1575L200,1575L201,1575L202,1575L203,1575L204,1575L205,1575L206,1575L207,1575L208,1575L209,1575L210,1575L211,1575L212,1575L213,1575L214,1575L215,1575L216,1575L217,1575L218,1575L219,1575L220,1575L221,1575L222,1575L223,1575L224,1575L225,1575L226,1575L227,1575L228,1575L229,1575L230,1575L231,1575L232,1575L233,1575L234,1575L235,1575L236,1575L237,1575L238,1575L239,1575L240,1575L241,1575L242,1575L243,1575L244,1575L245,1575L246,1575L247,1575L248,1575L249,1575L250,1575L251,1575L252,1575L253,1575L254,1575L255,1575L256,1575L257,1575L258,1575L259,1575L260,1575L261,1575L262,1575L263,1575L264,1575L265,1575L266,1575L267,1575L268,1575L269,1575L270,1575L271,1575L272,1575L273,1575L274,1575L275,1575L276,1575L277,1575L278,1575L279,1575L280,1575L281,1575L282,1575L283,1575L284,1575L285,1575L286,1575L287,1575L288,1575L289,1575L290,1575L291,1575L292,1575L293,1575L294,1575L295,1575L296,1575L297,1575L298,1575L299,1575L300,1575L301,1575L302,1575L303,1575L304,1575L305,1575L306,1575L307,1575L308,1575L309,1575L310,1575L311,1575L312,1575L313,1575L314,1575L315,1575L316,1575L317,1575L318,1575L319,1575L320,1575L321,1575L322,1575L323,1575L324,1575L325,1575L326,1575L327,1575L328,1575L329,1575L330,1575L331,1575L332,1575L333,1575L334,1575L335,1575L336,1575L337,1575L338,1575L339,1575L340,1575L341,1575L342,1575L343,1575L344,1575L345,1575L346,1575L347,1575L348,1575L349,1575L350,1575L351,1575L352,1575L353,1575L354,1575L355,1575L356,1575L357,1575L358,1575L359,1575L360,1575L361,1575L362,1575L363,1575L364,1575L365,1575L366,1575L367,1575L368,1575L369,1575L370,1575L371,1575L372,1575L373,1575L374,1575L375,1575L376,1575L377,1575L378,1575L379,1575L380,1575L381,1575L382,1575L383,1575L384,1575L385,1575L386,1575L387,1575L388,1575L389,1575L390,1575L391,1575L392,1575L393,1575L394,1575L395,1575L396,1575L397,1575L398,1575L399,1575L400,1575L401,1575L402,1575L403,1575L404,1575L405,1575L406,1575L407,1575L408,1575L409,1575L410,1575L411,1575L412,1575L413,1575L414,1575L415,1575L416,1575L417,1575L418,1575L419,1575L420,1575L421,1575L422,1575L423,1575L424,1575L425,1575L426,1575L427,1575L428,1575L429,1575L430,1575L431,1575L432,1575L433,1575L434,1575L435,1575L436,1575L437,1575L438,1575L439,1575L440,1575L441,1575L442,1575L443,1575L444,1575L445,1575L446,1575L447,1575L448,1575L449,1575L450,1575L451,1575L452,1575L453,1575L454,1575L455,1575L456,1575L457,1575L458,1575L459,1575L460,1575L461,1575L462,1575L463,1575L464,1575L465,1575L466,1575L467,1575L468,1575L469,1575L470,1575L471,1575L472,1575L473,1575L474,1575L475,1575L476,1575L477,1575L478,1575L479,1575L480,1575L481,1575L482,1575L483,1575L484,1575L485,1574.9L486,1574.9L487,1574.9L488,1574.9L489,1574.9L490,1574.9L491,1574.9L492,1574.9L493,1574.9L494,1574.9L495,1574.8L496,1574.8L497,1574.8L498,1574.8L499,1574.8L500,1574.7L501,1574.7L502,1574.7L503,1574.6L504,1574.6L505,1574.6L506,1574.5L507,1574.5L508,1574.4L509,1574.3L510,1574.3L511,1574.2L512,1574.1L513,1574.1L514,1574L515,1573.9L516,1573.8L517,1573.6L518,1573.5L519,1573.4L520,1573.2L521,1573.1L522,1572.9L523,1572.7L524,1572.5L525,1572.3L526,1572L527,1571.8L528,1571.5L529,1571.2L530,1570.9L531,1570.6L532,1570.2L533,1569.8L534,1569.4L535,1569L536,1568.5L537,1568L538,1567.5L539,1566.9L540,1566.3L541,1565.7L542,1565L543,1564.3L544,1563.6L545,1562.8L546,1561.9L547,1561L548,1560.1L549,1559.1L550,1558L551,1556.9L552,1555.8L553,1554.6L554,1553.3L555,1551.9L556,1550.5L557,1549.1L558,1547.5L559,1545.9L560,1544.3L561,1542.5L562,1540.7L563,1538.8L564,1536.9L565,1534.8L566,1532.7L567,1530.5L568,1528.3L569,1526L570,1523.5L571,1521.1L572,1518.5L573,1515.9L574,1513.1L575,1510.4L576,1507.5L577,1504.6L578,1501.6L579,1498.5L580,1495.4L581,1492.2L582,1489L583,1485.6L584,1482.3L585,1478.9L586,1475.4L587,1471.9L588,1468.4L589,1464.8L590,1461.2L591,1457.6L592,1453.9L593,1450.2L594,1446.6L595,1442.9L596,1439.2L597,1435.5L598,1431.9L599,1428.2L600,1424.6L601,1421.1L602,1417.5L603,1414L604,1410.6L605,1407.2L606,1403.9L607,1400.6L608,1397.5L609,1394.4L610,1391.4L611,1388.5L612,1385.7L613,1383.1L614,1380.5L615,1378.1L616,1375.7L617,1373.6L618,1371.5L619,1369.6L620,1367.9L621,1366.2L622,1364.8L623,1363.5L624,1362.4L625,1361.4L626,1360.6L627,1359.9L628,1359.5L629,1359.1L630,1359L631,1359L632,1359.2L633,1359.6L634,1360.2L635,1360.9L636,1361.8L637,1362.8L638,1364L639,1365.4L640,1366.9L641,1368.5L642,1370.4L643,1372.3L644,1374.4L645,1376.7L646,1379L647,1381.5L648,1384.1L649,1386.8L650,1389.7L651,1392.6L652,1395.6L653,1398.7L654,1401.9L655,1405.2L656,1408.5L657,1412L658,1415.4L659,1418.9L660,1422.5L661,1426.1L662,1429.7L663,1433.3L664,1437L665,1440.7L666,1444.4L667,1448L668,1451.7L669,1455.4L670,1459L671,1462.6L672,1466.2L673,1469.8L674,1473.3L675,1476.8L676,1480.2L677,1483.6L678,1487L679,1490.3L680,1493.5L681,1496.7L682,1499.8L683,1502.8L684,1505.8L685,1508.7L686,1511.5L687,1514.2L688,1516.9L689,1519.5L690,1522.1L691,1524.5L692,1526.9L693,1529.2L694,1531.4L695,1533.6L696,1535.7L697,1537.7L698,1539.6L699,1541.4L700,1543.2L701,1544.9L702,1546.6L703,1548.2L704,1549.7L705,1551.1L706,1552.5L707,1553.8L708,1555L709,1556.2L710,1557.4L711,1558.5L712,1559.5L713,1560.5L714,1561.4L715,1562.3L716,1563.1L717,1563.9L718,1564.6L719,1565.3L720,1566L721,1566.6L722,1567.2L723,1567.7L724,1568.2L725,1568.7L726,1569.2L727,1569.6L728,1570L729,1570.4L730,1570.7L731,1571L732,1571.3L733,1571.6L734,1571.9L735,1572.1L736,1572.4L737,1572.6L738,1572.8L739,1573L740,1573.1L741,1573.3L742,1573.4L743,1573.6L744,1573.7L745,1573.8L746,1573.9L747,1574L748,1574.1L749,1574.2L750,1574.2L751,1574.3L752,1574.4L753,1574.4L754,1574.5L755,1574.5L756,1574.6L757,1574.6L758,1574.7L759,1574.7L760,1574.7L761,1574.7L762,1574.8L763,1574.8L764,1574.8L765,1574.8L766,1574.8L767,1574.9L768,1574.9L769,1574.9L770,1574.9L771,1574.9L772,1574.9L773,1574.9L774,1574.9L775,1574.9L776,1575L777,1575L778,1575L779,1575L780,1575L781,1575L782,1575L783,1575L784,1575L785,1575L786,1575L787,1575L788,1575L789,1575L790,1575L791,1575L792,1575L793,1575L794,1575L795,1575L796,1575L797,1575L798,1575L799,1575L800,1575L801,1575L802,1575L803,1575L804,1575L805,1575L806,1575L807,1575L808,1575L809,1575L810,1575L811,1575L812,1575L813,1575L814,1575L815,1575L816,1575L817,1575L818,1575L819,1575L820,1575L821,1575L822,1575L823,1575L824,1575L825,1575L826,1575L827,1575L828,1575L829,1575L830,1575L831,1575L832,1575L833,1575L834,1575L835,1575L836,1575L837,1575L838,1575L839,1575L840,1575L841,1575L842,1575L843,1575L844,1575L845,1575L846,1575L847,1575L848,1575L849,1575L850,1575L851,1575L852,1575L853,1575L854,1575L855,1575L856,1575L857,1575L858,1575L859,1575L860,1575L861,1575L862,1575L863,1575L864,1575L865,1575L866,1575L867,1575L868,1575L869,1575L870,1575L871,1575L872,1575L873,1575L874,1575L875,1575L876,1575L877,1575L878,1575L879,1575L880,1575L881,1575L882,1575L883,1575L884,1575L885,1575L886,1575L887,1575L888,1575L889,1575L890,1575L891,1575L892,1575L893,1575L894,1575L895,1575L896,1575L897,1575L898,1575L899,1575L900,1575L901,1575L902,1575L903,1575L904,1575L905,1575L906,1575L907,1575L908,1575L909,1575L910,1575L911,1575L912,1575L913,1575L914,1575L915,1575L916,1575L917,1575L918,1575L919,1575L920,1575L921,1575L922,1575L923,1575L924,1575L925,1575L926,1575L927,1575L928,1575L929,1575L930,1575L931,1575L932,1575L933,1575L934,1575L935,1575L936,1575L937,1575L938,1575L939,1575L940,1575L941,1575L942,1575L943,1575L944,1575L945,1575L946,1575L947,1575L948,1575" fill="none" stroke="#00e5ee" stroke-width="7" stroke-linejoin="round" stroke-linecap="round"/>
<path d="M115,1575L116,1575L117,1575L118,1575L119,1575L120,1575L121,1575L122,1575L123,1575L124,1575L125,1575L126,1575L127,1575L128,1575L129,1575L130,1575L131,1575L132,1575L133,1575L134,1575L135,1575L136,1575L137,1575L138,1575L139,1575L140,1575L141,1575L142,1575L143,1575L144,1575L145,1575L146,1575L147,1575L148,1575L149,1575L150,1575L151,1575L152,1575L153,1575L154,1575L155,1575L156,1575L157,1575L158,1575L159,1575L160,1575L161,1575L162,1575L163,1575L164,1575L165,1575L166,1575L167,1575L168,1575L169,1575L170,1575L171,1575L172,1575L173,1575L174,1575L175,1575L176,1575L177,1575L178,1575L179,1575L180,1575L181,1575L182,1575L183,1575L184,1575L185,1575L186,1575L187,1575L188,1575L189,1575L190,1575L191,1575L192,1575L193,1575L194,1575L195,1575L196,1575L197,1575L198,1575L199,1575L200,1575L201,1575L202,1575L203,1575L204,1575L205,1575L206,1575L207,1575L208,1575L209,1575L210,1575L211,1575L212,1575L213,1575L214,1575L215,1575L216,1575L217,1575L218,1575L219,1575L220,1575L221,1575L222,1575L223,1575L224,1575L225,1575L226,1575L227,1575L228,1575L229,1575L230,1575L231,1575L232,1575L233,1575L234,1575L235,1575L236,1575L237,1575L238,1575L239,1575L240,1575L241,1575L242,1575L243,1575L244,1575L245,1575L246,1575L247,1575L248,1575L249,1575L250,1575L251,1575L252,1575L253,1575L254,1575L255,1575L256,1575L257,1575L258,1575L259,1575L260,1575L261,1575L262,1575L263,1575L264,1575L265,1575L266,1575L267,1575L268,1575L269,1575L270,1575L271,1575L272,1575L273,1575L274,1575L275,1575L276,1575L277,1575L278,1575L279,1575L280,1575L281,1575L282,1575L283,1575L284,1575L285,1575L286,1575L287,1575L288,1575L289,1575L290,1575L291,1575L292,1575L293,1575L294,1575L295,1575L296,1575L297,1575L298,1575L299,1575L300,1575L301,1575L302,1575L303,1575L304,1575L305,1575L306,1575L307,1575L308,1575L309,1575L310,1575L311,1575L312,1575L313,1575L314,1575L315,1575L316,1575L317,1575L318,1575L319,1575L320,1575L321,1575L322,1575L323,1575L324,1575L325,1575L326,1575L327,1575L328,1575L329,1575L330,1575L331,1575L332,1575L333,1575L334,1575L335,1575L336,1575L337,1575L338,1575L339,1575L340,1575L341,1575L342,1575L343,1575L344,1575L345,1575L346,1575L347,1575L348,1575L349,1575L350,1575L351,1575L352,1575L353,1575L354,1575L355,1575L356,1575L357,1575L358,1575L359,1575L360,1575L361,1575L362,1575L363,1575L364,1575L365,1575L366,1575L367,1575L368,1575L369,1575L370,1575L371,1575L372,1575L373,1575L374,1575L375,1575L376,1575L377,1575L378,1575L379,1575L380,1575L381,1575L382,1575L383,1575L384,1575L385,1575L386,1575L387,1575L388,1575L389,1575L390,1575L391,1575L392,1575L393,1575L394,1575L395,1575L396,1575L397,1575L398,1575L399,1575L400,1575L401,1575L402,1575L403,1575L404,1575L405,1575L406,1575L407,1575L408,1575L409,1575L410,1575L411,1575L412,1575L413,1575L414,1575L415,1575L416,1575L417,1575L418,1575L419,1575L420,1575L421,1575L422,1575L423,1575L424,1575L425,1575L426,1575L427,1575L428,1575L429,1575L430,1575L431,1575L432,1575L433,1575L434,1575L435,1575L436,1575L437,1575L438,1575L439,1575L440,1575L441,1575L442,1575L443,1575L444,1575L445,1575L446,1575L447,1575L448,1575L449,1575L450,1575L451,1575L452,1575L453,1575L454,1575L455,1575L456,1575L457,1575L458,1575L459,1575L460,1575L461,1575L462,1575L463,1575L464,1575L465,1575L466,1575L467,1575L468,1575L469,1575L470,1575L471,1575L472,1575L473,1575L474,1575L475,1575L476,1575L477,1575L478,1575L479,1575L480,1575L481,1575L482,1575L483,1575L484,1575L485,1575L486,1575L487,1575L488,1575L489,1575L490,1575L491,1575L492,1575L493,1575L494,1575L495,1575L496,1575L497,1575L498,1575L499,1575L500,1575L501,1575L502,1575L503,1575L504,1575L505,1575L506,1575L507,1575L508,1575L509,1575L510,1575L511,1575L512,1575L513,1575L514,1575L515,1575L516,1575L517,1575L518,1575L519,1575L520,1575L521,1575L522,1575L523,1575L524,1575L525,1575L526,1575L527,1575L528,1575L529,1575L530,1575L531,1575L532,1575L533,1575L534,1575L535,1575L536,1575L537,1575L538,1575L539,1575L540,1575L541,1575L542,1575L543,1575L544,1575L545,1575L546,1575L547,1575L548,1575L549,1575L550,1575L551,1575L552,1575L553,1575L554,1575L555,1575L556,1575L557,1575L558,1575L559,1575L560,1575L561,1575L562,1575L563,1575L564,1575L565,1575L566,1575L567,1575L568,1575L569,1575L570,1575L571,1575L572,1575L573,1575L574,1575L575,1575L576,1575L577,1575L578,1575L579,1575L580,1575L581,1575L582,1575L583,1575L584,1575L585,1575L586,1575L587,1575L588,1575L589,1575L590,1575L591,1575L592,1575L593,1575L594,1575L595,1575L596,1575L597,1575L598,1575L599,1575L600,1575L601,1575L602,1575L603,1575L604,1575L605,1575L606,1575L607,1575L608,1575L609,1575L610,1575L611,1575L612,1575L613,1575L614,1575L615,1575L616,1575L617,1575L618,1575L619,1575L620,1575L621,1575L622,1575L623,1575L624,1574.9L625,1574.9L626,1574.9L627,1574.9L628,1574.9L629,1574.9L630,1574.9L631,1574.8L632,1574.8L633,1574.8L634,1574.7L635,1574.7L636,1574.7L637,1574.6L638,1574.6L639,1574.5L640,1574.4L641,1574.3L642,1574.2L643,1574.1L644,1574L645,1573.9L646,1573.7L647,1573.5L648,1573.4L649,1573.2L650,1572.9L651,1572.7L652,1572.4L653,1572.1L654,1571.7L655,1571.4L656,1571L657,1570.5L658,1570L659,1569.5L660,1568.9L661,1568.3L662,1567.7L663,1567L664,1566.2L665,1565.4L666,1564.5L667,1563.6L668,1562.6L669,1561.5L670,1560.4L671,1559.2L672,1558L673,1556.7L674,1555.3L675,1553.9L676,1552.4L677,1550.8L678,1549.2L679,1547.5L680,1545.8L681,1544L682,1542.2L683,1540.4L684,1538.5L685,1536.6L686,1534.6L687,1532.7L688,1530.7L689,1528.7L690,1526.7L691,1524.8L692,1522.8L693,1520.9L694,1519L695,1517.2L696,1515.4L697,1513.7L698,1512L699,1510.5L700,1509L701,1507.6L702,1506.3L703,1505.1L704,1504L705,1503L706,1502.2L707,1501.5L708,1500.9L709,1500.5L710,1500.2L711,1500L712,1500L713,1500.1L714,1500.4L715,1500.8L716,1501.4L717,1502L718,1502.8L719,1503.8L720,1504.8L721,1506L722,1507.3L723,1508.7L724,1510.1L725,1511.7L726,1513.3L727,1515.1L728,1516.8L729,1518.7L730,1520.5L731,1522.5L732,1524.4L733,1526.4L734,1528.3L735,1530.3L736,1532.3L737,1534.2L738,1536.2L739,1538.1L740,1540L741,1541.9L742,1543.7L743,1545.5L744,1547.2L745,1548.9L746,1550.5L747,1552.1L748,1553.6L749,1555L750,1556.4L751,1557.7L752,1559L753,1560.2L754,1561.3L755,1562.4L756,1563.4L757,1564.3L758,1565.2L759,1566L760,1566.8L761,1567.5L762,1568.2L763,1568.8L764,1569.4L765,1569.9L766,1570.4L767,1570.9L768,1571.3L769,1571.7L770,1572L771,1572.3L772,1572.6L773,1572.9L774,1573.1L775,1573.3L776,1573.5L777,1573.7L778,1573.8L779,1574L780,1574.1L781,1574.2L782,1574.3L783,1574.4L784,1574.5L785,1574.5L786,1574.6L787,1574.7L788,1574.7L789,1574.7L790,1574.8L791,1574.8L792,1574.8L793,1574.9L794,1574.9L795,1574.9L796,1574.9L797,1574.9L798,1574.9L799,1574.9L800,1575L801,1575L802,1575L803,1575L804,1575L805,1575L806,1575L807,1575L808,1575L809,1575L810,1575L811,1575L812,1575L813,1575L814,1575L815,1575L816,1575L817,1575L818,1575L819,1575L820,1575L821,1575L822,1575L823,1575L824,1575L825,1575L826,1575L827,1575L828,1575L829,1575L830,1575L831,1575L832,1575L833,1575L834,1575L835,1575L836,1575L837,1575L838,1575L839,1575L840,1575L841,1575L842,1575L843,1575L844,1575L845,1575L846,1575L847,1575L848,1575L849,1575L850,1575L851,1575L852,1575L853,1575L854,1575L855,1575L856,1575L857,1575L858,1575L859,1575L860,1575L861,1575L862,1575L863,1575L864,1575L865,1575L866,1575L867,1575L868,1575L869,1575L870,1575L871,1575L872,1575L873,1575L874,1575L875,1575L876,1575L877,1575L878,1575L879,1575L880,1575L881,1575L882,1575L883,1575L884,1575L885,1575L886,1575L887,1575L888,1575L889,1575L890,1575L891,1575L892,1575L893,1575L894,1575L895,1575L896,1575L897,1575L898,1575L899,1575L900,1575L901,1575L902,1575L903,1575L904,1575L905,1575L906,1575L907,1575L908,1575L909,1575L910,1575L911,1575L912,1575L913,1575L914,1575L915,1575L916,1575L917,1575L918,1575L919,1575L920,1575L921,1575L922,1575L923,1575L924,1575L925,1575L926,1575L927,1575L928,1575L929,1575L930,1575L931,1575L932,1575L933,1575L934,1575L935,1575L936,1575L937,1575L938,1575L939,1575L940,1575L941,1575L942,1575L943,1575L944,1575L945,1575L946,1575L947,1575L948,1575" fill="none" stroke="#808080" stroke-width="7" stroke-linejoin="round" stroke-linecap="round"/>
<path d="M115,1575L116,1575L117,1575L118,1575L119,1575L120,1575L121,1575L122,1575L123,1575L124,1575L125,1575L126,1575L127,1575L128,1575L129,1575L130,1575L131,1575L132,1575L133,1575L134,1575L135,1575L136,1575L137,1575L138,1575L139,1575L140,1575L141,1575L142,1575L143,1575L144,1575L145,1575L146,1575L147,1575L148,1575L149,1575L150,1575L151,1575L152,1575L153,1575L154,1575L155,1575L156,1575L157,1575L158,1575L159,1575L160,1575L161,1575L162,1575L163,1575L164,1575L165,1575L166,1575L167,1575L168,1575L169,1575L170,1575L171,1575L172,1575L173,1575L174,1575L175,1575L176,1575L177,1575L178,1575L179,1575L180,1575L181,1575L182,1575L183,1575L184,1575L185,1575L186,1575L187,1575L188,1575L189,1575L190,1575L191,1575L192,1575L193,1575L194,1575L195,1575L196,1575L197,1575L198,1575L199,1575L200,1575L201,1575L202,1575L203,1575L204,1575L205,1575L206,1575L207,1575L208,1575L209,1575L210,1575L211,1575L212,1575L213,1575L214,1575L215,1575L216,1575L217,1575L218,1575L219,1575L220,1575L221,1575L222,1575L223,1575L224,1575L225,1575L226,1575L227,1575L228,1575L229,1575L230,1575L231,1575L232,1575L233,1575L234,1575L235,1575L236,1575L237,1575L238,1575L239,1575L240,1575L241,1575L242,1575L243,1575L244,1575L245,1575L246,1575L247,1575L248,1575L249,1575L250,1575L251,1575L252,1575L253,1575L254,1575L255,1575L256,1575L257,1575L258,1575L259,1575L260,1575L261,1575L262,1575L263,1575L264,1575L265,1575L266,1575L267,1575L268,1575L269,1575L270,1575L271,1575L272,1575L273,1575L274,1575L275,1575L276,1575L277,1575L278,1575L279,1575L280,1575L281,1575L282,1575L283,1575L284,1575L285,1575L286,1575L287,1575L288,1575L289,1575L290,1575L291,1575L292,1575L293,1575L294,1575L295,1575L296,1575L297,1575L298,1575L299,1575L300,1575L301,1575L302,1575L303,1575L304,1575L305,1575L306,1575L307,1575L308,1575L309,1575L310,1575L311,1575L312,1575L313,1575L314,1575L315,1575L316,1575L317,1575L318,1575L319,1575L320,1575L321,1575L322,1575L323,1575L324,1575L325,1575L326,1575L327,1575L328,1575L329,1575L330,1575L331,1575L332,1575L333,1575L334,1575L335,1575L336,1575L337,1575L338,1575L339,1575L340,1575L341,1575L342,1575L343,1575L344,1575L345,1575L346,1575L347,1575L348,1575L349,1575L350,1575L351,1575L352,1575L353,1575L354,1575L355,1575L356,1575L357,1575L358,1575L359,1575L360,1575L361,1575L362,1575L363,1575L364,1575L365,1575L366,1575L367,1575L368,1575L369,1575L370,1575L371,1575L372,1575L373,1575L374,1575L375,1575L376,1575L377,1575L378,1575L379,1575L380,1575L381,1575L382,1575L383,1575L384,1575L385,1575L386,1575L387,1575L388,1575L389,1575L390,1575L391,1575L392,1575L393,1575L394,1575L395,1575L396,1575L397,1575L398,1575L399,1575L400,1575L401,1575L402,1575L403,1575L404,1575L405,1575L406,1575L407,1575L408,1575L409,1575L410,1575L411,1575L412,1575L413,1575L414,1575L415,1575L416,1575L417,1575L418,1575L419,1575L420,1575L421,1575L422,1575L423,1575L424,1575L425,1575L426,1575L427,1575L428,1575L429,1575L430,1575L431,1575L432,1575L433,1575L434,1575L435,1575L436,1575L437,1575L438,1575L439,1575L440,1575L441,1575L442,1575L443,1575L444,1575L445,1575L446,1575L447,1575L448,1575L449,1575L450,1575L451,1575L452,1575L453,1575L454,1575L455,1575L456,1575L457,1575L458,1575L459,1575L460,1575L461,1575L462,1575L463,1575L464,1575L465,1575L466,1575L467,1575L468,1575L469,1575L470,1575L471,1575L472,1575L473,1575L474,1575L475,1575L476,1575L477,1575L478,1575L479,1575L480,1575L481,1575L482,1575L483,1575L484,1575L485,1575L486,1575L487,1575L488,1575L489,1575L490,1575L491,1575L492,1575L493,1575L494,1575L495,1575L496,1575L497,1575L498,1575L499,1575L500,1575L501,1575L502,1575L503,1575L504,1575L505,1575L506,1575L507,1575L508,1575L509,1575L510,1575L511,1575L512,1575L513,1575L514,1575L515,1575L516,1575L517,1575L518,1575L519,1575L520,1575L521,1575L522,1575L523,1575L524,1575L525,1575L526,1575L527,1575L528,1575L529,1575L530,1575L531,1575L532,1575L533,1575L534,1575L535,1575L536,1575L537,1575L538,1575L539,1575L540,1575L541,1575L542,1575L543,1575L544,1575L545,1575L546,1575L547,1575L548,1575L549,1575L550,1575L551,1575L552,1575L553,1575L554,1575L555,1575L556,1575L557,1575L558,1575L559,1575L560,1575L561,1575L562,1575L563,1575L564,1575L565,1575L566,1575L567,1575L568,1575L569,1575L570,1575L571,1575L572,1575L573,1575L574,1575L575,1575L576,1575L577,1575L578,1575L579,1575L580,1575L581,1575L582,1575L583,1575L584,1575L585,1575L586,1575L587,1575L588,1575L589,1575L590,1575L591,1575L592,1575L593,1575L594,1575L595,1575L596,1575L597,1575L598,1575L599,1575L600,1575L601,1575L602,1575L603,1575L604,1575L605,1575L606,1575L607,1575L608,1575L609,1575L610,1575L611,1575L612,1575L613,1575L614,1575L615,1575L616,1575L617,1575L618,1575L619,1575L620,1575L621,1575L622,1575L623,1575L624,1575L625,1575L626,1575L627,1574.9L628,1574.9L629,1574.9L630,1574.9L631,1574.9L632,1574.9L633,1574.9L634,1574.9L635,1574.9L636,1574.9L637,1574.9L638,1574.9L639,1574.8L640,1574.8L641,1574.8L642,1574.8L643,1574.8L644,1574.8L645,1574.7L646,1574.7L647,1574.7L648,1574.7L649,1574.6L650,1574.6L651,1574.6L652,1574.5L653,1574.5L654,1574.5L655,1574.4L656,1574.4L657,1574.3L658,1574.3L659,1574.2L660,1574.2L661,1574.1L662,1574L663,1573.9L664,1573.9L665,1573.8L666,1573.7L667,1573.6L668,1573.5L669,1573.4L670,1573.3L671,1573.1L672,1573L673,1572.8L674,1572.7L675,1572.5L676,1572.4L677,1572.2L678,1572L679,1571.8L680,1571.6L681,1571.4L682,1571.1L683,1570.9L684,1570.6L685,1570.3L686,1570L687,1569.7L688,1569.4L689,1569.1L690,1568.7L691,1568.3L692,1567.9L693,1567.5L694,1567.1L695,1566.6L696,1566.1L697,1565.6L698,1565.1L699,1564.6L700,1564L701,1563.4L702,1562.8L703,1562.2L704,1561.5L705,1560.8L706,1560.1L707,1559.3L708,1558.6L709,1557.8L710,1556.9L711,1556.1L712,1555.2L713,1554.3L714,1553.3L715,1552.3L716,1551.3L717,1550.3L718,1549.2L719,1548.1L720,1546.9L721,1545.8L722,1544.6L723,1543.3L724,1542.1L725,1540.8L726,1539.5L727,1538.1L728,1536.7L729,1535.3L730,1533.9L731,1532.4L732,1530.9L733,1529.4L734,1527.8L735,1526.3L736,1524.7L737,1523.1L738,1521.4L739,1519.8L740,1518.1L741,1516.4L742,1514.7L743,1513L744,1511.2L745,1509.5L746,1507.7L747,1506L748,1504.2L749,1502.4L750,1500.6L751,1498.9L752,1497.1L753,1495.3L754,1493.6L755,1491.8L756,1490.1L757,1488.4L758,1486.6L759,1485L760,1483.3L761,1481.6L762,1480L763,1478.4L764,1476.8L765,1475.3L766,1473.8L767,1472.3L768,1470.9L769,1469.5L770,1468.2L771,1466.9L772,1465.6L773,1464.4L774,1463.3L775,1462.2L776,1461.1L777,1460.2L778,1459.2L779,1458.4L780,1457.6L781,1456.8L782,1456.1L783,1455.5L784,1455L785,1454.5L786,1454.1L787,1453.7L788,1453.4L789,1453.2L790,1453.1L791,1453L792,1453L793,1453.1L794,1453.2L795,1453.4L796,1453.7L797,1454.1L798,1454.5L799,1455L800,1455.5L801,1456.1L802,1456.8L803,1457.6L804,1458.4L805,1459.2L806,1460.2L807,1461.1L808,1462.2L809,1463.3L810,1464.4L811,1465.6L812,1466.9L813,1468.2L814,1469.5L815,1470.9L816,1472.3L817,1473.8L818,1475.3L819,1476.8L820,1478.4L821,1480L822,1481.6L823,1483.3L824,1485L825,1486.6L826,1488.4L827,1490.1L828,1491.8L829,1493.6L830,1495.3L831,1497.1L832,1498.9L833,1500.6L834,1502.4L835,1504.2L836,1506L837,1507.7L838,1509.5L839,1511.2L840,1513L841,1514.7L842,1516.4L843,1518.1L844,1519.8L845,1521.4L846,1523.1L847,1524.7L848,1526.3L849,1527.8L850,1529.4L851,1530.9L852,1532.4L853,1533.9L854,1535.3L855,1536.7L856,1538.1L857,1539.5L858,1540.8L859,1542.1L860,1543.3L861,1544.6L862,1545.8L863,1546.9L864,1548.1L865,1549.2L866,1550.3L867,1551.3L868,1552.3L869,1553.3L870,1554.3L871,1555.2L872,1556.1L873,1556.9L874,1557.8L875,1558.6L876,1559.3L877,1560.1L878,1560.8L879,1561.5L880,1562.2L881,1562.8L882,1563.4L883,1564L884,1564.6L885,1565.1L886,1565.6L887,1566.1L888,1566.6L889,1567.1L890,1567.5L891,1567.9L892,1568.3L893,1568.7L894,1569.1L895,1569.4L896,1569.7L897,1570L898,1570.3L899,1570.6L900,1570.9L901,1571.1L902,1571.4L903,1571.6L904,1571.8L905,1572L906,1572.2L907,1572.4L908,1572.5L909,1572.7L910,1572.8L911,1573L912,1573.1L913,1573.3L914,1573.4L915,1573.5L916,1573.6L917,1573.7L918,1573.8L919,1573.9L920,1573.9L921,1574L922,1574.1L923,1574.2L924,1574.2L925,1574.3L926,1574.3L927,1574.4L928,1574.4L929,1574.5L930,1574.5L931,1574.5L932,1574.6L933,1574.6L934,1574.6L935,1574.7L936,1574.7L937,1574.7L938,1574.7L939,1574.8L940,1574.8L941,1574.8L942,1574.8L943,1574.8L944,1574.8L945,1574.9L946,1574.9L947,1574.9L948,1574.9" fill="none" stroke="#ff00ff" stroke-width="7" stroke-linejoin="round" stroke-linecap="round"/>
<path d="M114.5,1575.5L115.5,1575.5L116.5,1575.5L117.5,1575.5L118.5,1575.5L119.5,1575.5L120.5,1575.5L121.5,1575.5L122.5,1575.5L123.5,1575.5L124.5,1575.5L125.5,1575.5L126.5,1575.5L127.5,1575.5L128.5,1575.5L129.5,1575.5L130.5,1575.5L131.5,1575.4L132.5,1575.4L133.5,1575.4L134.5,1575.4L135.5,1575.4L136.5,1575.4L137.5,1575.4L138.5,1575.4L139.5,1575.4L140.5,1575.4L141.5,1575.4L142.5,1575.4L143.5,1575.3L144.5,1575.3L145.5,1575.3L146.5,1575.3L147.5,1575.3L148.5,1575.2L149.5,1575.2L150.5,1575L151.5,1574.9L152.5,1574.7L153.5,1574.5L154.5,1574.3L155.5,1574L156.5,1573.7L157.5,1573.4L158.5,1573.1L159.5,1572.8L160.5,1572.4L161.5,1572.1L162.5,1571.7L163.5,1571.4L164.5,1571L165.5,1570.6L166.5,1570.3L167.5,1569.9L168.5,1569.5L169.5,1569.2L170.5,1568.8L171.5,1568.5L172.5,1568.1L173.5,1567.7L174.5,1567.3L175.5,1566.9L176.5,1566.5L177.5,1566L178.5,1565.6L179.5,1565.1L180.5,1564.6L181.5,1564.1L182.5,1563.6L183.5,1563.1L184.5,1562.6L185.5,1562L186.5,1561.5L187.5,1560.9L188.5,1560.4L189.5,1559.8L190.5,1559.2L191.5,1558.6L192.5,1558L193.5,1557.4L194.5,1556.8L195.5,1556.2L196.5,1555.5L197.5,1554.8L198.5,1554.2L199.5,1553.5L200.5,1552.8L201.5,1552.1L202.5,1551.3L203.5,1550.6L204.5,1549.8L205.5,1549L206.5,1548.2L207.5,1547.3L208.5,1546.5L209.5,1545.6L210.5,1544.7L211.5,1543.8L212.5,1542.8L213.5,1541.8L214.5,1540.8L215.5,1539.8L216.5,1538.7L217.5,1537.6L218.5,1536.4L219.5,1535.2L220.5,1534L221.5,1532.7L222.5,1531.3L223.5,1529.9L224.5,1528.4L225.5,1526.9L226.5,1525.4L227.5,1523.8L228.5,1522.1L229.5,1520.4L230.5,1518.7L231.5,1516.9L232.5,1515L233.5,1513.1L234.5,1511.1L235.5,1509.1L236.5,1507L237.5,1504.9L238.5,1502.7L239.5,1500.5L240.5,1498.2L241.5,1495.8L242.5,1493.3L243.5,1490.6L244.5,1487.7L245.5,1484.6L246.5,1481.4L247.5,1477.9L248.5,1474.2L249.5,1470.4L250.5,1466.3L251.5,1461.9L252.5,1457.4L253.5,1452.5L254.5,1446.7L255.5,1440.2L256.5,1433.2L257.5,1425.7L258.5,1418L259.5,1410.2L260.5,1402.6L261.5,1394.9L262.5,1386.4L263.5,1376.6L264.5,1364.2L265.5,1346.7L266.5,1329.3L267.5,1316.6L268.5,1306.5L269.5,1296.7L270.5,1285L271.5,1268.7L272.5,1250.2L273.5,1235L274.5,1223.7L275.5,1213.5L276.5,1202L277.5,1186.2L278.5,1164.6L279.5,1142.7L280.5,1126.1L281.5,1112.7L282.5,1100.7L283.5,1089.8L284.5,1079.7L285.5,1070.3L286.5,1061.2L287.5,1051.3L288.5,1041.3L289.5,1032.8L290.5,1027.3L291.5,1026L292.5,1026.4L293.5,1027.2L294.5,1028.2L295.5,1029.4L296.5,1030.6L297.5,1032.1L298.5,1033.8L299.5,1035.8L300.5,1038.2L301.5,1040.8L302.5,1043.8L303.5,1047.1L304.5,1050.8L305.5,1055.9L306.5,1062.7L307.5,1070.5L308.5,1079L309.5,1087.8L310.5,1098L311.5,1109.6L312.5,1121.5L313.5,1132.7L314.5,1142.2L315.5,1150.2L316.5,1157.4L317.5,1164.5L318.5,1172.1L319.5,1180.3L320.5,1188.8L321.5,1197.4L322.5,1206L323.5,1214.3L324.5,1222.2L325.5,1230L326.5,1237.7L327.5,1245L328.5,1251.9L329.5,1258L330.5,1263.8L331.5,1269.5L332.5,1275.1L333.5,1280.4L334.5,1285.3L335.5,1289.9L336.5,1293.9L337.5,1297.4L338.5,1300.3L339.5,1302.7L340.5,1304.9L341.5,1306.9L342.5,1308.6L343.5,1310L344.5,1311.1L345.5,1312L346.5,1312.8L347.5,1313.5L348.5,1314.2L349.5,1314.8L350.5,1315.3L351.5,1315.8L352.5,1316.3L353.5,1316.7L354.5,1317.1L355.5,1317.5L356.5,1317.9L357.5,1318.3L358.5,1318.7L359.5,1319.1L360.5,1319.5L361.5,1320L362.5,1320.5L363.5,1321L364.5,1321.7L365.5,1322.3L366.5,1323.1L367.5,1323.9L368.5,1324.8L369.5,1325.8L370.5,1326.9L371.5,1328L372.5,1329.2L373.5,1330.5L374.5,1331.8L375.5,1333.2L376.5,1334.6L377.5,1336.1L378.5,1337.6L379.5,1339.1L380.5,1340.7L381.5,1342.2L382.5,1343.8L383.5,1345.5L384.5,1347.1L385.5,1348.7L386.5,1350.4L387.5,1352L388.5,1353.6L389.5,1355.2L390.5,1356.8L391.5,1358.4L392.5,1359.9L393.5,1361.4L394.5,1362.9L395.5,1364.3L396.5,1365.9L397.5,1367.5L398.5,1369.1L399.5,1370.8L400.5,1372.5L401.5,1374.2L402.5,1375.9L403.5,1377.6L404.5,1379.3L405.5,1381L406.5,1382.7L407.5,1384.3L408.5,1385.8L409.5,1387.3L410.5,1388.7L411.5,1390L412.5,1391.3L413.5,1392.4L414.5,1393.4L415.5,1394.3L416.5,1395L417.5,1395.6L418.5,1396.2L419.5,1396.8L420.5,1397.3L421.5,1397.8L422.5,1398.3L423.5,1398.7L424.5,1399.1L425.5,1399.5L426.5,1399.9L427.5,1400.3L428.5,1400.7L429.5,1401.1L430.5,1401.4L431.5,1401.8L432.5,1402.2L433.5,1402.6L434.5,1402.9L435.5,1403.3L436.5,1403.6L437.5,1403.9L438.5,1404.2L439.5,1404.5L440.5,1404.8L441.5,1405L442.5,1405.3L443.5,1405.6L444.5,1405.9L445.5,1406.1L446.5,1406.4L447.5,1406.7L448.5,1407L449.5,1407.3L450.5,1407.6L451.5,1407.9L452.5,1408.2L453.5,1408.6L454.5,1408.9L455.5,1409.3L456.5,1409.7L457.5,1410.1L458.5,1410.5L459.5,1411L460.5,1411.5L461.5,1412L462.5,1412.6L463.5,1413.2L464.5,1413.8L465.5,1414.5L466.5,1415.2L467.5,1415.9L468.5,1416.7L469.5,1417.5L470.5,1418.4L471.5,1419.3L472.5,1420.2L473.5,1421.1L474.5,1422.1L475.5,1423.1L476.5,1424.2L477.5,1425.3L478.5,1426.4L479.5,1427.6L480.5,1428.8L481.5,1430L482.5,1431.3L483.5,1432.6L484.5,1433.9L485.5,1435.3L486.5,1436.7L487.5,1438.1L488.5,1439.6L489.5,1441.1L490.5,1442.9L491.5,1444.9L492.5,1447L493.5,1449.4L494.5,1451.9L495.5,1454.5L496.5,1457.2L497.5,1460L498.5,1462.9L499.5,1465.9L500.5,1468.8L501.5,1471.8L502.5,1474.8L503.5,1477.7L504.5,1480.5L505.5,1483.3L506.5,1486L507.5,1488.6L508.5,1491L509.5,1493.5L510.5,1496L511.5,1498.5L512.5,1501L513.5,1503.5L514.5,1505.9L515.5,1508.4L516.5,1510.7L517.5,1513L518.5,1515.2L519.5,1517.3L520.5,1519.3L521.5,1521.1L522.5,1522.9L523.5,1524.6L524.5,1526.4L525.5,1528.2L526.5,1530L527.5,1531.8L528.5,1533.6L529.5,1535.4L530.5,1537.1L531.5,1538.8L532.5,1540.4L533.5,1542L534.5,1543.4L535.5,1544.8L536.5,1546.1L537.5,1547.2L538.5,1548.2L539.5,1549.1L540.5,1549.8L541.5,1550.4L542.5,1550.8L543.5,1551L544.5,1551L545.5,1550.9L546.5,1550.6L547.5,1550.2L548.5,1549.8L549.5,1549.2L550.5,1548.6L551.5,1547.9L552.5,1547.1L553.5,1546.3L554.5,1545.4L555.5,1544.4L556.5,1543.5L557.5,1542.5L558.5,1541.5L559.5,1540.5L560.5,1539.5L561.5,1538.3L562.5,1537.1L563.5,1535.6L564.5,1534.1L565.5,1532.5L566.5,1530.7L567.5,1528.9L568.5,1527L569.5,1525L570.5,1522.9L571.5,1520.8L572.5,1518.7L573.5,1516.5L574.5,1514.2L575.5,1511.7L576.5,1509.1L577.5,1506.3L578.5,1503.4L579.5,1500.4L580.5,1497.3L581.5,1494.1L582.5,1490.8L583.5,1487.4L584.5,1484.1L585.5,1480.6L586.5,1477.2L587.5,1473.7L588.5,1470.2L589.5,1466.7L590.5,1463.2L591.5,1459.6L592.5,1455.7L593.5,1451.6L594.5,1447.4L595.5,1443.1L596.5,1438.7L597.5,1434.3L598.5,1429.8L599.5,1425.4L600.5,1421L601.5,1416.7L602.5,1412.5L603.5,1408.4L604.5,1404.5L605.5,1400.8L606.5,1397.4L607.5,1394.2L608.5,1391.3L609.5,1388.7L610.5,1386.4L611.5,1384L612.5,1381.7L613.5,1379.4L614.5,1377.1L615.5,1374.9L616.5,1372.8L617.5,1370.8L618.5,1369L619.5,1367.3L620.5,1365.9L621.5,1364.7L622.5,1363.7L623.5,1363.1L624.5,1362.7L625.5,1362.7L626.5,1362.9L627.5,1363.1L628.5,1363.6L629.5,1364.1L630.5,1364.7L631.5,1365.5L632.5,1366.4L633.5,1367.3L634.5,1368.4L635.5,1369.5L636.5,1370.7L637.5,1372L638.5,1373.4L639.5,1374.8L640.5,1376.2L641.5,1377.7L642.5,1379.3L643.5,1380.8L644.5,1382.4L645.5,1384L646.5,1385.7L647.5,1387.3L648.5,1388.9L649.5,1390.6L650.5,1392.2L651.5,1393.9L652.5,1396L653.5,1398.2L654.5,1400.7L655.5,1403.3L656.5,1406L657.5,1408.8L658.5,1411.6L659.5,1414.4L660.5,1417.2L661.5,1419.9L662.5,1422.5L663.5,1425L664.5,1427.3L665.5,1429.4L666.5,1431.2L667.5,1432.8L668.5,1434.2L669.5,1435.7L670.5,1437.1L671.5,1438.4L672.5,1439.7L673.5,1441L674.5,1442.2L675.5,1443.4L676.5,1444.5L677.5,1445.6L678.5,1446.6L679.5,1447.6L680.5,1448.5L681.5,1449.3L682.5,1450.2L683.5,1450.9L684.5,1451.7L685.5,1452.3L686.5,1453L687.5,1453.6L688.5,1454.2L689.5,1454.7L690.5,1455.3L691.5,1455.8L692.5,1456.3L693.5,1456.8L694.5,1457.3L695.5,1457.7L696.5,1458.2L697.5,1458.6L698.5,1459L699.5,1459.4L700.5,1459.8L701.5,1460.2L702.5,1460.6L703.5,1461L704.5,1461.3L705.5,1461.7L706.5,1462.1L707.5,1462.4L708.5,1462.8L709.5,1463.2L710.5,1463.6L711.5,1464L712.5,1464.4L713.5,1464.8L714.5,1465.2L715.5,1465.6L716.5,1465.9L717.5,1466.3L718.5,1466.7L719.5,1467L720.5,1467.4L721.5,1467.7L722.5,1468L723.5,1468.2L724.5,1468.5L725.5,1468.7L726.5,1468.9L727.5,1469.1L728.5,1469.2L729.5,1469.3L730.5,1469.4L731.5,1469.4L732.5,1469.4L733.5,1469.3L734.5,1469.2L735.5,1469.1L736.5,1468.9L737.5,1468.7L738.5,1468.5L739.5,1468.3L740.5,1468L741.5,1467.7L742.5,1467.3L743.5,1467L744.5,1466.6L745.5,1466.2L746.5,1465.8L747.5,1465.4L748.5,1465L749.5,1464.5L750.5,1464.1L751.5,1463.7L752.5,1463.2L753.5,1462.8L754.5,1462.3L755.5,1461.9L756.5,1461.5L757.5,1461.1L758.5,1460.7L759.5,1460.3L760.5,1459.9L761.5,1459.5L762.5,1459.2L763.5,1458.8L764.5,1458.5L765.5,1458.1L766.5,1457.7L767.5,1457.3L768.5,1456.8L769.5,1456.4L770.5,1456L771.5,1455.5L772.5,1455.1L773.5,1454.6L774.5,1454.2L775.5,1453.7L776.5,1453.3L777.5,1452.9L778.5,1452.4L779.5,1452L780.5,1451.6L781.5,1451.3L782.5,1450.9L783.5,1450.6L784.5,1450.3L785.5,1450L786.5,1449.8L787.5,1449.6L788.5,1449.4L789.5,1449.2L790.5,1449.1L791.5,1449L792.5,1449L793.5,1449L794.5,1449.1L795.5,1449.3L796.5,1449.5L797.5,1449.8L798.5,1450.2L799.5,1450.6L800.5,1451.1L801.5,1451.6L802.5,1452.1L803.5,1452.7L804.5,1453.3L805.5,1454L806.5,1454.6L807.5,1455.3L808.5,1456L809.5,1456.8L810.5,1457.5L811.5,1458.2L812.5,1458.9L813.5,1459.7L814.5,1460.5L815.5,1461.4L816.5,1462.3L817.5,1463.4L818.5,1464.5L819.5,1465.7L820.5,1467L821.5,1468.3L822.5,1469.7L823.5,1471.1L824.5,1472.6L825.5,1474.1L826.5,1475.7L827.5,1477.3L828.5,1479L829.5,1480.7L830.5,1482.4L831.5,1484.1L832.5,1485.9L833.5,1487.6L834.5,1489.4L835.5,1491.2L836.5,1493L837.5,1494.7L838.5,1496.5L839.5,1498.3L840.5,1500.1L841.5,1501.8L842.5,1503.5L843.5,1505.2L844.5,1506.9L845.5,1508.5L846.5,1510.2L847.5,1511.7L848.5,1513.2L849.5,1514.7L850.5,1516.1L851.5,1517.5L852.5,1518.8L853.5,1520.1L854.5,1521.3L855.5,1522.5L856.5,1523.7L857.5,1524.9L858.5,1526.1L859.5,1527.3L860.5,1528.5L861.5,1529.7L862.5,1530.9L863.5,1532L864.5,1533.2L865.5,1534.4L866.5,1535.6L867.5,1536.7L868.5,1537.9L869.5,1539L870.5,1540.1L871.5,1541.2L872.5,1542.3L873.5,1543.4L874.5,1544.5L875.5,1545.5L876.5,1546.5L877.5,1547.6L878.5,1548.6L879.5,1549.5L880.5,1550.5L881.5,1551.4L882.5,1552.3L883.5,1553.2L884.5,1554L885.5,1554.9L886.5,1555.7L887.5,1556.5L888.5,1557.2L889.5,1557.9L890.5,1558.6L891.5,1559.2L892.5,1559.9L893.5,1560.5L894.5,1561L895.5,1561.5L896.5,1562.1L897.5,1562.6L898.5,1563.2L899.5,1563.7L900.5,1564.2L901.5,1564.7L902.5,1565.2L903.5,1565.8L904.5,1566.3L905.5,1566.8L906.5,1567.3L907.5,1567.7L908.5,1568.2L909.5,1568.7L910.5,1569.1L911.5,1569.6L912.5,1570L913.5,1570.4L914.5,1570.9L915.5,1571.3L916.5,1571.7L917.5,1572L918.5,1572.4L919.5,1572.7L920.5,1573.1L921.5,1573.4L922.5,1573.7L923.5,1574L924.5,1574.3L925.5,1574.5L926.5,1574.8L927.5,1575L928.5,1575.2L929.5,1575.4L930.5,1575.5L931.5,1575.7L932.5,1575.8L933.5,1575.9L934.5,1576" fill="none" stroke="#000" stroke-width="8.5" stroke-linejoin="round" stroke-linecap="butt" stroke-dasharray="40 44" stroke-dashoffset="6"/>
<rect x="94" y="899.7" width="857.3" height="691.3" fill="none" stroke="#000" stroke-width="8"/>
<line x1="94" y1="1587" x2="94" y2="1604" stroke="#000" stroke-width="6.5"/><line x1="308.2" y1="1587" x2="308.2" y2="1604" stroke="#000" stroke-width="6.5"/><line x1="522.4" y1="1587" x2="522.4" y2="1604" stroke="#000" stroke-width="6.5"/><line x1="736.6" y1="1587" x2="736.6" y2="1604" stroke="#000" stroke-width="6.5"/><line x1="950.8" y1="1587" x2="950.8" y2="1604" stroke="#000" stroke-width="6.5"/><line x1="201.1" y1="1589" x2="201.1" y2="1597.5" stroke="#000" stroke-width="6.5"/><line x1="415.3" y1="1589" x2="415.3" y2="1597.5" stroke="#000" stroke-width="6.5"/><line x1="629.5" y1="1589" x2="629.5" y2="1597.5" stroke="#000" stroke-width="6.5"/><line x1="843.7" y1="1589" x2="843.7" y2="1597.5" stroke="#000" stroke-width="6.5"/>
<text x="94" y="1661" font-size="58" font-weight="normal" text-anchor="middle">770</text>
<text x="308.2" y="1661" font-size="58" font-weight="normal" text-anchor="middle">780</text>
<text x="522.4" y="1661" font-size="58" font-weight="normal" text-anchor="middle">790</text>
<text x="736.6" y="1661" font-size="58" font-weight="normal" text-anchor="middle">800</text>
<text x="950.8" y="1661" font-size="58" font-weight="normal" text-anchor="middle">810</text>
<text x="239" y="1721.5" font-size="65" font-weight="normal" text-anchor="start">Binding energy / eV</text>
<text transform="translate(68.5,1418.5) rotate(-90)" x="0" y="0" font-size="65">Intensity / a.u</text>
<text x="113" y="1044.5" font-size="82" font-weight="bold" text-anchor="start">(c)</text>
<text x="779" y="960.6" font-size="57" font-weight="bold" text-anchor="start">Co 2p</text>
<text x="221" y="990.5" font-size="41" font-weight="bold" text-anchor="start">Co 2p<tspan font-size="27" dy="11">3/2</tspan></text>
<text x="412" y="1383" font-size="41" font-weight="bold" text-anchor="start">Satellite</text>
<text x="553" y="1317.7" font-size="41" font-weight="bold" text-anchor="start">Co 2p<tspan font-size="27" dy="11">1/2</tspan></text>
<text x="740" y="1424.8" font-size="41" font-weight="bold" text-anchor="start">Satellite</text>
</g>
<g id="pd">
<path d="M1219,1533.4L1220,1531.7L1221,1530.1L1222,1528.4L1223,1526.7L1224,1527.9L1225,1529.1L1226,1530.3L1227,1531.5L1228,1531.1L1229,1530.7L1230,1530.3L1231,1529.9L1232,1530.4L1233,1530.8L1234,1531.2L1235,1531.6L1236,1530.3L1237,1529L1238,1527.7L1239,1526.5L1240,1526.5L1241,1526.5L1242,1526.5L1243,1526.6L1244,1526.8L1245,1527.1L1246,1527.3L1247,1527.6L1248,1529.2L1249,1530.8L1250,1532.4L1251,1534L1252,1532.6L1253,1531.3L1254,1529.9L1255,1528.6L1256,1529.1L1257,1529.7L1258,1530.3L1259,1530.9L1260,1531.6L1261,1532.4L1262,1533.2L1263,1534L1264,1533.4L1265,1532.9L1266,1532.3L1267,1531.8L1268,1530.8L1269,1529.8L1270,1528.8L1271,1527.8L1272,1528.2L1273,1528.6L1274,1529.1L1275,1529.5L1276,1528.9L1277,1528.2L1278,1527.6L1279,1526.9L1280,1527.3L1281,1527.6L1282,1528L1283,1528.4L1284,1528.4L1285,1528.4L1286,1528.5L1287,1528.5L1288,1527.9L1289,1527.4L1290,1526.8L1291,1526.2L1292,1527.9L1293,1529.5L1294,1531.2L1295,1532.8L1296,1532.9L1297,1533L1298,1533.1L1299,1533.2L1300,1532.5L1301,1531.7L1302,1530.9L1303,1530.2L1304,1530.4L1305,1530.6L1306,1530.9L1307,1531.1L1308,1531L1309,1530.9L1310,1530.8L1311,1530.8L1312,1530.9L1313,1531L1314,1531.1L1315,1531.3L1316,1531.9L1317,1532.6L1318,1533.2L1319,1533.9L1320,1533.1L1321,1532.2L1322,1531.4L1323,1530.5L1324,1529.6L1325,1528.8L1326,1527.9L1327,1527L1328,1528.1L1329,1529.2L1330,1530.3L1331,1531.3L1332,1531.3L1333,1531.3L1334,1531.3L1335,1531.3L1336,1531.6L1337,1531.9L1338,1532.2L1339,1532.5L1340,1532.1L1341,1531.7L1342,1531.3L1343,1531L1344,1530.2L1345,1529.5L1346,1528.7L1347,1528L1348,1527.3L1349,1526.7L1350,1526.1L1351,1525.5L1352,1526.2L1353,1527L1354,1527.7L1355,1528.5L1356,1528.8L1357,1529.1L1358,1529.3L1359,1529.6L1360,1529.7L1361,1529.8L1362,1529.9L1363,1530L1364,1529.8L1365,1529.5L1366,1529.2L1367,1529L1368,1528.7L1369,1528.3L1370,1528L1371,1527.7L1372,1527.5L1373,1527.3L1374,1527.1L1375,1526.9L1376,1525.9L1377,1524.8L1378,1523.8L1379,1522.8L1380,1522.8L1381,1522.7L1382,1522.7L1383,1522.7L1384,1522.3L1385,1521.9L1386,1521.5L1387,1521.1L1388,1519.9L1389,1518.6L1390,1517.3L1391,1516L1392,1517.2L1393,1518.4L1394,1519.5L1395,1520.7L1396,1518.2L1397,1515.7L1398,1513.1L1399,1510.5L1400,1511.4L1401,1512L1402,1512.6L1403,1513.2L1404,1511.5L1405,1509.9L1406,1508.1L1407,1506.4L1408,1503.7L1409,1501.1L1410,1498.3L1411,1495.5L1412,1494.1L1413,1492.6L1414,1491L1415,1489.4L1416,1487.2L1417,1484.9L1418,1482.5L1419,1480.1L1420,1478.6L1421,1477.5L1422,1476.3L1423,1475L1424,1471.7L1425,1468.4L1426,1464.9L1427,1461.4L1428,1459.7L1429,1458L1430,1456.1L1431,1454.2L1432,1452L1433,1449.8L1434,1447.4L1435,1444.9L1436,1441.1L1437,1437.2L1438,1433.2L1439,1429.1L1440,1425.8L1441,1422L1442,1418.1L1443,1414.1L1444,1409.2L1445,1404.3L1446,1399.2L1447,1394L1448,1389.6L1449,1385L1450,1380.3L1451,1375.3L1452,1370.2L1453,1365L1454,1359.6L1455,1354.2L1456,1347.8L1457,1341.4L1458,1334.9L1459,1328.3L1460,1322.3L1461,1316.2L1462,1310.1L1463,1303.8L1464,1297L1465,1290.2L1466,1283.3L1467,1276.4L1468,1269L1469,1261.7L1470,1254.3L1471,1246.9L1472,1239.7L1473,1232.4L1474,1225.2L1475,1217.8L1476,1210.9L1477,1203.9L1478,1196.9L1479,1189.8L1480,1182.5L1481,1175.2L1482,1167.9L1483,1160.6L1484,1153L1485,1145.4L1486,1137.8L1487,1130.3L1488,1123.5L1489,1116.8L1490,1110.2L1491,1103.6L1492,1096.5L1493,1089.6L1494,1082.7L1495,1075.9L1496,1070.1L1497,1064.4L1498,1058.7L1499,1053.3L1500,1046.6L1501,1040.8L1502,1035.2L1503,1029.6L1504,1025.1L1505,1020.7L1506,1016.5L1507,1012.3L1508,1008.6L1509,1005L1510,1001.5L1511,998.1L1512,994.1L1513,990.3L1514,986.6L1515,983L1516,979.8L1517,976.7L1518,973.8L1519,971L1520,968.5L1521,967.3L1522,966.2L1523,965L1524,964.5L1525,964L1526,963.5L1527,963.1L1528,962.2L1529,961.3L1530,960.5L1531,959.7L1532,958.6L1533,957.6L1534,956.7L1535,955.8L1536,954.6L1537,953.8L1538,953.1L1539,952.7L1540,952.8L1541,953.1L1542,953.7L1543,954.5L1544,955.7L1545,957.1L1546,958.8L1547,960.7L1548,962.2L1549,964L1550,966L1551,968.2L1552,970.2L1553,972.4L1554,974.8L1555,977.4L1556,982.2L1557,987.2L1558,992.5L1559,998L1560,1003.5L1561,1009.2L1562,1015.1L1563,1021.3L1564,1026.7L1565,1032.3L1566,1038.1L1567,1044L1568,1051L1569,1058.1L1570,1065.3L1571,1072.7L1572,1079.6L1573,1084.8L1574,1090.1L1575,1095.3L1576,1099.9L1577,1104.5L1578,1109.1L1579,1113.8L1580,1119.2L1581,1124.7L1582,1130.1L1583,1135.5L1584,1140.7L1585,1145.9L1586,1151L1587,1156.2L1588,1161.7L1589,1167.2L1590,1172.6L1591,1178.1L1592,1183.4L1593,1188.7L1594,1194L1595,1199.2L1596,1204.3L1597,1209.4L1598,1214.4L1599,1219.4L1600,1223.5L1601,1227.6L1602,1231.7L1603,1235.7L1604,1241.3L1605,1246.7L1606,1252.2L1607,1257.6L1608,1261.2L1609,1264.8L1610,1268.3L1611,1271.8L1612,1276.9L1613,1282L1614,1287L1615,1292L1616,1295.7L1617,1299.3L1618,1302.8L1619,1306.3L1620,1309.8L1621,1313.2L1622,1316.6L1623,1320L1624,1323.6L1625,1327.2L1626,1330.7L1627,1334.2L1628,1337.8L1629,1341.4L1630,1344.9L1631,1348.4L1632,1351.6L1633,1354.8L1634,1357.9L1635,1360.9L1636,1365L1637,1369L1638,1373L1639,1376.9L1640,1379.5L1641,1382.1L1642,1384.6L1643,1387.1L1644,1389.5L1645,1391.9L1646,1394.2L1647,1396.6L1648,1399L1649,1401.4L1650,1403.8L1651,1406.1L1652,1408.9L1653,1411.8L1654,1414.7L1655,1417.6L1656,1419.6L1657,1421.7L1658,1423.6L1659,1425.5L1660,1427.3L1661,1429L1662,1430.7L1663,1432.3L1664,1434.4L1665,1436.4L1666,1438.5L1667,1440.5L1668,1443L1669,1445.6L1670,1448.1L1671,1450.6L1672,1451L1673,1451.2L1674,1451.3L1675,1451.3L1676,1454.3L1677,1457.3L1678,1460.3L1679,1463.3L1680,1464.9L1681,1466.5L1682,1468L1683,1469.6L1684,1470.7L1685,1471.8L1686,1472.9L1687,1473.9L1688,1473.1L1689,1472.2L1690,1471.2L1691,1470.1L1692,1472.8L1693,1475.4L1694,1478.1L1695,1480.9L1696,1481.4L1697,1481.9L1698,1482.3L1699,1482.7L1700,1481.5L1701,1480.5L1702,1479.5L1703,1478.4L1704,1479.5L1705,1480.5L1706,1481.6L1707,1482.6L1708,1484.1L1709,1485.5L1710,1486.9L1711,1488.4L1712,1489.2L1713,1489.9L1714,1490.7L1715,1491.4L1716,1492.7L1717,1494L1718,1495.3L1719,1496.5L1720,1496.9L1721,1496.9L1722,1496.9L1723,1496.9L1724,1497L1725,1497L1726,1497.1L1727,1497.1L1728,1495.9L1729,1494.8L1730,1493.6L1731,1492.4L1732,1494.9L1733,1497.4L1734,1499.8L1735,1502.3L1736,1502L1737,1501.7L1738,1501.4L1739,1501.1L1740,1498.9L1741,1496.7L1742,1494.4L1743,1492.2L1744,1494.3L1745,1496.4L1746,1498.4L1747,1500.5L1748,1500.1L1749,1499.6L1750,1499.1L1751,1498.6L1752,1496.8L1753,1495L1754,1493.1L1755,1491.3L1756,1493L1757,1494.6L1758,1496.3L1759,1498L1760,1497.1L1761,1496.3L1762,1495.4L1763,1494.5L1764,1494.1L1765,1493.7L1766,1493.3L1767,1492.9L1768,1491.8L1769,1490.7L1770,1489.6L1771,1488.3L1772,1486.7L1773,1485L1774,1483.4L1775,1481.8L1776,1484.7L1777,1487.6L1778,1490.5L1779,1493.5L1780,1493L1781,1492.6L1782,1492.2L1783,1491.7L1784,1489.9L1785,1488.2L1786,1486.4L1787,1484.6L1788,1484.5L1789,1484.4L1790,1484.3L1791,1484.2L1792,1484.4L1793,1484.6L1794,1484.8L1795,1485L1796,1481.5L1797,1478L1798,1474.4L1799,1470.9L1800,1471.3L1801,1471.6L1802,1471.8L1803,1472.1L1804,1471L1805,1469.8L1806,1468.7L1807,1467.5L1808,1470.5L1809,1473.6L1810,1476.6L1811,1479.7L1812,1477.1L1813,1474.5L1814,1471.9L1815,1469.3L1816,1468.4L1817,1467.5L1818,1466.6L1819,1465.7L1820,1466.7L1821,1467.8L1822,1468.9L1823,1470L1824,1468.5L1825,1467.1L1826,1465.7L1827,1464.3L1828,1464.3L1829,1464.3L1830,1464.3L1831,1464.3L1832,1465.8L1833,1467.3L1834,1468.8L1835,1470.3L1836,1468.7L1837,1467.1L1838,1465.5L1839,1464L1840,1462.9L1841,1461.7L1842,1460.6L1843,1459.5L1844,1459.4L1845,1459.3L1846,1459.2L1847,1459L1848,1459.8L1849,1460.5L1850,1461.2L1851,1461.9L1852,1460.8L1853,1459.8L1854,1458.7L1855,1457.6L1856,1457.9L1857,1458.2L1858,1458.4L1859,1458.7L1860,1459.1L1861,1459.5L1862,1459.9L1863,1460.3L1864,1459.2L1865,1458L1866,1456.8L1867,1455.6L1868,1456.7L1869,1457.9L1870,1459L1871,1460.1L1872,1461.1L1873,1462.1L1874,1463L1875,1464L1876,1463.7L1877,1463.4L1878,1463L1879,1462.7L1880,1459L1881,1455.3L1882,1451.6L1883,1447.9L1884,1450.5L1885,1453.2L1886,1455.8L1887,1458.4L1888,1456.8L1889,1455.2L1890,1453.6L1891,1452L1892,1452.5L1893,1453L1894,1453.5L1895,1454L1896,1451.9L1897,1449.8L1898,1447.6L1899,1445.5L1900,1449.2L1901,1453.2L1902,1457.3L1903,1461.3L1904,1461.1L1905,1460.8L1906,1460.5L1907,1460.3L1908,1460.9L1909,1461.5L1910,1462.1L1911,1462.7L1912,1459.5L1913,1456.4L1914,1453.2L1915,1450L1916,1451.3L1917,1452.6L1918,1453.9L1919,1455.2L1920,1455.9L1921,1456.7L1922,1457.5L1923,1458.2L1924,1458.5L1925,1458.7L1926,1459L1927,1459.2L1928,1461.1L1929,1462.9L1930,1464.8L1931,1466.5L1932,1465.7L1933,1464.8L1934,1464L1935,1463.2L1936,1464.4L1937,1465.6L1938,1466.8L1939,1468L1940,1464.4L1941,1460.9L1942,1457.4L1943,1453.9L1944,1454.9L1945,1456L1946,1457L1947,1458.1L1948,1457.8L1949,1457.5L1950,1457.2L1951,1457L1952,1460.3L1953,1463.6L1954,1467L1955,1470.3L1956,1470.3L1957,1470.3L1958,1470.3L1959,1470.3L1960,1469.7L1961,1468.7L1962,1467.8L1963,1466.9L1964,1464.7L1965,1462.5L1966,1460.3L1967,1458.1L1968,1460.4L1969,1462.6L1970,1464.9L1971,1467.1L1972,1466.5L1973,1465.9L1974,1465.3L1975,1464.7L1976,1465.1L1977,1465.5L1978,1465.9L1979,1466.3L1980,1465L1981,1463.6L1982,1462.2L1983,1460.8L1984,1461.8L1985,1462.7L1986,1463.7L1987,1464.7L1988,1465.9L1989,1467.1L1990,1468.3L1991,1469.5L1992,1469.5L1993,1469.5L1994,1469.5L1995,1469.5L1996,1469.1L1997,1468.8L1998,1468.4L1999,1468L2000,1464.2L2001,1460.4L2002,1456.7L2003,1452.9L2004,1455.9L2005,1458.9L2006,1461.9L2007,1464.9L2008,1462.5L2009,1460.1L2010,1457.7L2011,1455.2L2012,1455.7L2013,1456.3L2014,1456.8L2015,1457.3L2016,1458.5L2017,1459.7L2018,1460.9L2019,1462.1L2020,1463.6L2021,1465L2022,1466.4L2023,1467.9L2024,1468.1L2025,1468.4L2026,1468.6L2027,1468.9L2028,1466.7L2029,1464.6L2030,1462.4L2031,1460.2L2032,1462.6L2033,1465L2034,1467.4L2035,1469.7L2036,1468L2037,1466.2L2038,1464.4L2039,1462.7L2040,1460.6L2041,1458.5L2042,1456.5L2043,1454.4L2044,1458.1L2045,1461.9L2046,1465.6L2047,1469.3L2048,1467.9L2049,1466.5L2050,1465.1" fill="none" stroke="#ff0000" stroke-width="6" stroke-linejoin="round" stroke-linecap="round"/>
<path d="M1219,1530.2L1220,1530.2L1221,1530.2L1222,1530.2L1223,1530.2L1224,1530.2L1225,1530.2L1226,1530.2L1227,1530.2L1228,1530.2L1229,1530.2L1230,1530.2L1231,1530.2L1232,1530.2L1233,1530.2L1234,1530.2L1235,1530.2L1236,1530.2L1237,1530.2L1238,1530.2L1239,1530.2L1240,1530.2L1241,1530.2L1242,1530.2L1243,1530.2L1244,1530.2L1245,1530.2L1246,1530.2L1247,1530.2L1248,1530.2L1249,1530.2L1250,1530.2L1251,1530.2L1252,1530.2L1253,1530.2L1254,1530.2L1255,1530.2L1256,1530.2L1257,1530.2L1258,1530.2L1259,1530.2L1260,1530.2L1261,1530.2L1262,1530.2L1263,1530.2L1264,1530.2L1265,1530.2L1266,1530.2L1267,1530.2L1268,1530.2L1269,1530.2L1270,1530.2L1271,1530.2L1272,1530.2L1273,1530.2L1274,1530.2L1275,1530.2L1276,1530.2L1277,1530.2L1278,1530.2L1279,1530.2L1280,1530.2L1281,1530.2L1282,1530.2L1283,1530.2L1284,1530.2L1285,1530.2L1286,1530.2L1287,1530.2L1288,1530.2L1289,1530.2L1290,1530.2L1291,1530.2L1292,1530.2L1293,1530.2L1294,1530.2L1295,1530.2L1296,1530.2L1297,1530.2L1298,1530.2L1299,1530.2L1300,1530.2L1301,1530.2L1302,1530.2L1303,1530.2L1304,1530.2L1305,1530.2L1306,1530.2L1307,1530.2L1308,1530.2L1309,1530.2L1310,1530.2L1311,1530.2L1312,1530.2L1313,1530.2L1314,1530.2L1315,1530.2L1316,1530.2L1317,1530.2L1318,1530.2L1319,1530.2L1320,1530.2L1321,1530.1L1322,1530.1L1323,1530.1L1324,1530.1L1325,1530.1L1326,1530.1L1327,1530.1L1328,1530.1L1329,1530.1L1330,1530.1L1331,1530.1L1332,1530.1L1333,1530L1334,1530L1335,1530L1336,1530L1337,1530L1338,1530L1339,1529.9L1340,1529.9L1341,1529.9L1342,1529.9L1343,1529.8L1344,1529.8L1345,1529.8L1346,1529.8L1347,1529.7L1348,1529.7L1349,1529.6L1350,1529.6L1351,1529.5L1352,1529.5L1353,1529.4L1354,1529.4L1355,1529.3L1356,1529.2L1357,1529.2L1358,1529.1L1359,1529L1360,1528.9L1361,1528.8L1362,1528.7L1363,1528.6L1364,1528.5L1365,1528.4L1366,1528.2L1367,1528.1L1368,1527.9L1369,1527.8L1370,1527.6L1371,1527.4L1372,1527.2L1373,1527L1374,1526.8L1375,1526.6L1376,1526.3L1377,1526.1L1378,1525.8L1379,1525.5L1380,1525.2L1381,1524.9L1382,1524.5L1383,1524.2L1384,1523.8L1385,1523.4L1386,1522.9L1387,1522.5L1388,1522L1389,1521.5L1390,1521L1391,1520.4L1392,1519.8L1393,1519.2L1394,1518.5L1395,1517.8L1396,1517.1L1397,1516.4L1398,1515.6L1399,1514.7L1400,1513.8L1401,1512.9L1402,1512L1403,1510.9L1404,1509.9L1405,1508.8L1406,1507.6L1407,1506.4L1408,1505.1L1409,1503.8L1410,1502.4L1411,1501L1412,1499.5L1413,1497.9L1414,1496.3L1415,1494.6L1416,1492.9L1417,1491L1418,1489.1L1419,1487.2L1420,1485.1L1421,1483L1422,1480.8L1423,1478.5L1424,1476.1L1425,1473.6L1426,1471.1L1427,1468.5L1428,1465.8L1429,1462.9L1430,1460L1431,1457.1L1432,1454L1433,1450.8L1434,1447.5L1435,1444.1L1436,1440.6L1437,1437.1L1438,1433.4L1439,1429.6L1440,1425.7L1441,1421.7L1442,1417.6L1443,1413.4L1444,1409.1L1445,1404.7L1446,1400.2L1447,1395.6L1448,1390.9L1449,1386.1L1450,1381.2L1451,1376.2L1452,1371L1453,1365.8L1454,1360.5L1455,1355.1L1456,1349.6L1457,1344L1458,1338.3L1459,1332.5L1460,1326.7L1461,1320.7L1462,1314.7L1463,1308.6L1464,1302.4L1465,1296.2L1466,1289.9L1467,1283.5L1468,1277.1L1469,1270.6L1470,1264.1L1471,1257.5L1472,1250.9L1473,1244.2L1474,1237.5L1475,1230.8L1476,1224L1477,1217.3L1478,1210.5L1479,1203.7L1480,1197L1481,1190.2L1482,1183.5L1483,1176.7L1484,1170L1485,1163.3L1486,1156.7L1487,1150.1L1488,1143.6L1489,1137.1L1490,1130.7L1491,1124.3L1492,1118.1L1493,1111.9L1494,1105.8L1495,1099.8L1496,1093.9L1497,1088.2L1498,1082.5L1499,1077L1500,1071.6L1501,1066.3L1502,1061.2L1503,1056.2L1504,1051.4L1505,1046.7L1506,1042.2L1507,1037.9L1508,1033.8L1509,1029.8L1510,1026L1511,1022.5L1512,1019.1L1513,1015.9L1514,1012.9L1515,1010.2L1516,1007.6L1517,1005.3L1518,1003.1L1519,1001.2L1520,999.6L1521,998.1L1522,996.9L1523,995.9L1524,995.1L1525,994.6L1526,994.3L1527,994.2L1528,994.4L1529,994.8L1530,995.4L1531,996.2L1532,997.3L1533,998.7L1534,1000.2L1535,1002L1536,1004L1537,1006.2L1538,1008.6L1539,1011.2L1540,1014.1L1541,1017.1L1542,1020.4L1543,1023.9L1544,1027.5L1545,1031.4L1546,1035.4L1547,1039.6L1548,1044L1549,1048.6L1550,1053.3L1551,1058.2L1552,1063.2L1553,1068.4L1554,1073.7L1555,1079.2L1556,1084.7L1557,1090.4L1558,1096.3L1559,1102.2L1560,1108.2L1561,1114.4L1562,1120.6L1563,1126.9L1564,1133.2L1565,1139.7L1566,1146.2L1567,1152.8L1568,1159.4L1569,1166L1570,1172.7L1571,1179.4L1572,1186.2L1573,1192.9L1574,1199.7L1575,1206.5L1576,1213.2L1577,1220L1578,1226.7L1579,1233.5L1580,1240.2L1581,1246.9L1582,1253.5L1583,1260.1L1584,1266.7L1585,1273.2L1586,1279.7L1587,1286.1L1588,1292.4L1589,1298.7L1590,1304.9L1591,1311.1L1592,1317.1L1593,1323.1L1594,1329L1595,1334.9L1596,1340.6L1597,1346.2L1598,1351.8L1599,1357.3L1600,1362.6L1601,1367.9L1602,1373.1L1603,1378.2L1604,1383.2L1605,1388L1606,1392.8L1607,1397.5L1608,1402L1609,1406.5L1610,1410.9L1611,1415.1L1612,1419.3L1613,1423.3L1614,1427.3L1615,1431.1L1616,1434.9L1617,1438.5L1618,1442L1619,1445.5L1620,1448.8L1621,1452.1L1622,1455.2L1623,1458.3L1624,1461.2L1625,1464.1L1626,1466.9L1627,1469.5L1628,1472.1L1629,1474.6L1630,1477.1L1631,1479.4L1632,1481.7L1633,1483.8L1634,1485.9L1635,1488L1636,1489.9L1637,1491.8L1638,1493.6L1639,1495.3L1640,1497L1641,1498.6L1642,1500.1L1643,1501.6L1644,1503L1645,1504.4L1646,1505.7L1647,1506.9L1648,1508.1L1649,1509.2L1650,1510.3L1651,1511.3L1652,1512.3L1653,1513.3L1654,1514.2L1655,1515.1L1656,1515.9L1657,1516.7L1658,1517.4L1659,1518.1L1660,1518.8L1661,1519.4L1662,1520.1L1663,1520.6L1664,1521.2L1665,1521.7L1666,1522.2L1667,1522.7L1668,1523.1L1669,1523.5L1670,1523.9L1671,1524.3L1672,1524.7L1673,1525L1674,1525.3L1675,1525.6L1676,1525.9L1677,1526.2L1678,1526.4L1679,1526.7L1680,1526.9L1681,1527.1L1682,1527.3L1683,1527.5L1684,1527.7L1685,1527.9L1686,1528L1687,1528.2L1688,1528.3L1689,1528.4L1690,1528.5L1691,1528.7L1692,1528.8L1693,1528.9L1694,1529L1695,1529L1696,1529.1L1697,1529.2L1698,1529.3L1699,1529.3L1700,1529.4L1701,1529.5L1702,1529.5L1703,1529.6L1704,1529.6L1705,1529.7L1706,1529.7L1707,1529.7L1708,1529.8L1709,1529.8L1710,1529.8L1711,1529.9L1712,1529.9L1713,1529.9L1714,1529.9L1715,1530L1716,1530L1717,1530L1718,1530L1719,1530L1720,1530L1721,1530.1L1722,1530.1L1723,1530.1L1724,1530.1L1725,1530.1L1726,1530.1L1727,1530.1L1728,1530.1L1729,1530.1L1730,1530.1L1731,1530.1L1732,1530.1L1733,1530.1L1734,1530.2L1735,1530.2L1736,1530.2L1737,1530.2L1738,1530.2L1739,1530.2L1740,1530.2L1741,1530.2L1742,1530.2L1743,1530.2L1744,1530.2L1745,1530.2L1746,1530.2L1747,1530.2L1748,1530.2L1749,1530.2L1750,1530.2L1751,1530.2L1752,1530.2L1753,1530.2L1754,1530.2L1755,1530.2L1756,1530.2L1757,1530.2L1758,1530.2L1759,1530.2L1760,1530.2L1761,1530.2L1762,1530.2L1763,1530.2L1764,1530.2L1765,1530.2L1766,1530.2L1767,1530.2L1768,1530.2L1769,1530.2L1770,1530.2L1771,1530.2L1772,1530.2L1773,1530.2L1774,1530.2L1775,1530.2L1776,1530.2L1777,1530.2L1778,1530.2L1779,1530.2L1780,1530.2L1781,1530.2L1782,1530.2L1783,1530.2L1784,1530.2L1785,1530.2L1786,1530.2L1787,1530.2L1788,1530.2L1789,1530.2L1790,1530.2L1791,1530.2L1792,1530.2L1793,1530.2L1794,1530.2L1795,1530.2L1796,1530.2L1797,1530.2L1798,1530.2L1799,1530.2L1800,1530.2L1801,1530.2L1802,1530.2L1803,1530.2L1804,1530.2L1805,1530.2L1806,1530.2L1807,1530.2L1808,1530.2L1809,1530.2L1810,1530.2L1811,1530.2L1812,1530.2L1813,1530.2L1814,1530.2L1815,1530.2L1816,1530.2L1817,1530.2L1818,1530.2L1819,1530.2L1820,1530.2L1821,1530.2L1822,1530.2L1823,1530.2L1824,1530.2L1825,1530.2L1826,1530.2L1827,1530.2L1828,1530.2L1829,1530.2L1830,1530.2L1831,1530.2L1832,1530.2L1833,1530.2L1834,1530.2L1835,1530.2L1836,1530.2L1837,1530.2L1838,1530.2L1839,1530.2L1840,1530.2L1841,1530.2L1842,1530.2L1843,1530.2L1844,1530.2L1845,1530.2L1846,1530.2L1847,1530.2L1848,1530.2L1849,1530.2L1850,1530.2L1851,1530.2L1852,1530.2L1853,1530.2L1854,1530.2L1855,1530.2L1856,1530.2L1857,1530.2L1858,1530.2L1859,1530.2L1860,1530.2L1861,1530.2L1862,1530.2L1863,1530.2L1864,1530.2L1865,1530.2L1866,1530.2L1867,1530.2L1868,1530.2L1869,1530.2L1870,1530.2L1871,1530.2L1872,1530.2L1873,1530.2L1874,1530.2L1875,1530.2L1876,1530.2L1877,1530.2L1878,1530.2L1879,1530.2L1880,1530.2L1881,1530.2L1882,1530.2L1883,1530.2L1884,1530.2L1885,1530.2L1886,1530.2L1887,1530.2L1888,1530.2L1889,1530.2L1890,1530.2L1891,1530.2L1892,1530.2L1893,1530.2L1894,1530.2L1895,1530.2L1896,1530.2L1897,1530.2L1898,1530.2L1899,1530.2L1900,1530.2L1901,1530.2L1902,1530.2L1903,1530.2L1904,1530.2L1905,1530.2L1906,1530.2L1907,1530.2L1908,1530.2L1909,1530.2L1910,1530.2L1911,1530.2L1912,1530.2L1913,1530.2L1914,1530.2L1915,1530.2L1916,1530.2L1917,1530.2L1918,1530.2L1919,1530.2L1920,1530.2L1921,1530.2L1922,1530.2L1923,1530.2L1924,1530.2L1925,1530.2L1926,1530.2L1927,1530.2L1928,1530.2L1929,1530.2L1930,1530.2L1931,1530.2L1932,1530.2L1933,1530.2L1934,1530.2L1935,1530.2L1936,1530.2L1937,1530.2L1938,1530.2L1939,1530.2L1940,1530.2L1941,1530.2L1942,1530.2L1943,1530.2L1944,1530.2L1945,1530.2L1946,1530.2L1947,1530.2L1948,1530.2L1949,1530.2L1950,1530.2L1951,1530.2L1952,1530.2L1953,1530.2L1954,1530.2L1955,1530.2L1956,1530.2L1957,1530.2L1958,1530.2L1959,1530.2L1960,1530.2L1961,1530.2L1962,1530.2L1963,1530.2L1964,1530.2L1965,1530.2L1966,1530.2L1967,1530.2L1968,1530.2L1969,1530.2L1970,1530.2L1971,1530.2L1972,1530.2L1973,1530.2L1974,1530.2L1975,1530.2L1976,1530.2L1977,1530.2L1978,1530.2L1979,1530.2L1980,1530.2L1981,1530.2L1982,1530.2L1983,1530.2L1984,1530.2L1985,1530.2L1986,1530.2L1987,1530.2L1988,1530.2L1989,1530.2L1990,1530.2L1991,1530.2L1992,1530.2L1993,1530.2L1994,1530.2L1995,1530.2L1996,1530.2L1997,1530.2L1998,1530.2L1999,1530.2L2000,1530.2L2001,1530.2L2002,1530.2L2003,1530.2L2004,1530.2L2005,1530.2L2006,1530.2L2007,1530.2L2008,1530.2L2009,1530.2L2010,1530.2L2011,1530.2L2012,1530.2L2013,1530.2L2014,1530.2L2015,1530.2L2016,1530.2L2017,1530.2L2018,1530.2L2019,1530.2L2020,1530.2L2021,1530.2L2022,1530.2L2023,1530.2L2024,1530.2L2025,1530.2L2026,1530.2L2027,1530.2L2028,1530.2L2029,1530.2L2030,1530.2L2031,1530.2L2032,1530.2L2033,1530.2L2034,1530.2L2035,1530.2L2036,1530.2L2037,1530.2L2038,1530.2L2039,1530.2L2040,1530.2L2041,1530.2L2042,1530.2L2043,1530.2L2044,1530.2L2045,1530.2L2046,1530.2L2047,1530.2L2048,1530.2L2049,1530.2L2050,1530.2" fill="none" stroke="#0000ff" stroke-width="6.5" stroke-linejoin="round" stroke-linecap="round"/>
<path d="M1219,1530.2L1220,1530.2L1221,1530.2L1222,1530.2L1223,1530.2L1224,1530.2L1225,1530.2L1226,1530.2L1227,1530.2L1228,1530.2L1229,1530.2L1230,1530.2L1231,1530.2L1232,1530.2L1233,1530.2L1234,1530.2L1235,1530.2L1236,1530.2L1237,1530.2L1238,1530.2L1239,1530.2L1240,1530.2L1241,1530.2L1242,1530.2L1243,1530.2L1244,1530.2L1245,1530.2L1246,1530.2L1247,1530.2L1248,1530.2L1249,1530.2L1250,1530.2L1251,1530.2L1252,1530.2L1253,1530.2L1254,1530.2L1255,1530.2L1256,1530.2L1257,1530.2L1258,1530.2L1259,1530.2L1260,1530.2L1261,1530.2L1262,1530.2L1263,1530.2L1264,1530.2L1265,1530.2L1266,1530.2L1267,1530.2L1268,1530.2L1269,1530.2L1270,1530.2L1271,1530.2L1272,1530.2L1273,1530.2L1274,1530.2L1275,1530.2L1276,1530.2L1277,1530.2L1278,1530.2L1279,1530.2L1280,1530.2L1281,1530.2L1282,1530.2L1283,1530.2L1284,1530.2L1285,1530.2L1286,1530.2L1287,1530.2L1288,1530.2L1289,1530.2L1290,1530.2L1291,1530.2L1292,1530.2L1293,1530.2L1294,1530.2L1295,1530.2L1296,1530.2L1297,1530.2L1298,1530.2L1299,1530.2L1300,1530.2L1301,1530.2L1302,1530.2L1303,1530.2L1304,1530.2L1305,1530.2L1306,1530.2L1307,1530.2L1308,1530.2L1309,1530.2L1310,1530.2L1311,1530.2L1312,1530.2L1313,1530.2L1314,1530.2L1315,1530.2L1316,1530.2L1317,1530.2L1318,1530.2L1319,1530.2L1320,1530.2L1321,1530.2L1322,1530.2L1323,1530.2L1324,1530.2L1325,1530.2L1326,1530.2L1327,1530.2L1328,1530.2L1329,1530.2L1330,1530.2L1331,1530.2L1332,1530.2L1333,1530.2L1334,1530.2L1335,1530.2L1336,1530.2L1337,1530.2L1338,1530.2L1339,1530.2L1340,1530.2L1341,1530.2L1342,1530.2L1343,1530.2L1344,1530.2L1345,1530.2L1346,1530.2L1347,1530.2L1348,1530.2L1349,1530.2L1350,1530.2L1351,1530.2L1352,1530.2L1353,1530.2L1354,1530.2L1355,1530.2L1356,1530.2L1357,1530.2L1358,1530.2L1359,1530.2L1360,1530.2L1361,1530.2L1362,1530.2L1363,1530.2L1364,1530.2L1365,1530.2L1366,1530.2L1367,1530.2L1368,1530.2L1369,1530.2L1370,1530.2L1371,1530.2L1372,1530.2L1373,1530.2L1374,1530.2L1375,1530.2L1376,1530.2L1377,1530.2L1378,1530.2L1379,1530.2L1380,1530.2L1381,1530.2L1382,1530.2L1383,1530.2L1384,1530.2L1385,1530.2L1386,1530.2L1387,1530.2L1388,1530.2L1389,1530.2L1390,1530.2L1391,1530.2L1392,1530.2L1393,1530.2L1394,1530.2L1395,1530.2L1396,1530.2L1397,1530.2L1398,1530.2L1399,1530.2L1400,1530.2L1401,1530.2L1402,1530.2L1403,1530.2L1404,1530.2L1405,1530.2L1406,1530.2L1407,1530.2L1408,1530.2L1409,1530.2L1410,1530.2L1411,1530.2L1412,1530.2L1413,1530.2L1414,1530.2L1415,1530.2L1416,1530.2L1417,1530.1L1418,1530.1L1419,1530.1L1420,1530.1L1421,1530.1L1422,1530.1L1423,1530.1L1424,1530.1L1425,1530.1L1426,1530.1L1427,1530.1L1428,1530.1L1429,1530.1L1430,1530.1L1431,1530L1432,1530L1433,1530L1434,1530L1435,1530L1436,1530L1437,1530L1438,1529.9L1439,1529.9L1440,1529.9L1441,1529.9L1442,1529.8L1443,1529.8L1444,1529.8L1445,1529.8L1446,1529.7L1447,1529.7L1448,1529.7L1449,1529.6L1450,1529.6L1451,1529.5L1452,1529.5L1453,1529.4L1454,1529.4L1455,1529.3L1456,1529.3L1457,1529.2L1458,1529.1L1459,1529.1L1460,1529L1461,1528.9L1462,1528.8L1463,1528.7L1464,1528.6L1465,1528.6L1466,1528.4L1467,1528.3L1468,1528.2L1469,1528.1L1470,1528L1471,1527.8L1472,1527.7L1473,1527.5L1474,1527.4L1475,1527.2L1476,1527L1477,1526.9L1478,1526.7L1479,1526.5L1480,1526.2L1481,1526L1482,1525.8L1483,1525.6L1484,1525.3L1485,1525L1486,1524.7L1487,1524.5L1488,1524.2L1489,1523.8L1490,1523.5L1491,1523.2L1492,1522.8L1493,1522.4L1494,1522L1495,1521.6L1496,1521.2L1497,1520.8L1498,1520.3L1499,1519.8L1500,1519.3L1501,1518.8L1502,1518.3L1503,1517.7L1504,1517.2L1505,1516.6L1506,1515.9L1507,1515.3L1508,1514.7L1509,1514L1510,1513.3L1511,1512.6L1512,1511.8L1513,1511.1L1514,1510.3L1515,1509.4L1516,1508.6L1517,1507.7L1518,1506.9L1519,1506L1520,1505L1521,1504.1L1522,1503.1L1523,1502.1L1524,1501L1525,1500L1526,1498.9L1527,1497.8L1528,1496.6L1529,1495.5L1530,1494.3L1531,1493.1L1532,1491.9L1533,1490.6L1534,1489.3L1535,1488L1536,1486.7L1537,1485.4L1538,1484L1539,1482.6L1540,1481.2L1541,1479.8L1542,1478.3L1543,1476.8L1544,1475.4L1545,1473.9L1546,1472.3L1547,1470.8L1548,1469.3L1549,1467.7L1550,1466.1L1551,1464.6L1552,1463L1553,1461.4L1554,1459.8L1555,1458.1L1556,1456.5L1557,1454.9L1558,1453.3L1559,1451.7L1560,1450L1561,1448.4L1562,1446.8L1563,1445.2L1564,1443.6L1565,1442L1566,1440.4L1567,1438.8L1568,1437.2L1569,1435.7L1570,1434.1L1571,1432.6L1572,1431.1L1573,1429.6L1574,1428.2L1575,1426.7L1576,1425.3L1577,1423.9L1578,1422.6L1579,1421.2L1580,1419.9L1581,1418.7L1582,1417.5L1583,1416.3L1584,1415.1L1585,1414L1586,1412.9L1587,1411.9L1588,1410.9L1589,1410L1590,1409.1L1591,1408.2L1592,1407.4L1593,1406.6L1594,1405.9L1595,1405.3L1596,1404.7L1597,1404.1L1598,1403.6L1599,1403.1L1600,1402.7L1601,1402.4L1602,1402.1L1603,1401.9L1604,1401.7L1605,1401.6L1606,1401.5L1607,1401.5L1608,1401.5L1609,1401.6L1610,1401.8L1611,1402L1612,1402.3L1613,1402.6L1614,1403L1615,1403.4L1616,1403.9L1617,1404.4L1618,1405L1619,1405.7L1620,1406.3L1621,1407.1L1622,1407.9L1623,1408.7L1624,1409.6L1625,1410.5L1626,1411.5L1627,1412.5L1628,1413.6L1629,1414.7L1630,1415.8L1631,1417L1632,1418.2L1633,1419.4L1634,1420.7L1635,1422L1636,1423.4L1637,1424.7L1638,1426.1L1639,1427.6L1640,1429L1641,1430.5L1642,1432L1643,1433.5L1644,1435L1645,1436.6L1646,1438.2L1647,1439.7L1648,1441.3L1649,1442.9L1650,1444.5L1651,1446.1L1652,1447.8L1653,1449.4L1654,1451L1655,1452.6L1656,1454.3L1657,1455.9L1658,1457.5L1659,1459.1L1660,1460.7L1661,1462.3L1662,1463.9L1663,1465.5L1664,1467.1L1665,1468.6L1666,1470.2L1667,1471.7L1668,1473.3L1669,1474.8L1670,1476.3L1671,1477.7L1672,1479.2L1673,1480.6L1674,1482L1675,1483.4L1676,1484.8L1677,1486.2L1678,1487.5L1679,1488.8L1680,1490.1L1681,1491.4L1682,1492.6L1683,1493.8L1684,1495L1685,1496.2L1686,1497.3L1687,1498.4L1688,1499.5L1689,1500.6L1690,1501.7L1691,1502.7L1692,1503.7L1693,1504.6L1694,1505.6L1695,1506.5L1696,1507.4L1697,1508.3L1698,1509.1L1699,1509.9L1700,1510.7L1701,1511.5L1702,1512.3L1703,1513L1704,1513.7L1705,1514.4L1706,1515.1L1707,1515.7L1708,1516.3L1709,1516.9L1710,1517.5L1711,1518.1L1712,1518.6L1713,1519.1L1714,1519.6L1715,1520.1L1716,1520.6L1717,1521L1718,1521.4L1719,1521.9L1720,1522.3L1721,1522.6L1722,1523L1723,1523.4L1724,1523.7L1725,1524L1726,1524.3L1727,1524.6L1728,1524.9L1729,1525.2L1730,1525.4L1731,1525.7L1732,1525.9L1733,1526.2L1734,1526.4L1735,1526.6L1736,1526.8L1737,1527L1738,1527.1L1739,1527.3L1740,1527.5L1741,1527.6L1742,1527.8L1743,1527.9L1744,1528L1745,1528.2L1746,1528.3L1747,1528.4L1748,1528.5L1749,1528.6L1750,1528.7L1751,1528.8L1752,1528.9L1753,1529L1754,1529L1755,1529.1L1756,1529.2L1757,1529.2L1758,1529.3L1759,1529.4L1760,1529.4L1761,1529.5L1762,1529.5L1763,1529.6L1764,1529.6L1765,1529.6L1766,1529.7L1767,1529.7L1768,1529.7L1769,1529.8L1770,1529.8L1771,1529.8L1772,1529.9L1773,1529.9L1774,1529.9L1775,1529.9L1776,1529.9L1777,1530L1778,1530L1779,1530L1780,1530L1781,1530L1782,1530L1783,1530L1784,1530.1L1785,1530.1L1786,1530.1L1787,1530.1L1788,1530.1L1789,1530.1L1790,1530.1L1791,1530.1L1792,1530.1L1793,1530.1L1794,1530.1L1795,1530.1L1796,1530.1L1797,1530.2L1798,1530.2L1799,1530.2L1800,1530.2L1801,1530.2L1802,1530.2L1803,1530.2L1804,1530.2L1805,1530.2L1806,1530.2L1807,1530.2L1808,1530.2L1809,1530.2L1810,1530.2L1811,1530.2L1812,1530.2L1813,1530.2L1814,1530.2L1815,1530.2L1816,1530.2L1817,1530.2L1818,1530.2L1819,1530.2L1820,1530.2L1821,1530.2L1822,1530.2L1823,1530.2L1824,1530.2L1825,1530.2L1826,1530.2L1827,1530.2L1828,1530.2L1829,1530.2L1830,1530.2L1831,1530.2L1832,1530.2L1833,1530.2L1834,1530.2L1835,1530.2L1836,1530.2L1837,1530.2L1838,1530.2L1839,1530.2L1840,1530.2L1841,1530.2L1842,1530.2L1843,1530.2L1844,1530.2L1845,1530.2L1846,1530.2L1847,1530.2L1848,1530.2L1849,1530.2L1850,1530.2L1851,1530.2L1852,1530.2L1853,1530.2L1854,1530.2L1855,1530.2L1856,1530.2L1857,1530.2L1858,1530.2L1859,1530.2L1860,1530.2L1861,1530.2L1862,1530.2L1863,1530.2L1864,1530.2L1865,1530.2L1866,1530.2L1867,1530.2L1868,1530.2L1869,1530.2L1870,1530.2L1871,1530.2L1872,1530.2L1873,1530.2L1874,1530.2L1875,1530.2L1876,1530.2L1877,1530.2L1878,1530.2L1879,1530.2L1880,1530.2L1881,1530.2L1882,1530.2L1883,1530.2L1884,1530.2L1885,1530.2L1886,1530.2L1887,1530.2L1888,1530.2L1889,1530.2L1890,1530.2L1891,1530.2L1892,1530.2L1893,1530.2L1894,1530.2L1895,1530.2L1896,1530.2L1897,1530.2L1898,1530.2L1899,1530.2L1900,1530.2L1901,1530.2L1902,1530.2L1903,1530.2L1904,1530.2L1905,1530.2L1906,1530.2L1907,1530.2L1908,1530.2L1909,1530.2L1910,1530.2L1911,1530.2L1912,1530.2L1913,1530.2L1914,1530.2L1915,1530.2L1916,1530.2L1917,1530.2L1918,1530.2L1919,1530.2L1920,1530.2L1921,1530.2L1922,1530.2L1923,1530.2L1924,1530.2L1925,1530.2L1926,1530.2L1927,1530.2L1928,1530.2L1929,1530.2L1930,1530.2L1931,1530.2L1932,1530.2L1933,1530.2L1934,1530.2L1935,1530.2L1936,1530.2L1937,1530.2L1938,1530.2L1939,1530.2L1940,1530.2L1941,1530.2L1942,1530.2L1943,1530.2L1944,1530.2L1945,1530.2L1946,1530.2L1947,1530.2L1948,1530.2L1949,1530.2L1950,1530.2L1951,1530.2L1952,1530.2L1953,1530.2L1954,1530.2L1955,1530.2L1956,1530.2L1957,1530.2L1958,1530.2L1959,1530.2L1960,1530.2L1961,1530.2L1962,1530.2L1963,1530.2L1964,1530.2L1965,1530.2L1966,1530.2L1967,1530.2L1968,1530.2L1969,1530.2L1970,1530.2L1971,1530.2L1972,1530.2L1973,1530.2L1974,1530.2L1975,1530.2L1976,1530.2L1977,1530.2L1978,1530.2L1979,1530.2L1980,1530.2L1981,1530.2L1982,1530.2L1983,1530.2L1984,1530.2L1985,1530.2L1986,1530.2L1987,1530.2L1988,1530.2L1989,1530.2L1990,1530.2L1991,1530.2L1992,1530.2L1993,1530.2L1994,1530.2L1995,1530.2L1996,1530.2L1997,1530.2L1998,1530.2L1999,1530.2L2000,1530.2L2001,1530.2L2002,1530.2L2003,1530.2L2004,1530.2L2005,1530.2L2006,1530.2L2007,1530.2L2008,1530.2L2009,1530.2L2010,1530.2L2011,1530.2L2012,1530.2L2013,1530.2L2014,1530.2L2015,1530.2L2016,1530.2L2017,1530.2L2018,1530.2L2019,1530.2L2020,1530.2L2021,1530.2L2022,1530.2L2023,1530.2L2024,1530.2L2025,1530.2L2026,1530.2L2027,1530.2L2028,1530.2L2029,1530.2L2030,1530.2L2031,1530.2L2032,1530.2L2033,1530.2L2034,1530.2L2035,1530.2L2036,1530.2L2037,1530.2L2038,1530.2L2039,1530.2L2040,1530.2L2041,1530.2L2042,1530.2L2043,1530.2L2044,1530.2L2045,1530.2L2046,1530.2L2047,1530.2L2048,1530.2L2049,1530.2L2050,1530.2" fill="none" stroke="#00ee00" stroke-width="6.5" stroke-linejoin="round" stroke-linecap="round"/>
<path d="M1219,1530.2L1220,1530.2L1221,1530.2L1222,1530.2L1223,1530.2L1224,1530.2L1225,1530.2L1226,1530.2L1227,1530.2L1228,1530.2L1229,1530.2L1230,1530.2L1231,1530.2L1232,1530.2L1233,1530.2L1234,1530.2L1235,1530.2L1236,1530.2L1237,1530.2L1238,1530.2L1239,1530.2L1240,1530.2L1241,1530.2L1242,1530.2L1243,1530.2L1244,1530.2L1245,1530.1L1246,1530.1L1247,1530.1L1248,1530.1L1249,1530.1L1250,1530.1L1251,1530.1L1252,1530.1L1253,1530.1L1254,1530.1L1255,1530.1L1256,1530.1L1257,1530.1L1258,1530.1L1259,1530.1L1260,1530.1L1261,1530.1L1262,1530.1L1263,1530.1L1264,1530.1L1265,1530.1L1266,1530.1L1267,1530.1L1268,1530.1L1269,1530.1L1270,1530.1L1271,1530.1L1272,1530.1L1273,1530.1L1274,1530.1L1275,1530.1L1276,1530.1L1277,1530.1L1278,1530.1L1279,1530.1L1280,1530.1L1281,1530.1L1282,1530.1L1283,1530.1L1284,1530.1L1285,1530.1L1286,1530.1L1287,1530.1L1288,1530.1L1289,1530.1L1290,1530.1L1291,1530.1L1292,1530.1L1293,1530.1L1294,1530.1L1295,1530.1L1296,1530.1L1297,1530.1L1298,1530.1L1299,1530.1L1300,1530L1301,1530L1302,1530L1303,1530L1304,1530L1305,1530L1306,1530L1307,1530L1308,1530L1309,1530L1310,1530L1311,1530L1312,1530L1313,1530L1314,1530L1315,1530L1316,1530L1317,1530L1318,1530L1319,1530L1320,1530L1321,1530L1322,1530L1323,1530L1324,1530L1325,1530L1326,1530L1327,1530L1328,1529.9L1329,1529.9L1330,1529.9L1331,1529.9L1332,1529.9L1333,1529.9L1334,1529.9L1335,1529.9L1336,1529.9L1337,1529.9L1338,1529.9L1339,1529.9L1340,1529.9L1341,1529.9L1342,1529.9L1343,1529.9L1344,1529.9L1345,1529.9L1346,1529.9L1347,1529.8L1348,1529.8L1349,1529.8L1350,1529.8L1351,1529.8L1352,1529.8L1353,1529.8L1354,1529.8L1355,1529.8L1356,1529.8L1357,1529.8L1358,1529.8L1359,1529.8L1360,1529.8L1361,1529.7L1362,1529.7L1363,1529.7L1364,1529.7L1365,1529.7L1366,1529.7L1367,1529.7L1368,1529.7L1369,1529.7L1370,1529.7L1371,1529.7L1372,1529.7L1373,1529.6L1374,1529.6L1375,1529.6L1376,1529.6L1377,1529.6L1378,1529.6L1379,1529.6L1380,1529.6L1381,1529.6L1382,1529.6L1383,1529.5L1384,1529.5L1385,1529.5L1386,1529.5L1387,1529.5L1388,1529.5L1389,1529.5L1390,1529.5L1391,1529.5L1392,1529.4L1393,1529.4L1394,1529.4L1395,1529.4L1396,1529.4L1397,1529.4L1398,1529.4L1399,1529.3L1400,1529.3L1401,1529.3L1402,1529.3L1403,1529.3L1404,1529.3L1405,1529.3L1406,1529.2L1407,1529.2L1408,1529.2L1409,1529.2L1410,1529.2L1411,1529.2L1412,1529.2L1413,1529.1L1414,1529.1L1415,1529.1L1416,1529.1L1417,1529.1L1418,1529L1419,1529L1420,1529L1421,1529L1422,1529L1423,1529L1424,1528.9L1425,1528.9L1426,1528.9L1427,1528.9L1428,1528.9L1429,1528.8L1430,1528.8L1431,1528.8L1432,1528.8L1433,1528.7L1434,1528.7L1435,1528.7L1436,1528.7L1437,1528.7L1438,1528.6L1439,1528.6L1440,1528.6L1441,1528.6L1442,1528.5L1443,1528.5L1444,1528.5L1445,1528.5L1446,1528.4L1447,1528.4L1448,1528.4L1449,1528.4L1450,1528.3L1451,1528.3L1452,1528.3L1453,1528.2L1454,1528.2L1455,1528.2L1456,1528.2L1457,1528.1L1458,1528.1L1459,1528.1L1460,1528L1461,1528L1462,1528L1463,1527.9L1464,1527.9L1465,1527.9L1466,1527.9L1467,1527.8L1468,1527.8L1469,1527.7L1470,1527.7L1471,1527.7L1472,1527.6L1473,1527.6L1474,1527.6L1475,1527.5L1476,1527.5L1477,1527.5L1478,1527.4L1479,1527.4L1480,1527.3L1481,1527.3L1482,1527.3L1483,1527.2L1484,1527.2L1485,1527.1L1486,1527.1L1487,1527.1L1488,1527L1489,1527L1490,1526.9L1491,1526.9L1492,1526.8L1493,1526.8L1494,1526.7L1495,1526.7L1496,1526.7L1497,1526.6L1498,1526.6L1499,1526.5L1500,1526.5L1501,1526.4L1502,1526.4L1503,1526.3L1504,1526.3L1505,1526.2L1506,1526.2L1507,1526.1L1508,1526.1L1509,1526L1510,1525.9L1511,1525.9L1512,1525.8L1513,1525.8L1514,1525.7L1515,1525.7L1516,1525.6L1517,1525.5L1518,1525.5L1519,1525.4L1520,1525.4L1521,1525.3L1522,1525.2L1523,1525.2L1524,1525.1L1525,1525.1L1526,1525L1527,1524.9L1528,1524.9L1529,1524.8L1530,1524.7L1531,1524.7L1532,1524.6L1533,1524.5L1534,1524.5L1535,1524.4L1536,1524.3L1537,1524.2L1538,1524.2L1539,1524.1L1540,1524L1541,1523.9L1542,1523.9L1543,1523.8L1544,1523.7L1545,1523.6L1546,1523.6L1547,1523.5L1548,1523.4L1549,1523.3L1550,1523.2L1551,1523.2L1552,1523.1L1553,1523L1554,1522.9L1555,1522.8L1556,1522.7L1557,1522.7L1558,1522.6L1559,1522.5L1560,1522.4L1561,1522.3L1562,1522.2L1563,1522.1L1564,1522L1565,1521.9L1566,1521.8L1567,1521.8L1568,1521.7L1569,1521.6L1570,1521.5L1571,1521.4L1572,1521.3L1573,1521.2L1574,1521.1L1575,1521L1576,1520.9L1577,1520.8L1578,1520.7L1579,1520.6L1580,1520.5L1581,1520.4L1582,1520.2L1583,1520.1L1584,1520L1585,1519.9L1586,1519.8L1587,1519.7L1588,1519.6L1589,1519.5L1590,1519.4L1591,1519.2L1592,1519.1L1593,1519L1594,1518.9L1595,1518.8L1596,1518.7L1597,1518.5L1598,1518.4L1599,1518.3L1600,1518.2L1601,1518.1L1602,1517.9L1603,1517.8L1604,1517.7L1605,1517.5L1606,1517.4L1607,1517.3L1608,1517.2L1609,1517L1610,1516.9L1611,1516.8L1612,1516.6L1613,1516.5L1614,1516.4L1615,1516.2L1616,1516.1L1617,1516L1618,1515.8L1619,1515.7L1620,1515.5L1621,1515.4L1622,1515.2L1623,1515.1L1624,1515L1625,1514.8L1626,1514.7L1627,1514.5L1628,1514.4L1629,1514.2L1630,1514.1L1631,1513.9L1632,1513.8L1633,1513.6L1634,1513.5L1635,1513.3L1636,1513.1L1637,1513L1638,1512.8L1639,1512.7L1640,1512.5L1641,1512.4L1642,1512.2L1643,1512L1644,1511.9L1645,1511.7L1646,1511.5L1647,1511.4L1648,1511.2L1649,1511L1650,1510.9L1651,1510.7L1652,1510.5L1653,1510.4L1654,1510.2L1655,1510L1656,1509.8L1657,1509.7L1658,1509.5L1659,1509.3L1660,1509.1L1661,1508.9L1662,1508.8L1663,1508.6L1664,1508.4L1665,1508.2L1666,1508L1667,1507.9L1668,1507.7L1669,1507.5L1670,1507.3L1671,1507.1L1672,1506.9L1673,1506.7L1674,1506.5L1675,1506.3L1676,1506.2L1677,1506L1678,1505.8L1679,1505.6L1680,1505.4L1681,1505.2L1682,1505L1683,1504.8L1684,1504.6L1685,1504.4L1686,1504.2L1687,1504L1688,1503.8L1689,1503.6L1690,1503.4L1691,1503.2L1692,1503L1693,1502.8L1694,1502.6L1695,1502.4L1696,1502.1L1697,1501.9L1698,1501.7L1699,1501.5L1700,1501.3L1701,1501.1L1702,1500.9L1703,1500.7L1704,1500.5L1705,1500.2L1706,1500L1707,1499.8L1708,1499.6L1709,1499.4L1710,1499.2L1711,1498.9L1712,1498.7L1713,1498.5L1714,1498.3L1715,1498.1L1716,1497.8L1717,1497.6L1718,1497.4L1719,1497.2L1720,1497L1721,1496.7L1722,1496.5L1723,1496.3L1724,1496.1L1725,1495.8L1726,1495.6L1727,1495.4L1728,1495.2L1729,1494.9L1730,1494.7L1731,1494.5L1732,1494.2L1733,1494L1734,1493.8L1735,1493.6L1736,1493.3L1737,1493.1L1738,1492.9L1739,1492.6L1740,1492.4L1741,1492.2L1742,1491.9L1743,1491.7L1744,1491.5L1745,1491.2L1746,1491L1747,1490.8L1748,1490.5L1749,1490.3L1750,1490.1L1751,1489.8L1752,1489.6L1753,1489.4L1754,1489.1L1755,1488.9L1756,1488.7L1757,1488.4L1758,1488.2L1759,1487.9L1760,1487.7L1761,1487.5L1762,1487.2L1763,1487L1764,1486.8L1765,1486.5L1766,1486.3L1767,1486.1L1768,1485.8L1769,1485.6L1770,1485.3L1771,1485.1L1772,1484.9L1773,1484.6L1774,1484.4L1775,1484.2L1776,1483.9L1777,1483.7L1778,1483.5L1779,1483.2L1780,1483L1781,1482.8L1782,1482.5L1783,1482.3L1784,1482.1L1785,1481.8L1786,1481.6L1787,1481.4L1788,1481.1L1789,1480.9L1790,1480.7L1791,1480.4L1792,1480.2L1793,1480L1794,1479.7L1795,1479.5L1796,1479.3L1797,1479.1L1798,1478.8L1799,1478.6L1800,1478.4L1801,1478.1L1802,1477.9L1803,1477.7L1804,1477.5L1805,1477.2L1806,1477L1807,1476.8L1808,1476.6L1809,1476.3L1810,1476.1L1811,1475.9L1812,1475.7L1813,1475.5L1814,1475.2L1815,1475L1816,1474.8L1817,1474.6L1818,1474.4L1819,1474.2L1820,1474L1821,1473.7L1822,1473.5L1823,1473.3L1824,1473.1L1825,1472.9L1826,1472.7L1827,1472.5L1828,1472.3L1829,1472.1L1830,1471.9L1831,1471.7L1832,1471.5L1833,1471.3L1834,1471L1835,1470.8L1836,1470.7L1837,1470.5L1838,1470.3L1839,1470.1L1840,1469.9L1841,1469.7L1842,1469.5L1843,1469.3L1844,1469.1L1845,1468.9L1846,1468.7L1847,1468.5L1848,1468.4L1849,1468.2L1850,1468L1851,1467.8L1852,1467.6L1853,1467.4L1854,1467.3L1855,1467.1L1856,1466.9L1857,1466.7L1858,1466.6L1859,1466.4L1860,1466.2L1861,1466.1L1862,1465.9L1863,1465.7L1864,1465.6L1865,1465.4L1866,1465.3L1867,1465.1L1868,1464.9L1869,1464.8L1870,1464.6L1871,1464.5L1872,1464.3L1873,1464.2L1874,1464L1875,1463.9L1876,1463.7L1877,1463.6L1878,1463.5L1879,1463.3L1880,1463.2L1881,1463L1882,1462.9L1883,1462.8L1884,1462.6L1885,1462.5L1886,1462.4L1887,1462.3L1888,1462.1L1889,1462L1890,1461.9L1891,1461.8L1892,1461.7L1893,1461.5L1894,1461.4L1895,1461.3L1896,1461.2L1897,1461.1L1898,1461L1899,1460.9L1900,1460.8L1901,1460.7L1902,1460.6L1903,1460.5L1904,1460.4L1905,1460.3L1906,1460.2L1907,1460.1L1908,1460L1909,1459.9L1910,1459.9L1911,1459.8L1912,1459.7L1913,1459.6L1914,1459.6L1915,1459.5L1916,1459.4L1917,1459.3L1918,1459.3L1919,1459.2L1920,1459.1L1921,1459.1L1922,1459L1923,1459L1924,1458.9L1925,1458.9L1926,1458.8L1927,1458.8L1928,1458.7L1929,1458.7L1930,1458.6L1931,1458.6L1932,1458.5L1933,1458.5L1934,1458.5L1935,1458.4L1936,1458.4L1937,1458.4L1938,1458.4L1939,1458.3L1940,1458.3L1941,1458.3L1942,1458.3L1943,1458.3L1944,1458.2L1945,1458.2L1946,1458.2L1947,1458.2L1948,1458.2L1949,1458.2L1950,1458.2L1951,1458.2L1952,1458.2L1953,1458.2L1954,1458.2L1955,1458.2L1956,1458.2L1957,1458.3L1958,1458.3L1959,1458.3L1960,1458.3L1961,1458.3L1962,1458.4L1963,1458.4L1964,1458.4L1965,1458.4L1966,1458.5L1967,1458.5L1968,1458.5L1969,1458.6L1970,1458.6L1971,1458.7L1972,1458.7L1973,1458.8L1974,1458.8L1975,1458.9L1976,1458.9L1977,1459L1978,1459L1979,1459.1L1980,1459.1L1981,1459.2L1982,1459.3L1983,1459.3L1984,1459.4L1985,1459.5L1986,1459.6L1987,1459.6L1988,1459.7L1989,1459.8L1990,1459.9L1991,1459.9L1992,1460L1993,1460.1L1994,1460.2L1995,1460.3L1996,1460.4L1997,1460.5L1998,1460.6L1999,1460.7L2000,1460.8L2001,1460.9L2002,1461L2003,1461.1L2004,1461.2L2005,1461.3L2006,1461.4L2007,1461.5L2008,1461.7L2009,1461.8L2010,1461.9L2011,1462L2012,1462.1L2013,1462.3L2014,1462.4L2015,1462.5L2016,1462.6L2017,1462.8L2018,1462.9L2019,1463L2020,1463.2L2021,1463.3L2022,1463.5L2023,1463.6L2024,1463.7L2025,1463.9L2026,1464L2027,1464.2L2028,1464.3L2029,1464.5L2030,1464.6L2031,1464.8L2032,1464.9L2033,1465.1L2034,1465.3L2035,1465.4L2036,1465.6L2037,1465.7L2038,1465.9L2039,1466.1L2040,1466.2L2041,1466.4L2042,1466.6L2043,1466.7L2044,1466.9L2045,1467.1L2046,1467.3L2047,1467.4L2048,1467.6L2049,1467.8L2050,1468" fill="none" stroke="#8b0000" stroke-width="6.5" stroke-linejoin="round" stroke-linecap="round"/>
<path d="M1219,1530.2L1220,1530.2L1221,1530.2L1222,1530.2L1223,1530.2L1224,1530.2L1225,1530.2L1226,1530.2L1227,1530.2L1228,1530.2L1229,1530.2L1230,1530.2L1231,1530.2L1232,1530.2L1233,1530.2L1234,1530.2L1235,1530.2L1236,1530.2L1237,1530.2L1238,1530.2L1239,1530.2L1240,1530.2L1241,1530.2L1242,1530.2L1243,1530.2L1244,1530.2L1245,1530.1L1246,1530.1L1247,1530.1L1248,1530.1L1249,1530.1L1250,1530.1L1251,1530.1L1252,1530.1L1253,1530.1L1254,1530.1L1255,1530.1L1256,1530.1L1257,1530.1L1258,1530.1L1259,1530.1L1260,1530.1L1261,1530.1L1262,1530.1L1263,1530.1L1264,1530.1L1265,1530.1L1266,1530.1L1267,1530.1L1268,1530.1L1269,1530.1L1270,1530.1L1271,1530.1L1272,1530.1L1273,1530.1L1274,1530.1L1275,1530.1L1276,1530.1L1277,1530.1L1278,1530.1L1279,1530.1L1280,1530.1L1281,1530.1L1282,1530.1L1283,1530.1L1284,1530.1L1285,1530.1L1286,1530.1L1287,1530.1L1288,1530.1L1289,1530.1L1290,1530.1L1291,1530.1L1292,1530.1L1293,1530.1L1294,1530.1L1295,1530.1L1296,1530.1L1297,1530.1L1298,1530L1299,1530L1300,1530L1301,1530L1302,1530L1303,1530L1304,1530L1305,1530L1306,1530L1307,1530L1308,1530L1309,1530L1310,1530L1311,1530L1312,1530L1313,1530L1314,1530L1315,1530L1316,1530L1317,1530L1318,1529.9L1319,1529.9L1320,1529.9L1321,1529.9L1322,1529.9L1323,1529.9L1324,1529.9L1325,1529.9L1326,1529.9L1327,1529.9L1328,1529.8L1329,1529.8L1330,1529.8L1331,1529.8L1332,1529.8L1333,1529.8L1334,1529.8L1335,1529.7L1336,1529.7L1337,1529.7L1338,1529.7L1339,1529.6L1340,1529.6L1341,1529.6L1342,1529.6L1343,1529.5L1344,1529.5L1345,1529.4L1346,1529.4L1347,1529.4L1348,1529.3L1349,1529.3L1350,1529.2L1351,1529.2L1352,1529.1L1353,1529L1354,1529L1355,1528.9L1356,1528.8L1357,1528.7L1358,1528.7L1359,1528.6L1360,1528.5L1361,1528.4L1362,1528.3L1363,1528.1L1364,1528L1365,1527.9L1366,1527.7L1367,1527.6L1368,1527.4L1369,1527.3L1370,1527.1L1371,1526.9L1372,1526.7L1373,1526.5L1374,1526.3L1375,1526L1376,1525.8L1377,1525.5L1378,1525.2L1379,1524.9L1380,1524.6L1381,1524.2L1382,1523.9L1383,1523.5L1384,1523.1L1385,1522.7L1386,1522.2L1387,1521.8L1388,1521.3L1389,1520.8L1390,1520.2L1391,1519.6L1392,1519L1393,1518.4L1394,1517.7L1395,1517L1396,1516.3L1397,1515.5L1398,1514.7L1399,1513.9L1400,1513L1401,1512L1402,1511L1403,1510L1404,1508.9L1405,1507.8L1406,1506.6L1407,1505.4L1408,1504.1L1409,1502.8L1410,1501.4L1411,1499.9L1412,1498.4L1413,1496.8L1414,1495.2L1415,1493.5L1416,1491.7L1417,1489.8L1418,1487.9L1419,1485.9L1420,1483.8L1421,1481.7L1422,1479.5L1423,1477.1L1424,1474.7L1425,1472.3L1426,1469.7L1427,1467L1428,1464.3L1429,1461.4L1430,1458.5L1431,1455.5L1432,1452.4L1433,1449.1L1434,1445.8L1435,1442.4L1436,1438.9L1437,1435.3L1438,1431.5L1439,1427.7L1440,1423.8L1441,1419.8L1442,1415.6L1443,1411.4L1444,1407L1445,1402.6L1446,1398L1447,1393.3L1448,1388.5L1449,1383.7L1450,1378.7L1451,1373.6L1452,1368.4L1453,1363.1L1454,1357.7L1455,1352.2L1456,1346.6L1457,1340.9L1458,1335.2L1459,1329.3L1460,1323.3L1461,1317.3L1462,1311.1L1463,1304.9L1464,1298.6L1465,1292.2L1466,1285.8L1467,1279.3L1468,1272.7L1469,1266.1L1470,1259.4L1471,1252.6L1472,1245.8L1473,1238.9L1474,1232.1L1475,1225.1L1476,1218.2L1477,1211.2L1478,1204.2L1479,1197.2L1480,1190.2L1481,1183.1L1482,1176.1L1483,1169.1L1484,1162.1L1485,1155.1L1486,1148.2L1487,1141.2L1488,1134.4L1489,1127.5L1490,1120.7L1491,1114L1492,1107.3L1493,1100.7L1494,1094.2L1495,1087.7L1496,1081.4L1497,1075.1L1498,1068.9L1499,1062.9L1500,1056.9L1501,1051.1L1502,1045.4L1503,1039.8L1504,1034.4L1505,1029.1L1506,1023.9L1507,1018.9L1508,1014.1L1509,1009.4L1510,1004.9L1511,1000.5L1512,996.3L1513,992.3L1514,988.5L1515,984.9L1516,981.4L1517,978.2L1518,975.1L1519,972.2L1520,969.5L1521,967.1L1522,964.8L1523,962.7L1524,960.9L1525,959.2L1526,957.7L1527,956.5L1528,955.5L1529,954.6L1530,954L1531,953.6L1532,953.4L1533,953.4L1534,953.6L1535,954L1536,954.6L1537,955.4L1538,956.4L1539,957.5L1540,958.9L1541,960.5L1542,962.2L1543,964.1L1544,966.2L1545,968.5L1546,970.9L1547,973.5L1548,976.3L1549,979.2L1550,982.3L1551,985.5L1552,988.9L1553,992.4L1554,996L1555,999.7L1556,1003.6L1557,1007.6L1558,1011.7L1559,1015.9L1560,1020.3L1561,1024.7L1562,1029.2L1563,1033.8L1564,1038.4L1565,1043.2L1566,1048L1567,1052.9L1568,1057.8L1569,1062.8L1570,1067.9L1571,1073L1572,1078.1L1573,1083.3L1574,1088.5L1575,1093.7L1576,1099L1577,1104.3L1578,1109.6L1579,1114.9L1580,1120.2L1581,1125.5L1582,1130.8L1583,1136.1L1584,1141.4L1585,1146.7L1586,1152L1587,1157.3L1588,1162.5L1589,1167.7L1590,1172.9L1591,1178.1L1592,1183.3L1593,1188.4L1594,1193.5L1595,1198.5L1596,1203.5L1597,1208.5L1598,1213.4L1599,1218.3L1600,1223.2L1601,1228L1602,1232.7L1603,1237.5L1604,1242.1L1605,1246.8L1606,1251.3L1607,1255.9L1608,1260.4L1609,1264.8L1610,1269.2L1611,1273.5L1612,1277.8L1613,1282L1614,1286.2L1615,1290.4L1616,1294.4L1617,1298.5L1618,1302.5L1619,1306.4L1620,1310.3L1621,1314.1L1622,1317.9L1623,1321.7L1624,1325.4L1625,1329L1626,1332.6L1627,1336.2L1628,1339.7L1629,1343.1L1630,1346.5L1631,1349.9L1632,1353.2L1633,1356.5L1634,1359.7L1635,1362.9L1636,1366L1637,1369.1L1638,1372.2L1639,1375.2L1640,1378.1L1641,1381L1642,1383.9L1643,1386.7L1644,1389.5L1645,1392.2L1646,1394.9L1647,1397.6L1648,1400.2L1649,1402.8L1650,1405.3L1651,1407.8L1652,1410.2L1653,1412.6L1654,1415L1655,1417.3L1656,1419.6L1657,1421.8L1658,1424L1659,1426.1L1660,1428.2L1661,1430.3L1662,1432.3L1663,1434.3L1664,1436.3L1665,1438.2L1666,1440L1667,1441.9L1668,1443.6L1669,1445.4L1670,1447.1L1671,1448.8L1672,1450.4L1673,1452L1674,1453.5L1675,1455L1676,1456.5L1677,1457.9L1678,1459.3L1679,1460.7L1680,1462L1681,1463.3L1682,1464.5L1683,1465.7L1684,1466.9L1685,1468L1686,1469.1L1687,1470.2L1688,1471.2L1689,1472.2L1690,1473.2L1691,1474.1L1692,1475L1693,1475.9L1694,1476.7L1695,1477.5L1696,1478.3L1697,1479L1698,1479.7L1699,1480.4L1700,1481L1701,1481.7L1702,1482.3L1703,1482.8L1704,1483.4L1705,1483.9L1706,1484.4L1707,1484.8L1708,1485.3L1709,1485.7L1710,1486.1L1711,1486.5L1712,1486.8L1713,1487.1L1714,1487.4L1715,1487.7L1716,1488L1717,1488.2L1718,1488.5L1719,1488.7L1720,1488.9L1721,1489L1722,1489.2L1723,1489.3L1724,1489.4L1725,1489.6L1726,1489.6L1727,1489.7L1728,1489.8L1729,1489.8L1730,1489.9L1731,1489.9L1732,1489.9L1733,1489.9L1734,1489.9L1735,1489.9L1736,1489.9L1737,1489.8L1738,1489.8L1739,1489.7L1740,1489.6L1741,1489.6L1742,1489.5L1743,1489.4L1744,1489.3L1745,1489.2L1746,1489.1L1747,1489L1748,1488.8L1749,1488.7L1750,1488.6L1751,1488.4L1752,1488.3L1753,1488.1L1754,1488L1755,1487.8L1756,1487.6L1757,1487.5L1758,1487.3L1759,1487.1L1760,1486.9L1761,1486.7L1762,1486.5L1763,1486.4L1764,1486.2L1765,1486L1766,1485.8L1767,1485.6L1768,1485.4L1769,1485.2L1770,1485L1771,1484.7L1772,1484.5L1773,1484.3L1774,1484.1L1775,1483.9L1776,1483.7L1777,1483.5L1778,1483.2L1779,1483L1780,1482.8L1781,1482.6L1782,1482.4L1783,1482.1L1784,1481.9L1785,1481.7L1786,1481.5L1787,1481.3L1788,1481L1789,1480.8L1790,1480.6L1791,1480.4L1792,1480.1L1793,1479.9L1794,1479.7L1795,1479.5L1796,1479.2L1797,1479L1798,1478.8L1799,1478.6L1800,1478.3L1801,1478.1L1802,1477.9L1803,1477.7L1804,1477.4L1805,1477.2L1806,1477L1807,1476.8L1808,1476.6L1809,1476.3L1810,1476.1L1811,1475.9L1812,1475.7L1813,1475.5L1814,1475.2L1815,1475L1816,1474.8L1817,1474.6L1818,1474.4L1819,1474.2L1820,1473.9L1821,1473.7L1822,1473.5L1823,1473.3L1824,1473.1L1825,1472.9L1826,1472.7L1827,1472.5L1828,1472.3L1829,1472.1L1830,1471.9L1831,1471.7L1832,1471.5L1833,1471.2L1834,1471L1835,1470.8L1836,1470.6L1837,1470.5L1838,1470.3L1839,1470.1L1840,1469.9L1841,1469.7L1842,1469.5L1843,1469.3L1844,1469.1L1845,1468.9L1846,1468.7L1847,1468.5L1848,1468.4L1849,1468.2L1850,1468L1851,1467.8L1852,1467.6L1853,1467.4L1854,1467.3L1855,1467.1L1856,1466.9L1857,1466.7L1858,1466.6L1859,1466.4L1860,1466.2L1861,1466.1L1862,1465.9L1863,1465.7L1864,1465.6L1865,1465.4L1866,1465.3L1867,1465.1L1868,1464.9L1869,1464.8L1870,1464.6L1871,1464.5L1872,1464.3L1873,1464.2L1874,1464L1875,1463.9L1876,1463.7L1877,1463.6L1878,1463.5L1879,1463.3L1880,1463.2L1881,1463L1882,1462.9L1883,1462.8L1884,1462.6L1885,1462.5L1886,1462.4L1887,1462.3L1888,1462.1L1889,1462L1890,1461.9L1891,1461.8L1892,1461.7L1893,1461.5L1894,1461.4L1895,1461.3L1896,1461.2L1897,1461.1L1898,1461L1899,1460.9L1900,1460.8L1901,1460.7L1902,1460.6L1903,1460.5L1904,1460.4L1905,1460.3L1906,1460.2L1907,1460.1L1908,1460L1909,1459.9L1910,1459.9L1911,1459.8L1912,1459.7L1913,1459.6L1914,1459.6L1915,1459.5L1916,1459.4L1917,1459.3L1918,1459.3L1919,1459.2L1920,1459.1L1921,1459.1L1922,1459L1923,1459L1924,1458.9L1925,1458.9L1926,1458.8L1927,1458.8L1928,1458.7L1929,1458.7L1930,1458.6L1931,1458.6L1932,1458.5L1933,1458.5L1934,1458.5L1935,1458.4L1936,1458.4L1937,1458.4L1938,1458.4L1939,1458.3L1940,1458.3L1941,1458.3L1942,1458.3L1943,1458.3L1944,1458.2L1945,1458.2L1946,1458.2L1947,1458.2L1948,1458.2L1949,1458.2L1950,1458.2L1951,1458.2L1952,1458.2L1953,1458.2L1954,1458.2L1955,1458.2L1956,1458.2L1957,1458.3L1958,1458.3L1959,1458.3L1960,1458.3L1961,1458.3L1962,1458.4L1963,1458.4L1964,1458.4L1965,1458.4L1966,1458.5L1967,1458.5L1968,1458.5L1969,1458.6L1970,1458.6L1971,1458.7L1972,1458.7L1973,1458.8L1974,1458.8L1975,1458.9L1976,1458.9L1977,1459L1978,1459L1979,1459.1L1980,1459.1L1981,1459.2L1982,1459.3L1983,1459.3L1984,1459.4L1985,1459.5L1986,1459.6L1987,1459.6L1988,1459.7L1989,1459.8L1990,1459.9L1991,1459.9L1992,1460L1993,1460.1L1994,1460.2L1995,1460.3L1996,1460.4L1997,1460.5L1998,1460.6L1999,1460.7L2000,1460.8L2001,1460.9L2002,1461L2003,1461.1L2004,1461.2L2005,1461.3L2006,1461.4L2007,1461.5L2008,1461.7L2009,1461.8L2010,1461.9L2011,1462L2012,1462.1L2013,1462.3L2014,1462.4L2015,1462.5L2016,1462.6L2017,1462.8L2018,1462.9L2019,1463L2020,1463.2L2021,1463.3L2022,1463.5L2023,1463.6L2024,1463.7L2025,1463.9L2026,1464L2027,1464.2L2028,1464.3L2029,1464.5L2030,1464.6L2031,1464.8L2032,1464.9L2033,1465.1L2034,1465.3L2035,1465.4L2036,1465.6L2037,1465.7L2038,1465.9L2039,1466.1L2040,1466.2L2041,1466.4L2042,1466.6L2043,1466.7L2044,1466.9L2045,1467.1L2046,1467.3L2047,1467.4L2048,1467.6L2049,1467.8L2050,1468" fill="none" stroke="#000" stroke-width="8" stroke-linejoin="round" stroke-linecap="butt" stroke-dasharray="42 42"/>
<rect x="1215.5" y="903.5" width="839.5" height="677.5" fill="none" stroke="#000" stroke-width="8"/>
<line x1="1274.9" y1="1577" x2="1274.9" y2="1593" stroke="#000" stroke-width="6.5"/><line x1="1394.7" y1="1577" x2="1394.7" y2="1593" stroke="#000" stroke-width="6.5"/><line x1="1514.5" y1="1577" x2="1514.5" y2="1593" stroke="#000" stroke-width="6.5"/><line x1="1634.3" y1="1577" x2="1634.3" y2="1593" stroke="#000" stroke-width="6.5"/><line x1="1754.1" y1="1577" x2="1754.1" y2="1593" stroke="#000" stroke-width="6.5"/><line x1="1873.9" y1="1577" x2="1873.9" y2="1593" stroke="#000" stroke-width="6.5"/><line x1="1993.7" y1="1577" x2="1993.7" y2="1593" stroke="#000" stroke-width="6.5"/><line x1="1215" y1="1579" x2="1215" y2="1587.5" stroke="#000" stroke-width="6.5"/><line x1="1334.8" y1="1579" x2="1334.8" y2="1587.5" stroke="#000" stroke-width="6.5"/><line x1="1454.6" y1="1579" x2="1454.6" y2="1587.5" stroke="#000" stroke-width="6.5"/><line x1="1574.4" y1="1579" x2="1574.4" y2="1587.5" stroke="#000" stroke-width="6.5"/><line x1="1694.2" y1="1579" x2="1694.2" y2="1587.5" stroke="#000" stroke-width="6.5"/><line x1="1814" y1="1579" x2="1814" y2="1587.5" stroke="#000" stroke-width="6.5"/><line x1="1933.8" y1="1579" x2="1933.8" y2="1587.5" stroke="#000" stroke-width="6.5"/><line x1="2053.6" y1="1579" x2="2053.6" y2="1587.5" stroke="#000" stroke-width="6.5"/>
<text x="1274.9" y="1648.3" font-size="58" font-weight="normal" text-anchor="middle">50</text>
<text x="1394.7" y="1648.3" font-size="58" font-weight="normal" text-anchor="middle">52</text>
<text x="1514.5" y="1648.3" font-size="58" font-weight="normal" text-anchor="middle">54</text>
<text x="1634.3" y="1648.3" font-size="58" font-weight="normal" text-anchor="middle">56</text>
<text x="1754.1" y="1648.3" font-size="58" font-weight="normal" text-anchor="middle">58</text>
<text x="1873.9" y="1648.3" font-size="58" font-weight="normal" text-anchor="middle">60</text>
<text x="1993.7" y="1648.3" font-size="58" font-weight="normal" text-anchor="middle">62</text>
<text x="1357" y="1705.7" font-size="63.5" font-weight="normal" text-anchor="start">Binding energy / eV</text>
<text transform="translate(1194,1416) rotate(-90)" x="0" y="0" font-size="64.5">Intensity / a.u</text>
<text x="1239" y="1042.8" font-size="82" font-weight="bold" text-anchor="start">(d)</text>
<text x="1890" y="963.8" font-size="57" font-weight="bold" text-anchor="start">Se 3d</text>
<text x="1242" y="944.2" font-size="41" font-weight="bold" text-anchor="start">Se 3d<tspan font-size="27" dy="11">5/2</tspan></text>
<text x="1636" y="1323.6" font-size="41" font-weight="bold" text-anchor="start">Se 3d<tspan font-size="27" dy="11">3/2</tspan></text>
<text x="1886" y="1385.9" font-size="41" font-weight="bold" text-anchor="start">SeO<tspan font-size="27" dy="11">x</tspan></text>
<line x1="1429.6" y1="950" x2="1492.4" y2="973.3" stroke="#000" stroke-width="4.3"/><path d="M1487.1,982L1494,963.2L1524.3,985.1Z" fill="#000"/>
<line x1="1651.2" y1="1332.9" x2="1626.7" y2="1369.6" stroke="#000" stroke-width="4.3"/><path d="M1619.5,1362.4L1636.1,1373.5L1607.8,1397.9Z" fill="#000"/>
<line x1="1924.5" y1="1391.5" x2="1901.3" y2="1428.5" stroke="#000" stroke-width="4.3"/><path d="M1893.9,1421.5L1910.8,1432.1L1883.2,1457.3Z" fill="#000"/>
</g>
<text x="113" y="225.5" font-size="82" font-weight="bold" text-anchor="start">(a)</text>
<g id="pa"><line x1="603" y1="49" x2="675" y2="119" stroke="#6c6c6c" stroke-width="11"/><line x1="626" y1="196" x2="675" y2="119" stroke="#6c6c6c" stroke-width="9"/><line x1="675" y1="128" x2="657" y2="227" stroke="#6c6c6c" stroke-width="12"/><line x1="666.0" y1="177.5" x2="657" y2="227" stroke="#f0961e" stroke-width="12.8"/><circle cx="675" cy="119" r="25" fill="url(#gC)"/><circle cx="675" cy="119" r="25" fill="url(#gRim)"/><circle cx="675" cy="119" r="25" fill="url(#gHL)"/><circle cx="675" cy="119" r="25" fill="url(#gHL2)"/><circle cx="699" cy="135" r="26" fill="url(#gC)"/><circle cx="699" cy="135" r="26" fill="url(#gRim)"/><circle cx="699" cy="135" r="26" fill="url(#gHL)"/><circle cx="699" cy="135" r="26" fill="url(#gHL2)"/><circle cx="626" cy="196" r="25" fill="url(#gC)"/><circle cx="626" cy="196" r="25" fill="url(#gRim)"/><circle cx="626" cy="196" r="25" fill="url(#gHL)"/><circle cx="626" cy="196" r="25" fill="url(#gHL2)"/><line x1="626" y1="196" x2="611" y2="281" stroke="#6c6c6c" stroke-width="10"/><line x1="657" y1="227" x2="746" y2="279" stroke="#f0961e" stroke-width="11"/><line x1="701.5" y1="253.0" x2="746" y2="279" stroke="#a8a8e6" stroke-width="11.8"/><line x1="746" y1="279" x2="777" y2="379" stroke="#a8a8e6" stroke-width="11"/><line x1="761.5" y1="329.0" x2="777" y2="379" stroke="#f0961e" stroke-width="11.8"/><line x1="536" y1="279" x2="539" y2="437" stroke="#e600e6" stroke-width="11"/><line x1="537.5" y1="358.0" x2="539" y2="437" stroke="#4632c8" stroke-width="11.8"/><line x1="539" y1="437" x2="687" y2="487" stroke="#4632c8" stroke-width="11"/><line x1="613.0" y1="462.0" x2="687" y2="487" stroke="#e600e6" stroke-width="11.8"/><line x1="539" y1="437" x2="438" y2="467" stroke="#4632c8" stroke-width="11"/><line x1="488.5" y1="452.0" x2="438" y2="467" stroke="#e600e6" stroke-width="11.8"/><line x1="539" y1="437" x2="498" y2="520" stroke="#4632c8" stroke-width="11"/><line x1="518.5" y1="478.5" x2="498" y2="520" stroke="#e600e6" stroke-width="11.8"/><circle cx="611" cy="281" r="26" fill="url(#gC)"/><circle cx="611" cy="281" r="26" fill="url(#gRim)"/><circle cx="611" cy="281" r="26" fill="url(#gHL)"/><circle cx="611" cy="281" r="26" fill="url(#gHL2)"/><line x1="536" y1="279" x2="657" y2="227" stroke="#e600e6" stroke-width="11"/><line x1="602.5" y1="250.4" x2="657" y2="227" stroke="#f0961e" stroke-width="11.8"/><circle cx="657" cy="227" r="27" fill="url(#gP)"/><circle cx="657" cy="227" r="27" fill="url(#gRim)"/><circle cx="657" cy="227" r="27" fill="url(#gHL)"/><circle cx="657" cy="227" r="27" fill="url(#gHL2)"/><circle cx="746" cy="279" r="24.5" fill="url(#gN)"/><circle cx="746" cy="279" r="24.5" fill="url(#gRim)"/><circle cx="746" cy="279" r="24.5" fill="url(#gHL)"/><circle cx="746" cy="279" r="24.5" fill="url(#gHL2)"/><circle cx="536" cy="279" r="31" fill="url(#gSe)"/><circle cx="536" cy="279" r="31" fill="url(#gRim)"/><circle cx="536" cy="279" r="31" fill="url(#gHL)"/><circle cx="536" cy="279" r="31" fill="url(#gHL2)"/><circle cx="603" cy="49" r="27" fill="url(#gC)"/><circle cx="603" cy="49" r="27" fill="url(#gRim)"/><circle cx="603" cy="49" r="27" fill="url(#gHL)"/><circle cx="603" cy="49" r="27" fill="url(#gHL2)"/><line x1="808" y1="405" x2="853" y2="361" stroke="#6c6c6c" stroke-width="11"/><circle cx="853" cy="361" r="25" fill="url(#gC)"/><circle cx="853" cy="361" r="25" fill="url(#gRim)"/><circle cx="853" cy="361" r="25" fill="url(#gHL)"/><circle cx="853" cy="361" r="25" fill="url(#gHL2)"/><line x1="808" y1="405" x2="884" y2="341" stroke="#6c6c6c" stroke-width="11"/><line x1="808" y1="405" x2="880" y2="394" stroke="#6c6c6c" stroke-width="11"/><line x1="880" y1="394" x2="920" y2="488" stroke="#6c6c6c" stroke-width="11"/><circle cx="777" cy="379" r="26" fill="url(#gP)"/><circle cx="777" cy="379" r="26" fill="url(#gRim)"/><circle cx="777" cy="379" r="26" fill="url(#gHL)"/><circle cx="777" cy="379" r="26" fill="url(#gHL2)"/><circle cx="884" cy="341" r="27" fill="url(#gC)"/><circle cx="884" cy="341" r="27" fill="url(#gRim)"/><circle cx="884" cy="341" r="27" fill="url(#gHL)"/><circle cx="884" cy="341" r="27" fill="url(#gHL2)"/><circle cx="880" cy="394" r="27" fill="url(#gC)"/><circle cx="880" cy="394" r="27" fill="url(#gRim)"/><circle cx="880" cy="394" r="27" fill="url(#gHL)"/><circle cx="880" cy="394" r="27" fill="url(#gHL2)"/><circle cx="920" cy="488" r="27" fill="url(#gC)"/><circle cx="920" cy="488" r="27" fill="url(#gRim)"/><circle cx="920" cy="488" r="27" fill="url(#gHL)"/><circle cx="920" cy="488" r="27" fill="url(#gHL2)"/><circle cx="727" cy="394" r="27" fill="url(#gC)"/><circle cx="727" cy="394" r="27" fill="url(#gRim)"/><circle cx="727" cy="394" r="27" fill="url(#gHL)"/><circle cx="727" cy="394" r="27" fill="url(#gHL2)"/><line x1="727" y1="394" x2="808" y2="405" stroke="#6c6c6c" stroke-width="10"/><line x1="687" y1="487" x2="777" y2="379" stroke="#e600e6" stroke-width="11"/><line x1="736.5" y1="427.6" x2="777" y2="379" stroke="#f0961e" stroke-width="11.8"/><circle cx="808" cy="405" r="27" fill="url(#gC)"/><circle cx="808" cy="405" r="27" fill="url(#gRim)"/><circle cx="808" cy="405" r="27" fill="url(#gHL)"/><circle cx="808" cy="405" r="27" fill="url(#gHL2)"/><circle cx="539" cy="437" r="32" fill="url(#gCo)"/><circle cx="539" cy="437" r="32" fill="url(#gRim)"/><circle cx="539" cy="437" r="32" fill="url(#gHL)"/><circle cx="539" cy="437" r="32" fill="url(#gHL2)"/><circle cx="687" cy="487" r="31" fill="url(#gSe)"/><circle cx="687" cy="487" r="31" fill="url(#gRim)"/><circle cx="687" cy="487" r="31" fill="url(#gHL)"/><circle cx="687" cy="487" r="31" fill="url(#gHL2)"/><line x1="302" y1="384" x2="287" y2="466" stroke="#6c6c6c" stroke-width="11"/><line x1="287" y1="466" x2="188" y2="492" stroke="#6c6c6c" stroke-width="11"/><line x1="208" y1="519" x2="269" y2="595" stroke="#6c6c6c" stroke-width="11"/><line x1="188" y1="492" x2="208" y2="519" stroke="#6c6c6c" stroke-width="9"/><line x1="287" y1="466" x2="357" y2="556" stroke="#6c6c6c" stroke-width="11"/><line x1="318.5" y1="506.5" x2="357" y2="556" stroke="#f0961e" stroke-width="11.8"/><line x1="269" y1="595" x2="325" y2="595" stroke="#6c6c6c" stroke-width="10"/><line x1="297.0" y1="595.0" x2="325" y2="595" stroke="#a8a8e6" stroke-width="10.8"/><line x1="325" y1="595" x2="376" y2="594" stroke="#a8a8e6" stroke-width="10"/><line x1="350.5" y1="594.5" x2="376" y2="594" stroke="#f0961e" stroke-width="10.8"/><line x1="376" y1="594" x2="436" y2="683" stroke="#f0961e" stroke-width="11"/><line x1="400.0" y1="629.6" x2="436" y2="683" stroke="#6c6c6c" stroke-width="11.8"/><line x1="436" y1="683" x2="525" y2="687" stroke="#6c6c6c" stroke-width="11"/><line x1="436" y1="683" x2="391" y2="731" stroke="#6c6c6c" stroke-width="11"/><line x1="333" y1="649" x2="391" y2="731" stroke="#6c6c6c" stroke-width="11"/><circle cx="302" cy="384" r="27" fill="url(#gC)"/><circle cx="302" cy="384" r="27" fill="url(#gRim)"/><circle cx="302" cy="384" r="27" fill="url(#gHL)"/><circle cx="302" cy="384" r="27" fill="url(#gHL2)"/><circle cx="208" cy="519" r="26" fill="url(#gC)"/><circle cx="208" cy="519" r="26" fill="url(#gRim)"/><circle cx="208" cy="519" r="26" fill="url(#gHL)"/><circle cx="208" cy="519" r="26" fill="url(#gHL2)"/><circle cx="188" cy="492" r="27" fill="url(#gC)"/><circle cx="188" cy="492" r="27" fill="url(#gRim)"/><circle cx="188" cy="492" r="27" fill="url(#gHL)"/><circle cx="188" cy="492" r="27" fill="url(#gHL2)"/><circle cx="287" cy="466" r="27" fill="url(#gC)"/><circle cx="287" cy="466" r="27" fill="url(#gRim)"/><circle cx="287" cy="466" r="27" fill="url(#gHL)"/><circle cx="287" cy="466" r="27" fill="url(#gHL2)"/><circle cx="290" cy="602" r="26" fill="url(#gC)"/><circle cx="290" cy="602" r="26" fill="url(#gRim)"/><circle cx="290" cy="602" r="26" fill="url(#gHL)"/><circle cx="290" cy="602" r="26" fill="url(#gHL2)"/><circle cx="269" cy="595" r="27" fill="url(#gC)"/><circle cx="269" cy="595" r="27" fill="url(#gRim)"/><circle cx="269" cy="595" r="27" fill="url(#gHL)"/><circle cx="269" cy="595" r="27" fill="url(#gHL2)"/><circle cx="325" cy="595" r="19" fill="url(#gN)"/><circle cx="325" cy="595" r="19" fill="url(#gRim)"/><circle cx="325" cy="595" r="19" fill="url(#gHL)"/><circle cx="325" cy="595" r="19" fill="url(#gHL2)"/><circle cx="376" cy="594" r="21.5" fill="url(#gP)"/><circle cx="376" cy="594" r="21.5" fill="url(#gRim)"/><circle cx="376" cy="594" r="21.5" fill="url(#gHL)"/><circle cx="376" cy="594" r="21.5" fill="url(#gHL2)"/><line x1="438" y1="467" x2="399" y2="543" stroke="#e600e6" stroke-width="11"/><line x1="413.8" y1="514.1" x2="399" y2="543" stroke="#f0961e" stroke-width="11.8"/><line x1="498" y1="520" x2="399" y2="543" stroke="#e600e6" stroke-width="11"/><line x1="430.7" y1="535.6" x2="399" y2="543" stroke="#f0961e" stroke-width="11.8"/><line x1="399" y1="543" x2="357" y2="556" stroke="#f0961e" stroke-width="12"/><circle cx="357" cy="556" r="28" fill="url(#gP)"/><circle cx="357" cy="556" r="28" fill="url(#gRim)"/><circle cx="357" cy="556" r="28" fill="url(#gHL)"/><circle cx="357" cy="556" r="28" fill="url(#gHL2)"/><line x1="357" y1="556" x2="349" y2="621" stroke="#f0961e" stroke-width="10"/><line x1="353.0" y1="588.5" x2="349" y2="621" stroke="#6c6c6c" stroke-width="10.8"/><circle cx="333" cy="649" r="27" fill="url(#gC)"/><circle cx="333" cy="649" r="27" fill="url(#gRim)"/><circle cx="333" cy="649" r="27" fill="url(#gHL)"/><circle cx="333" cy="649" r="27" fill="url(#gHL2)"/><circle cx="349" cy="621" r="26" fill="url(#gC)"/><circle cx="349" cy="621" r="26" fill="url(#gRim)"/><circle cx="349" cy="621" r="26" fill="url(#gHL)"/><circle cx="349" cy="621" r="26" fill="url(#gHL2)"/><circle cx="384" cy="775" r="27" fill="url(#gC)"/><circle cx="384" cy="775" r="27" fill="url(#gRim)"/><circle cx="384" cy="775" r="27" fill="url(#gHL)"/><circle cx="384" cy="775" r="27" fill="url(#gHL2)"/><circle cx="391" cy="731" r="27" fill="url(#gC)"/><circle cx="391" cy="731" r="27" fill="url(#gRim)"/><circle cx="391" cy="731" r="27" fill="url(#gHL)"/><circle cx="391" cy="731" r="27" fill="url(#gHL2)"/><circle cx="436" cy="683" r="27" fill="url(#gC)"/><circle cx="436" cy="683" r="27" fill="url(#gRim)"/><circle cx="436" cy="683" r="27" fill="url(#gHL)"/><circle cx="436" cy="683" r="27" fill="url(#gHL2)"/><circle cx="525" cy="687" r="27" fill="url(#gC)"/><circle cx="525" cy="687" r="27" fill="url(#gRim)"/><circle cx="525" cy="687" r="27" fill="url(#gHL)"/><circle cx="525" cy="687" r="27" fill="url(#gHL2)"/><circle cx="438" cy="467" r="31" fill="url(#gSe)"/><circle cx="438" cy="467" r="31" fill="url(#gRim)"/><circle cx="438" cy="467" r="31" fill="url(#gHL)"/><circle cx="438" cy="467" r="31" fill="url(#gHL2)"/><circle cx="498" cy="520" r="30" fill="url(#gSe)"/><circle cx="498" cy="520" r="30" fill="url(#gRim)"/><circle cx="498" cy="520" r="30" fill="url(#gHL)"/><circle cx="498" cy="520" r="30" fill="url(#gHL2)"/><line x1="532.9" y1="449.4" x2="518.5" y2="478.5" stroke="#4632c8" stroke-width="10"/><line x1="518.5" y1="478.5" x2="513.6" y2="488.5" stroke="#e600e6" stroke-width="10"/><circle cx="498" cy="520" r="30" fill="url(#gSe)"/><circle cx="498" cy="520" r="30" fill="url(#gRim)"/><circle cx="498" cy="520" r="30" fill="url(#gHL)"/><circle cx="498" cy="520" r="30" fill="url(#gHL2)"/><line x1="508.7" y1="446.0" x2="483.4" y2="453.5" stroke="#4632c8" stroke-width="10"/><line x1="483.4" y1="453.5" x2="458.2" y2="461.0" stroke="#e600e6" stroke-width="10"/></g></svg></body></html>
